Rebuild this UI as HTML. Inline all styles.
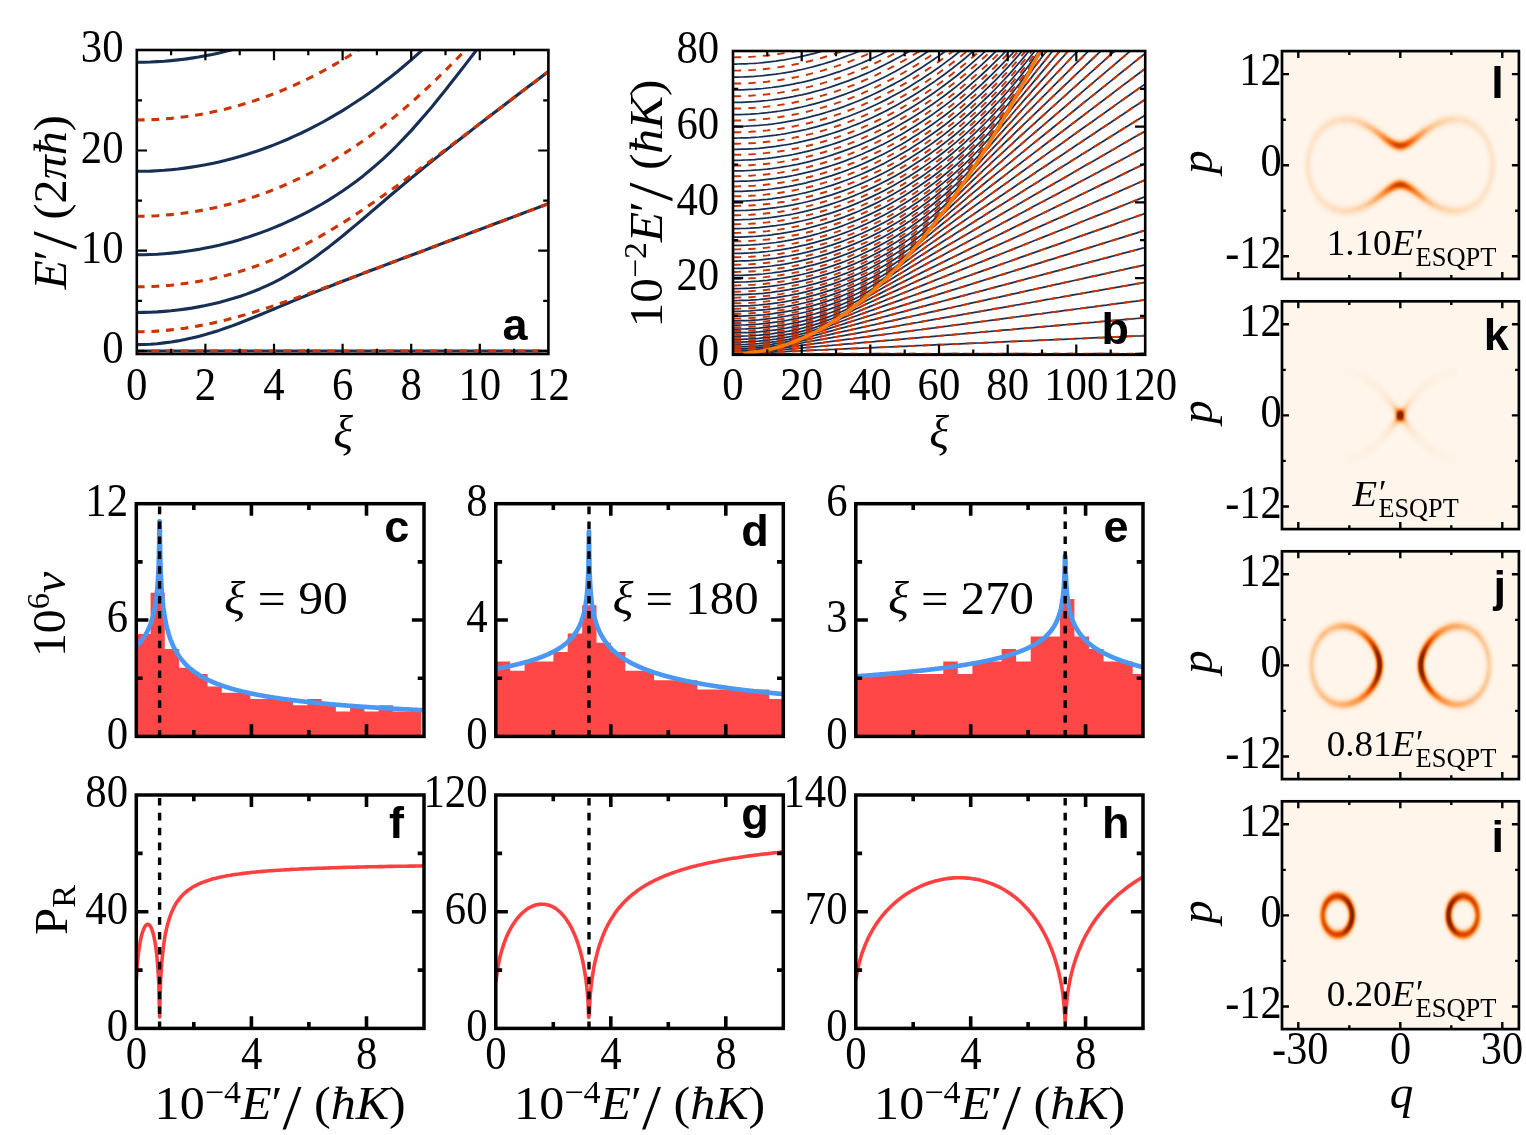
<!DOCTYPE html>
<html><head><meta charset="utf-8"><title>Figure</title>
<style>html,body{margin:0;padding:0;background:#fff}svg{display:block}</style></head>
<body>
<svg width="1526" height="1135" viewBox="0 0 1526 1135">
<rect width="1526" height="1135" fill="#fff"/>
<defs>
<clipPath id="ca"><rect x="136.8" y="50" width="411.6" height="304"/></clipPath>
<clipPath id="cb"><rect x="733" y="51" width="412.2" height="303.8"/></clipPath>
</defs>
<g clip-path="url(#ca)" fill="none" stroke-linejoin="round">
<polyline points="136.8,351 143.6,351 150.5,351 157.3,351 164.2,351 171.1,351 177.9,351 184.8,351 191.6,351 198.5,351 205.4,351 212.2,351 219.1,351 225.9,351 232.8,351 239.7,351 246.5,351 253.4,351 260.2,351 267.1,351 274,351 280.8,351 287.7,351 294.5,351 301.4,351 308.3,351 315.1,351 322,351 328.9,351 335.7,351 342.6,351 349.4,351 356.3,351 363.2,351 370,351 376.9,351 383.7,351 390.6,351 397.5,351 404.3,351 411.2,351 418,351 424.9,351 431.8,351 438.6,351 445.5,351 452.3,351 459.2,351 466.1,351 472.9,351 479.8,351 486.7,351 493.5,351 500.4,351 507.2,351 514.1,351 521,351 527.8,351 534.7,351 541.5,351 548.4,351" stroke="#172f55" stroke-width="3.1"/>
<polyline points="136.8,344.6 143.6,344.5 150.5,344.2 157.3,343.7 164.2,342.9 171.1,342 177.9,340.9 184.8,339.6 191.6,338.1 198.5,336.4 205.4,334.6 212.2,332.6 219.1,330.4 225.9,328 232.8,325.6 239.7,323 246.5,320.3 253.4,317.5 260.2,314.7 267.1,311.9 274,309 280.8,306.1 287.7,303.3 294.5,300.4 301.4,297.6 308.3,294.8 315.1,292.1 322,289.4 328.9,286.7 335.7,284 342.6,281.3 349.4,278.7 356.3,276.1 363.2,273.4 370,270.8 376.9,268.2 383.7,265.6 390.6,263 397.5,260.4 404.3,257.8 411.2,255.3 418,252.7 424.9,250.1 431.8,247.5 438.6,244.9 445.5,242.3 452.3,239.8 459.2,237.2 466.1,234.6 472.9,232 479.8,229.5 486.7,226.9 493.5,224.3 500.4,221.7 507.2,219.2 514.1,216.6 521,214 527.8,211.4 534.7,208.9 541.5,206.3 548.4,203.7" stroke="#172f55" stroke-width="3.1"/>
<polyline points="136.8,312.5 143.6,312.4 150.5,312.2 157.3,311.9 164.2,311.4 171.1,310.8 177.9,310 184.8,309.1 191.6,308.1 198.5,306.9 205.4,305.6 212.2,304.1 219.1,302.4 225.9,300.6 232.8,298.6 239.7,296.4 246.5,294.1 253.4,291.5 260.2,288.7 267.1,285.6 274,282.3 280.8,278.8 287.7,274.9 294.5,270.9 301.4,266.5 308.3,262 315.1,257.2 322,252.1 328.9,246.9 335.7,241.5 342.6,236 349.4,230.3 356.3,224.6 363.2,218.8 370,212.9 376.9,207 383.7,201.2 390.6,195.3 397.5,189.5 404.3,183.8 411.2,178.1 418,172.5 424.9,166.9 431.8,161.4 438.6,155.9 445.5,150.5 452.3,145.1 459.2,139.7 466.1,134.4 472.9,129.1 479.8,123.8 486.7,118.5 493.5,113.3 500.4,108 507.2,102.8 514.1,97.5 521,92.3 527.8,87.1 534.7,81.9 541.5,76.7 548.4,71.5" stroke="#172f55" stroke-width="3.1"/>
<polyline points="136.8,254.7 143.6,254.7 150.5,254.5 157.3,254.2 164.2,253.7 171.1,253.1 177.9,252.4 184.8,251.5 191.6,250.5 198.5,249.4 205.4,248.1 212.2,246.7 219.1,245.2 225.9,243.5 232.8,241.7 239.7,239.7 246.5,237.6 253.4,235.3 260.2,232.9 267.1,230.4 274,227.6 280.8,224.8 287.7,221.7 294.5,218.5 301.4,215.2 308.3,211.6 315.1,207.9 322,204 328.9,199.9 335.7,195.5 342.6,191 349.4,186.2 356.3,181.2 363.2,175.9 370,170.3 376.9,164.4 383.7,158.3 390.6,151.8 397.5,145 404.3,137.9 411.2,130.6 418,122.9 424.9,115 431.8,106.9 438.6,98.5 445.5,90 452.3,81.3 459.2,72.5 466.1,63.6 472.9,54.7 479.8,45.7 486.7,36.8 493.5,27.9 500.4,19 507.2,10.3 514.1,1.6 521,-7 527.8,-15.6 534.7,-24 541.5,-32.4 548.4,-40.7" stroke="#172f55" stroke-width="3.1"/>
<polyline points="136.8,171.3 143.6,171.3 150.5,171.1 157.3,170.7 164.2,170.3 171.1,169.7 177.9,169 184.8,168.1 191.6,167.1 198.5,166 205.4,164.8 212.2,163.4 219.1,161.9 225.9,160.3 232.8,158.5 239.7,156.6 246.5,154.5 253.4,152.3 260.2,150 267.1,147.5 274,144.9 280.8,142.1 287.7,139.2 294.5,136.2 301.4,133 308.3,129.6 315.1,126.1 322,122.5 328.9,118.7 335.7,114.7 342.6,110.6 349.4,106.3 356.3,101.8 363.2,97.2 370,92.4 376.9,87.5 383.7,82.3 390.6,77 397.5,71.5 404.3,65.8 411.2,59.9 418,53.8 424.9,47.5 431.8,40.9 438.6,34.1 445.5,27.1 452.3,19.8 459.2,12.3 466.1,4.4 472.9,-3.7 479.8,-12.2 486.7,-21 493.5,-30.2 500.4,-39.7 507.2,-49.6 514.1,-59.7 521,-70.2 527.8,-81.1 534.7,-92.1 541.5,-103.5 548.4,-115" stroke="#172f55" stroke-width="3.1"/>
<polyline points="136.8,62.2 143.6,62.2 150.5,62 157.3,61.6 164.2,61.2 171.1,60.6 177.9,59.9 184.8,59.1 191.6,58.1 198.5,57 205.4,55.7 212.2,54.4 219.1,52.9 225.9,51.2 232.8,49.5 239.7,47.6 246.5,45.6 253.4,43.4 260.2,41.1 267.1,38.6 274,36.1 280.8,33.4 287.7,30.5 294.5,27.5 301.4,24.4 308.3,21.1 315.1,17.7 322,14.1 328.9,10.4 335.7,6.6 342.6,2.6 349.4,-1.5 356.3,-5.8 363.2,-10.3 370,-14.9 376.9,-19.6 383.7,-24.5 390.6,-29.6 397.5,-34.8 404.3,-40.2 411.2,-45.8 418,-51.5 424.9,-57.4 431.8,-63.4 438.6,-69.6 445.5,-76 452.3,-82.6 459.2,-89.4 466.1,-96.3 472.9,-103.4 479.8,-110.7 486.7,-118.2 493.5,-125.9 500.4,-133.9 507.2,-142 514.1,-150.3 521,-158.9 527.8,-167.7 534.7,-176.7 541.5,-186 548.4,-195.5" stroke="#172f55" stroke-width="3.1"/>
<polyline points="136.8,351 143.6,351 150.5,351 157.3,351 164.2,351 171.1,351 177.9,351 184.8,351 191.6,351 198.5,351 205.4,351 212.2,351 219.1,351 225.9,351 232.8,351 239.7,351 246.5,351 253.4,351 260.2,351 267.1,351 274,351 280.8,351 287.7,351 294.5,351 301.4,351 308.3,351 315.1,351 322,351 328.9,351 335.7,351 342.6,351 349.4,351 356.3,351 363.2,351 370,351 376.9,351 383.7,351 390.6,351 397.5,351 404.3,351 411.2,351 418,351 424.9,351 431.8,351 438.6,351 445.5,351 452.3,351 459.2,351 466.1,351 472.9,351 479.8,351 486.7,351 493.5,351 500.4,351 507.2,351 514.1,351 521,351 527.8,351 534.7,351 541.5,351 548.4,351" stroke="#cc3300" stroke-width="3.1" stroke-dasharray="7.8 6.85"/>
<polyline points="136.8,331.7 143.6,331.7 150.5,331.5 157.3,331.1 164.2,330.6 171.1,329.9 177.9,329.1 184.8,328.2 191.6,327.1 198.5,325.9 205.4,324.6 212.2,323.2 219.1,321.6 225.9,319.9 232.8,318.2 239.7,316.3 246.5,314.3 253.4,312.3 260.2,310.1 267.1,307.9 274,305.7 280.8,303.3 287.7,301 294.5,298.6 301.4,296.1 308.3,293.7 315.1,291.2 322,288.6 328.9,286.1 335.7,283.6 342.6,281 349.4,278.4 356.3,275.9 363.2,273.3 370,270.7 376.9,268.1 383.7,265.6 390.6,263 397.5,260.4 404.3,257.8 411.2,255.2 418,252.7 424.9,250.1 431.8,247.5 438.6,244.9 445.5,242.3 452.3,239.8 459.2,237.2 466.1,234.6 472.9,232 479.8,229.5 486.7,226.9 493.5,224.3 500.4,221.7 507.2,219.2 514.1,216.6 521,214 527.8,211.4 534.7,208.9 541.5,206.3 548.4,203.7" stroke="#cc3300" stroke-width="3.1" stroke-dasharray="7.8 6.85"/>
<polyline points="136.8,286.8 143.6,286.8 150.5,286.6 157.3,286.2 164.2,285.8 171.1,285.2 177.9,284.4 184.8,283.5 191.6,282.5 198.5,281.4 205.4,280.1 212.2,278.7 219.1,277.1 225.9,275.4 232.8,273.5 239.7,271.5 246.5,269.3 253.4,267 260.2,264.6 267.1,261.9 274,259.1 280.8,256.2 287.7,253.1 294.5,249.9 301.4,246.4 308.3,242.9 315.1,239.2 322,235.3 328.9,231.3 335.7,227.2 342.6,223 349.4,218.6 356.3,214.1 363.2,209.5 370,204.8 376.9,200.1 383.7,195.3 390.6,190.3 397.5,185.4 404.3,180.4 411.2,175.3 418,170.2 424.9,165.1 431.8,159.9 438.6,154.8 445.5,149.6 452.3,144.4 459.2,139.2 466.1,134 472.9,128.8 479.8,123.6 486.7,118.3 493.5,113.1 500.4,107.9 507.2,102.7 514.1,97.5 521,92.3 527.8,87.1 534.7,81.9 541.5,76.7 548.4,71.5" stroke="#cc3300" stroke-width="3.1" stroke-dasharray="7.8 6.85"/>
<polyline points="136.8,216.2 143.6,216.2 150.5,216 157.3,215.7 164.2,215.2 171.1,214.6 177.9,213.9 184.8,213 191.6,212 198.5,210.9 205.4,209.7 212.2,208.3 219.1,206.8 225.9,205.1 232.8,203.3 239.7,201.4 246.5,199.3 253.4,197.1 260.2,194.7 267.1,192.2 274,189.5 280.8,186.7 287.7,183.8 294.5,180.7 301.4,177.4 308.3,174 315.1,170.4 322,166.7 328.9,162.8 335.7,158.7 342.6,154.5 349.4,150.1 356.3,145.5 363.2,140.8 370,135.9 376.9,130.8 383.7,125.5 390.6,120.1 397.5,114.4 404.3,108.6 411.2,102.7 418,96.5 424.9,90.2 431.8,83.8 438.6,77.1 445.5,70.4 452.3,63.5 459.2,56.5 466.1,49.3 472.9,42.1 479.8,34.7 486.7,27.3 493.5,19.7 500.4,12.1 507.2,4.5 514.1,-3.2 521,-11 527.8,-18.8 534.7,-26.6 541.5,-34.5 548.4,-42.3" stroke="#cc3300" stroke-width="3.1" stroke-dasharray="7.8 6.85"/>
<polyline points="136.8,120 143.6,119.9 150.5,119.7 157.3,119.4 164.2,118.9 171.1,118.4 177.9,117.6 184.8,116.8 191.6,115.8 198.5,114.7 205.4,113.5 212.2,112.1 219.1,110.6 225.9,109 232.8,107.2 239.7,105.3 246.5,103.2 253.4,101.1 260.2,98.8 267.1,96.3 274,93.7 280.8,91 287.7,88.1 294.5,85.1 301.4,81.9 308.3,78.6 315.1,75.2 322,71.6 328.9,67.8 335.7,63.9 342.6,59.9 349.4,55.7 356.3,51.3 363.2,46.8 370,42.1 376.9,37.3 383.7,32.3 390.6,27.1 397.5,21.8 404.3,16.3 411.2,10.6 418,4.8 424.9,-1.2 431.8,-7.4 438.6,-13.8 445.5,-20.4 452.3,-27.1 459.2,-34.1 466.1,-41.2 472.9,-48.5 479.8,-56.1 486.7,-63.8 493.5,-71.7 500.4,-79.8 507.2,-88 514.1,-96.5 521,-105.2 527.8,-114 534.7,-123 541.5,-132.2 548.4,-141.5" stroke="#cc3300" stroke-width="3.1" stroke-dasharray="7.8 6.85"/>
</g>
<path d="M205.4 354v-10.2M205.4 50v10.2M274 354v-10.2M274 50v10.2M342.6 354v-10.2M342.6 50v10.2M411.2 354v-10.2M411.2 50v10.2M479.8 354v-10.2M479.8 50v10.2M171.1 354v-5.2M171.1 50v5.2M239.7 354v-5.2M239.7 50v5.2M308.3 354v-5.2M308.3 50v5.2M376.9 354v-5.2M376.9 50v5.2M445.5 354v-5.2M445.5 50v5.2M514.1 354v-5.2M514.1 50v5.2M136.8 351h10.2M548.4 351h-10.2M136.8 250.7h10.2M548.4 250.7h-10.2M136.8 150.5h10.2M548.4 150.5h-10.2M136.8 300.9h5.2M548.4 300.9h-5.2M136.8 200.6h5.2M548.4 200.6h-5.2M136.8 100.3h5.2M548.4 100.3h-5.2" stroke="#000" stroke-width="2.2" fill="none"/>
<rect x="136.8" y="50" width="411.6" height="304" fill="none" stroke="#000" stroke-width="2.6"/>
<text transform="translate(123.6 363.2) scale(0.93 1)" font-family='"Liberation Serif", "DejaVu Serif", serif' font-size="46" text-anchor="end">0</text>
<text transform="translate(123.6 262.9) scale(0.93 1)" font-family='"Liberation Serif", "DejaVu Serif", serif' font-size="46" text-anchor="end">10</text>
<text transform="translate(123.6 162.7) scale(0.93 1)" font-family='"Liberation Serif", "DejaVu Serif", serif' font-size="46" text-anchor="end">20</text>
<text transform="translate(123.6 62.4) scale(0.93 1)" font-family='"Liberation Serif", "DejaVu Serif", serif' font-size="46" text-anchor="end">30</text>
<text transform="translate(136.8 399.8) scale(0.93 1)" font-family='"Liberation Serif", "DejaVu Serif", serif' font-size="46" text-anchor="middle">0</text>
<text transform="translate(205.4 399.8) scale(0.93 1)" font-family='"Liberation Serif", "DejaVu Serif", serif' font-size="46" text-anchor="middle">2</text>
<text transform="translate(274 399.8) scale(0.93 1)" font-family='"Liberation Serif", "DejaVu Serif", serif' font-size="46" text-anchor="middle">4</text>
<text transform="translate(342.6 399.8) scale(0.93 1)" font-family='"Liberation Serif", "DejaVu Serif", serif' font-size="46" text-anchor="middle">6</text>
<text transform="translate(411.2 399.8) scale(0.93 1)" font-family='"Liberation Serif", "DejaVu Serif", serif' font-size="46" text-anchor="middle">8</text>
<text transform="translate(479.8 399.8) scale(0.93 1)" font-family='"Liberation Serif", "DejaVu Serif", serif' font-size="46" text-anchor="middle">10</text>
<text transform="translate(548.4 399.8) scale(0.93 1)" font-family='"Liberation Serif", "DejaVu Serif", serif' font-size="46" text-anchor="middle">12</text>
<text x="343" y="448" font-family='"Liberation Serif", "DejaVu Serif", serif' font-size="46" text-anchor="middle" font-style="italic">ξ</text>
<text transform="translate(66.2 289.5) rotate(-90)" font-family='"Liberation Serif", "DejaVu Serif", serif' font-size="47" textLength="174.3" lengthAdjust="spacingAndGlyphs"><tspan font-style="italic">E</tspan>′<tspan font-size="64" dy="10">/</tspan><tspan dy="-10" font-size="1">​</tspan> (2<tspan font-style="italic">πħ</tspan>)</text>
<g clip-path="url(#cb)" fill="none" stroke-linejoin="round">
<g stroke="#172f55" stroke-width="1.75">
<polyline points="733,353.8 737.3,353.8 741.6,353.8 745.9,353.8 750.2,353.8 754.5,353.8 758.8,353.8 763,353.8 767.3,353.8 771.6,353.8 775.9,353.8 780.2,353.8 784.5,353.8 788.8,353.8 793.1,353.8 797.4,353.8 801.7,353.8 806,353.8 810.2,353.8 814.5,353.8 818.8,353.8 823.1,353.8 827.4,353.8 831.7,353.8 836,353.8 840.3,353.7 844.6,353.8 848.9,353.8 853.2,353.8 857.5,353.8 861.8,353.8 866,353.8 870.3,353.8 874.6,353.7 878.9,353.7 883.2,353.8 887.5,353.7 891.8,353.8 896.1,353.8 900.4,353.7 904.7,353.8 909,353.8 913.2,353.7 917.5,353.8 921.8,353.8 926.1,353.8 930.4,353.8 934.7,353.8 939,353.8 943.3,353.8 947.6,353.7 951.9,353.7 956.2,353.7 960.5,353.8 964.8,353.7 969,353.8 973.3,353.8 977.6,353.7 981.9,353.8 986.2,353.8 990.5,353.7 994.8,353.8 999.1,353.8 1003.4,353.7 1007.7,353.7 1012,353.8 1016.2,353.7 1020.5,353.7 1024.8,353.7 1029.1,353.8 1033.4,353.8 1037.7,353.8 1042,353.7 1046.3,353.8 1050.6,353.8 1054.9,353.7 1059.2,353.8 1063.5,353.8 1067.8,353.7 1072,353.7 1076.3,353.8 1080.6,353.8 1084.9,353.8 1089.2,353.8 1093.5,353.7 1097.8,353.7 1102.1,353.7 1106.4,353.7 1110.7,353.7 1115,353.8 1119.2,353.8 1123.5,353.8 1127.8,353.8 1132.1,353.8 1136.4,353.8 1140.7,353.7 1145,353.7"/>
<polyline points="733,353.7 737.3,353.6 741.6,353.5 745.9,353.3 750.2,353.1 754.5,352.9 758.8,352.7 763,352.5 767.3,352.3 771.6,352.1 775.9,351.9 780.2,351.7 784.5,351.6 788.8,351.4 793.1,351.2 797.4,351 801.7,350.8 806,350.6 810.2,350.4 814.5,350.2 818.8,350 823.1,349.9 827.4,349.7 831.7,349.5 836,349.3 840.3,349.1 844.6,348.9 848.9,348.7 853.2,348.5 857.5,348.3 861.8,348.2 866,348 870.3,347.8 874.6,347.6 878.9,347.4 883.2,347.2 887.5,347 891.8,346.8 896.1,346.6 900.4,346.4 904.7,346.3 909,346.1 913.2,345.9 917.5,345.7 921.8,345.5 926.1,345.3 930.4,345.1 934.7,344.9 939,344.7 943.3,344.6 947.6,344.4 951.9,344.2 956.2,344 960.5,343.8 964.8,343.6 969,343.4 973.3,343.2 977.6,343 981.9,342.9 986.2,342.7 990.5,342.5 994.8,342.3 999.1,342.1 1003.4,341.9 1007.7,341.7 1012,341.5 1016.2,341.3 1020.5,341.1 1024.8,341 1029.1,340.8 1033.4,340.6 1037.7,340.4 1042,340.2 1046.3,340 1050.6,339.8 1054.9,339.6 1059.2,339.4 1063.5,339.3 1067.8,339.1 1072,338.9 1076.3,338.7 1080.6,338.5 1084.9,338.3 1089.2,338.1 1093.5,337.9 1097.8,337.7 1102.1,337.6 1106.4,337.4 1110.7,337.2 1115,337 1119.2,336.8 1123.5,336.6 1127.8,336.4 1132.1,336.2 1136.4,336 1140.7,335.9 1145,335.7"/>
<polyline points="733,353.3 737.3,353.3 741.6,353.2 745.9,353 750.2,352.7 754.5,352.3 758.8,351.9 763,351.5 767.3,351.1 771.6,350.7 775.9,350.3 780.2,349.9 784.5,349.5 788.8,349.2 793.1,348.8 797.4,348.4 801.7,348 806,347.6 810.2,347.3 814.5,346.9 818.8,346.5 823.1,346.1 827.4,345.7 831.7,345.4 836,345 840.3,344.6 844.6,344.2 848.9,343.8 853.2,343.5 857.5,343.1 861.8,342.7 866,342.3 870.3,342 874.6,341.6 878.9,341.2 883.2,340.8 887.5,340.4 891.8,340.1 896.1,339.7 900.4,339.3 904.7,338.9 909,338.5 913.2,338.2 917.5,337.8 921.8,337.4 926.1,337 930.4,336.7 934.7,336.3 939,335.9 943.3,335.5 947.6,335.1 951.9,334.8 956.2,334.4 960.5,334 964.8,333.6 969,333.2 973.3,332.9 977.6,332.5 981.9,332.1 986.2,331.7 990.5,331.4 994.8,331 999.1,330.6 1003.4,330.2 1007.7,329.8 1012,329.5 1016.2,329.1 1020.5,328.7 1024.8,328.3 1029.1,327.9 1033.4,327.6 1037.7,327.2 1042,326.8 1046.3,326.4 1050.6,326.1 1054.9,325.7 1059.2,325.3 1063.5,324.9 1067.8,324.5 1072,324.2 1076.3,323.8 1080.6,323.4 1084.9,323 1089.2,322.6 1093.5,322.3 1097.8,321.9 1102.1,321.5 1106.4,321.1 1110.7,320.8 1115,320.4 1119.2,320 1123.5,319.6 1127.8,319.2 1132.1,318.9 1136.4,318.5 1140.7,318.1 1145,317.7"/>
<polyline points="733,352.6 737.3,352.6 741.6,352.5 745.9,352.3 750.2,352.1 754.5,351.8 758.8,351.4 763,350.8 767.3,350.1 771.6,349.5 775.9,348.9 780.2,348.3 784.5,347.7 788.8,347.1 793.1,346.6 797.4,346 801.7,345.4 806,344.8 810.2,344.3 814.5,343.7 818.8,343.1 823.1,342.6 827.4,342 831.7,341.4 836,340.8 840.3,340.3 844.6,339.7 848.9,339.1 853.2,338.6 857.5,338 861.8,337.4 866,336.9 870.3,336.3 874.6,335.7 878.9,335.2 883.2,334.6 887.5,334 891.8,333.5 896.1,332.9 900.4,332.3 904.7,331.7 909,331.2 913.2,330.6 917.5,330 921.8,329.5 926.1,328.9 930.4,328.3 934.7,327.8 939,327.2 943.3,326.6 947.6,326.1 951.9,325.5 956.2,324.9 960.5,324.4 964.8,323.8 969,323.2 973.3,322.7 977.6,322.1 981.9,321.5 986.2,321 990.5,320.4 994.8,319.8 999.1,319.3 1003.4,318.7 1007.7,318.1 1012,317.5 1016.2,317 1020.5,316.4 1024.8,315.8 1029.1,315.3 1033.4,314.7 1037.7,314.1 1042,313.6 1046.3,313 1050.6,312.4 1054.9,311.9 1059.2,311.3 1063.5,310.7 1067.8,310.2 1072,309.6 1076.3,309 1080.6,308.5 1084.9,307.9 1089.2,307.3 1093.5,306.8 1097.8,306.2 1102.1,305.6 1106.4,305.1 1110.7,304.5 1115,303.9 1119.2,303.4 1123.5,302.8 1127.8,302.2 1132.1,301.6 1136.4,301.1 1140.7,300.5 1145,299.9"/>
<polyline points="733,351.6 737.3,351.6 741.6,351.5 745.9,351.4 750.2,351.1 754.5,350.9 758.8,350.5 763,350 767.3,349.5 771.6,348.7 775.9,347.9 780.2,347 784.5,346.2 788.8,345.4 793.1,344.6 797.4,343.8 801.7,343 806,342.2 810.2,341.5 814.5,340.7 818.8,339.9 823.1,339.2 827.4,338.4 831.7,337.7 836,336.9 840.3,336.1 844.6,335.4 848.9,334.6 853.2,333.9 857.5,333.1 861.8,332.3 866,331.6 870.3,330.8 874.6,330.1 878.9,329.3 883.2,328.5 887.5,327.8 891.8,327 896.1,326.3 900.4,325.5 904.7,324.7 909,324 913.2,323.2 917.5,322.5 921.8,321.7 926.1,320.9 930.4,320.2 934.7,319.4 939,318.7 943.3,317.9 947.6,317.2 951.9,316.4 956.2,315.6 960.5,314.9 964.8,314.1 969,313.4 973.3,312.6 977.6,311.9 981.9,311.1 986.2,310.3 990.5,309.6 994.8,308.8 999.1,308.1 1003.4,307.3 1007.7,306.6 1012,305.8 1016.2,305 1020.5,304.3 1024.8,303.5 1029.1,302.8 1033.4,302 1037.7,301.3 1042,300.5 1046.3,299.7 1050.6,299 1054.9,298.2 1059.2,297.5 1063.5,296.7 1067.8,296 1072,295.2 1076.3,294.4 1080.6,293.7 1084.9,292.9 1089.2,292.2 1093.5,291.4 1097.8,290.7 1102.1,289.9 1106.4,289.1 1110.7,288.4 1115,287.6 1119.2,286.9 1123.5,286.1 1127.8,285.4 1132.1,284.6 1136.4,283.8 1140.7,283.1 1145,282.3"/>
<polyline points="733,350.3 737.3,350.3 741.6,350.2 745.9,350.1 750.2,349.9 754.5,349.6 758.8,349.2 763,348.8 767.3,348.3 771.6,347.7 775.9,347 780.2,346.2 784.5,345.1 788.8,344 793.1,342.9 797.4,341.9 801.7,340.9 806,339.9 810.2,338.9 814.5,338 818.8,337 823.1,336 827.4,335.1 831.7,334.1 836,333.1 840.3,332.2 844.6,331.2 848.9,330.3 853.2,329.3 857.5,328.4 861.8,327.4 866,326.5 870.3,325.5 874.6,324.6 878.9,323.6 883.2,322.7 887.5,321.7 891.8,320.8 896.1,319.8 900.4,318.9 904.7,317.9 909,317 913.2,316 917.5,315.1 921.8,314.1 926.1,313.2 930.4,312.2 934.7,311.3 939,310.3 943.3,309.4 947.6,308.4 951.9,307.5 956.2,306.5 960.5,305.6 964.8,304.6 969,303.7 973.3,302.7 977.6,301.8 981.9,300.8 986.2,299.9 990.5,298.9 994.8,298 999.1,297.1 1003.4,296.1 1007.7,295.2 1012,294.2 1016.2,293.3 1020.5,292.3 1024.8,291.4 1029.1,290.4 1033.4,289.5 1037.7,288.5 1042,287.6 1046.3,286.6 1050.6,285.7 1054.9,284.7 1059.2,283.8 1063.5,282.8 1067.8,281.9 1072,281 1076.3,280 1080.6,279.1 1084.9,278.1 1089.2,277.2 1093.5,276.2 1097.8,275.3 1102.1,274.3 1106.4,273.4 1110.7,272.4 1115,271.5 1119.2,270.5 1123.5,269.6 1127.8,268.6 1132.1,267.7 1136.4,266.8 1140.7,265.8 1145,264.9"/>
<polyline points="733,348.8 737.3,348.7 741.6,348.6 745.9,348.5 750.2,348.3 754.5,348 758.8,347.7 763,347.2 767.3,346.8 771.6,346.2 775.9,345.6 780.2,344.8 784.5,344 788.8,343 793.1,341.8 797.4,340.5 801.7,339.2 806,337.9 810.2,336.7 814.5,335.5 818.8,334.3 823.1,333.1 827.4,331.9 831.7,330.8 836,329.6 840.3,328.4 844.6,327.3 848.9,326.1 853.2,325 857.5,323.8 861.8,322.7 866,321.5 870.3,320.4 874.6,319.3 878.9,318.1 883.2,317 887.5,315.8 891.8,314.7 896.1,313.5 900.4,312.4 904.7,311.3 909,310.1 913.2,309 917.5,307.8 921.8,306.7 926.1,305.6 930.4,304.4 934.7,303.3 939,302.1 943.3,301 947.6,299.9 951.9,298.7 956.2,297.6 960.5,296.4 964.8,295.3 969,294.2 973.3,293 977.6,291.9 981.9,290.8 986.2,289.6 990.5,288.5 994.8,287.3 999.1,286.2 1003.4,285.1 1007.7,283.9 1012,282.8 1016.2,281.7 1020.5,280.5 1024.8,279.4 1029.1,278.2 1033.4,277.1 1037.7,276 1042,274.8 1046.3,273.7 1050.6,272.6 1054.9,271.4 1059.2,270.3 1063.5,269.1 1067.8,268 1072,266.9 1076.3,265.7 1080.6,264.6 1084.9,263.5 1089.2,262.3 1093.5,261.2 1097.8,260.1 1102.1,258.9 1106.4,257.8 1110.7,256.6 1115,255.5 1119.2,254.4 1123.5,253.2 1127.8,252.1 1132.1,251 1136.4,249.8 1140.7,248.7 1145,247.6"/>
<polyline points="733,346.9 737.3,346.8 741.6,346.7 745.9,346.6 750.2,346.4 754.5,346.1 758.8,345.8 763,345.4 767.3,344.9 771.6,344.4 775.9,343.7 780.2,343 784.5,342.3 788.8,341.4 793.1,340.4 797.4,339.3 801.7,338 806,336.5 810.2,334.9 814.5,333.4 818.8,331.9 823.1,330.5 827.4,329.1 831.7,327.7 836,326.3 840.3,325 844.6,323.6 848.9,322.2 853.2,320.9 857.5,319.5 861.8,318.2 866,316.8 870.3,315.5 874.6,314.2 878.9,312.8 883.2,311.5 887.5,310.1 891.8,308.8 896.1,307.5 900.4,306.1 904.7,304.8 909,303.5 913.2,302.1 917.5,300.8 921.8,299.5 926.1,298.1 930.4,296.8 934.7,295.5 939,294.1 943.3,292.8 947.6,291.5 951.9,290.1 956.2,288.8 960.5,287.5 964.8,286.2 969,284.8 973.3,283.5 977.6,282.2 981.9,280.8 986.2,279.5 990.5,278.2 994.8,276.9 999.1,275.5 1003.4,274.2 1007.7,272.9 1012,271.5 1016.2,270.2 1020.5,268.9 1024.8,267.6 1029.1,266.2 1033.4,264.9 1037.7,263.6 1042,262.3 1046.3,260.9 1050.6,259.6 1054.9,258.3 1059.2,256.9 1063.5,255.6 1067.8,254.3 1072,253 1076.3,251.6 1080.6,250.3 1084.9,249 1089.2,247.7 1093.5,246.3 1097.8,245 1102.1,243.7 1106.4,242.4 1110.7,241 1115,239.7 1119.2,238.4 1123.5,237.1 1127.8,235.7 1132.1,234.4 1136.4,233.1 1140.7,231.7 1145,230.4"/>
<polyline points="733,344.7 737.3,344.6 741.6,344.5 745.9,344.4 750.2,344.2 754.5,343.9 758.8,343.6 763,343.2 767.3,342.7 771.6,342.2 775.9,341.6 780.2,340.9 784.5,340.1 788.8,339.3 793.1,338.4 797.4,337.4 801.7,336.2 806,335 810.2,333.6 814.5,332 818.8,330.2 823.1,328.4 827.4,326.6 831.7,325 836,323.4 840.3,321.8 844.6,320.2 848.9,318.6 853.2,317 857.5,315.5 861.8,313.9 866,312.4 870.3,310.8 874.6,309.3 878.9,307.7 883.2,306.2 887.5,304.7 891.8,303.1 896.1,301.6 900.4,300.1 904.7,298.5 909,297 913.2,295.5 917.5,294 921.8,292.4 926.1,290.9 930.4,289.4 934.7,287.9 939,286.3 943.3,284.8 947.6,283.3 951.9,281.8 956.2,280.2 960.5,278.7 964.8,277.2 969,275.7 973.3,274.2 977.6,272.6 981.9,271.1 986.2,269.6 990.5,268.1 994.8,266.6 999.1,265 1003.4,263.5 1007.7,262 1012,260.5 1016.2,259 1020.5,257.4 1024.8,255.9 1029.1,254.4 1033.4,252.9 1037.7,251.4 1042,249.8 1046.3,248.3 1050.6,246.8 1054.9,245.3 1059.2,243.8 1063.5,242.3 1067.8,240.7 1072,239.2 1076.3,237.7 1080.6,236.2 1084.9,234.7 1089.2,233.2 1093.5,231.6 1097.8,230.1 1102.1,228.6 1106.4,227.1 1110.7,225.6 1115,224.1 1119.2,222.5 1123.5,221 1127.8,219.5 1132.1,218 1136.4,216.5 1140.7,215 1145,213.5"/>
<polyline points="733,342.2 737.3,342.1 741.6,342.1 745.9,341.9 750.2,341.7 754.5,341.4 758.8,341.1 763,340.7 767.3,340.2 771.6,339.7 775.9,339.1 780.2,338.4 784.5,337.7 788.8,336.9 793.1,336 797.4,335 801.7,333.9 806,332.8 810.2,331.5 814.5,330.1 818.8,328.6 823.1,326.9 827.4,324.9 831.7,322.9 836,320.9 840.3,318.9 844.6,317.1 848.9,315.3 853.2,313.5 857.5,311.7 861.8,309.9 866,308.2 870.3,306.4 874.6,304.7 878.9,302.9 883.2,301.2 887.5,299.4 891.8,297.7 896.1,296 900.4,294.2 904.7,292.5 909,290.8 913.2,289 917.5,287.3 921.8,285.6 926.1,283.9 930.4,282.2 934.7,280.4 939,278.7 943.3,277 947.6,275.3 951.9,273.6 956.2,271.8 960.5,270.1 964.8,268.4 969,266.7 973.3,265 977.6,263.3 981.9,261.6 986.2,259.9 990.5,258.1 994.8,256.4 999.1,254.7 1003.4,253 1007.7,251.3 1012,249.6 1016.2,247.9 1020.5,246.2 1024.8,244.5 1029.1,242.7 1033.4,241 1037.7,239.3 1042,237.6 1046.3,235.9 1050.6,234.2 1054.9,232.5 1059.2,230.8 1063.5,229.1 1067.8,227.4 1072,225.7 1076.3,224 1080.6,222.2 1084.9,220.5 1089.2,218.8 1093.5,217.1 1097.8,215.4 1102.1,213.7 1106.4,212 1110.7,210.3 1115,208.6 1119.2,206.9 1123.5,205.2 1127.8,203.5 1132.1,201.8 1136.4,200.1 1140.7,198.4 1145,196.7"/>
<polyline points="733,339.4 737.3,339.3 741.6,339.3 745.9,339.1 750.2,338.9 754.5,338.6 758.8,338.3 763,337.9 767.3,337.4 771.6,336.9 775.9,336.3 780.2,335.7 784.5,334.9 788.8,334.1 793.1,333.3 797.4,332.3 801.7,331.3 806,330.2 810.2,328.9 814.5,327.6 818.8,326.2 823.1,324.7 827.4,323 831.7,321.2 836,319.2 840.3,316.9 844.6,314.6 848.9,312.4 853.2,310.3 857.5,308.3 861.8,306.2 866,304.2 870.3,302.3 874.6,300.3 878.9,298.3 883.2,296.4 887.5,294.4 891.8,292.5 896.1,290.6 900.4,288.6 904.7,286.7 909,284.8 913.2,282.8 917.5,280.9 921.8,279 926.1,277.1 930.4,275.1 934.7,273.2 939,271.3 943.3,269.4 947.6,267.5 951.9,265.6 956.2,263.7 960.5,261.8 964.8,259.8 969,257.9 973.3,256 977.6,254.1 981.9,252.2 986.2,250.3 990.5,248.4 994.8,246.5 999.1,244.6 1003.4,242.7 1007.7,240.8 1012,238.9 1016.2,237 1020.5,235.1 1024.8,233.2 1029.1,231.3 1033.4,229.4 1037.7,227.5 1042,225.6 1046.3,223.7 1050.6,221.8 1054.9,219.9 1059.2,218 1063.5,216.1 1067.8,214.2 1072,212.3 1076.3,210.4 1080.6,208.5 1084.9,206.6 1089.2,204.7 1093.5,202.8 1097.8,200.9 1102.1,199 1106.4,197.1 1110.7,195.2 1115,193.3 1119.2,191.4 1123.5,189.5 1127.8,187.6 1132.1,185.7 1136.4,183.8 1140.7,181.9 1145,180"/>
<polyline points="733,336.3 737.3,336.2 741.6,336.1 745.9,336 750.2,335.8 754.5,335.5 758.8,335.2 763,334.8 767.3,334.3 771.6,333.8 775.9,333.2 780.2,332.6 784.5,331.9 788.8,331.1 793.1,330.2 797.4,329.3 801.7,328.3 806,327.2 810.2,326 814.5,324.7 818.8,323.4 823.1,321.9 827.4,320.4 831.7,318.7 836,316.9 840.3,315 844.6,312.8 848.9,310.4 853.2,307.9 857.5,305.4 861.8,303 866,300.7 870.3,298.5 874.6,296.3 878.9,294.1 883.2,291.9 887.5,289.7 891.8,287.6 896.1,285.4 900.4,283.3 904.7,281.1 909,279 913.2,276.9 917.5,274.7 921.8,272.6 926.1,270.5 930.4,268.4 934.7,266.2 939,264.1 943.3,262 947.6,259.9 951.9,257.8 956.2,255.7 960.5,253.6 964.8,251.5 969,249.4 973.3,247.3 977.6,245.2 981.9,243.1 986.2,241 990.5,238.9 994.8,236.8 999.1,234.7 1003.4,232.6 1007.7,230.5 1012,228.4 1016.2,226.3 1020.5,224.2 1024.8,222.1 1029.1,220 1033.4,217.9 1037.7,215.8 1042,213.7 1046.3,211.6 1050.6,209.5 1054.9,207.4 1059.2,205.3 1063.5,203.3 1067.8,201.2 1072,199.1 1076.3,197 1080.6,194.9 1084.9,192.8 1089.2,190.7 1093.5,188.6 1097.8,186.5 1102.1,184.4 1106.4,182.4 1110.7,180.3 1115,178.2 1119.2,176.1 1123.5,174 1127.8,171.9 1132.1,169.8 1136.4,167.7 1140.7,165.7 1145,163.6"/>
<polyline points="733,332.9 737.3,332.8 741.6,332.7 745.9,332.6 750.2,332.4 754.5,332.1 758.8,331.8 763,331.4 767.3,330.9 771.6,330.4 775.9,329.8 780.2,329.2 784.5,328.5 788.8,327.7 793.1,326.9 797.4,325.9 801.7,324.9 806,323.9 810.2,322.7 814.5,321.5 818.8,320.2 823.1,318.8 827.4,317.3 831.7,315.7 836,314 840.3,312.2 844.6,310.2 848.9,308.2 853.2,305.9 857.5,303.4 861.8,300.6 866,297.9 870.3,295.2 874.6,292.7 878.9,290.2 883.2,287.7 887.5,285.3 891.8,282.9 896.1,280.6 900.4,278.2 904.7,275.8 909,273.5 913.2,271.1 917.5,268.8 921.8,266.5 926.1,264.1 930.4,261.8 934.7,259.5 939,257.2 943.3,254.9 947.6,252.5 951.9,250.2 956.2,247.9 960.5,245.6 964.8,243.3 969,241 973.3,238.7 977.6,236.4 981.9,234.1 986.2,231.8 990.5,229.5 994.8,227.2 999.1,224.9 1003.4,222.6 1007.7,220.4 1012,218.1 1016.2,215.8 1020.5,213.5 1024.8,211.2 1029.1,208.9 1033.4,206.6 1037.7,204.3 1042,202 1046.3,199.8 1050.6,197.5 1054.9,195.2 1059.2,192.9 1063.5,190.6 1067.8,188.3 1072,186.1 1076.3,183.8 1080.6,181.5 1084.9,179.2 1089.2,176.9 1093.5,174.7 1097.8,172.4 1102.1,170.1 1106.4,167.8 1110.7,165.5 1115,163.2 1119.2,161 1123.5,158.7 1127.8,156.4 1132.1,154.1 1136.4,151.9 1140.7,149.6 1145,147.3"/>
<polyline points="733,329.2 737.3,329.1 741.6,329 745.9,328.9 750.2,328.7 754.5,328.4 758.8,328.1 763,327.7 767.3,327.2 771.6,326.7 775.9,326.1 780.2,325.5 784.5,324.8 788.8,324 793.1,323.2 797.4,322.3 801.7,321.3 806,320.2 810.2,319.1 814.5,317.9 818.8,316.6 823.1,315.2 827.4,313.8 831.7,312.2 836,310.6 840.3,308.8 844.6,307 848.9,305 853.2,303 857.5,300.8 861.8,298.4 866,295.8 870.3,292.9 874.6,289.9 878.9,286.9 883.2,284.1 887.5,281.4 891.8,278.7 896.1,276.1 900.4,273.5 904.7,270.9 909,268.3 913.2,265.7 917.5,263.2 921.8,260.6 926.1,258.1 930.4,255.5 934.7,253 939,250.5 943.3,247.9 947.6,245.4 951.9,242.9 956.2,240.4 960.5,237.9 964.8,235.4 969,232.9 973.3,230.4 977.6,227.9 981.9,225.4 986.2,222.9 990.5,220.4 994.8,217.9 999.1,215.4 1003.4,212.9 1007.7,210.4 1012,208 1016.2,205.5 1020.5,203 1024.8,200.5 1029.1,198 1033.4,195.5 1037.7,193.1 1042,190.6 1046.3,188.1 1050.6,185.6 1054.9,183.1 1059.2,180.7 1063.5,178.2 1067.8,175.7 1072,173.2 1076.3,170.8 1080.6,168.3 1084.9,165.8 1089.2,163.3 1093.5,160.9 1097.8,158.4 1102.1,155.9 1106.4,153.4 1110.7,151 1115,148.5 1119.2,146 1123.5,143.6 1127.8,141.1 1132.1,138.6 1136.4,136.1 1140.7,133.7 1145,131.2"/>
<polyline points="733,325.1 737.3,325.1 741.6,325 745.9,324.9 750.2,324.7 754.5,324.4 758.8,324.1 763,323.7 767.3,323.2 771.6,322.7 775.9,322.1 780.2,321.5 784.5,320.8 788.8,320 793.1,319.2 797.4,318.3 801.7,317.3 806,316.3 810.2,315.1 814.5,314 818.8,312.7 823.1,311.3 827.4,309.9 831.7,308.4 836,306.8 840.3,305.1 844.6,303.3 848.9,301.4 853.2,299.5 857.5,297.4 861.8,295.1 866,292.8 870.3,290.3 874.6,287.6 878.9,284.6 883.2,281.4 887.5,278.2 891.8,275 896.1,272 900.4,269.1 904.7,266.3 909,263.4 913.2,260.6 917.5,257.8 921.8,255.1 926.1,252.3 930.4,249.5 934.7,246.8 939,244 943.3,241.3 947.6,238.6 951.9,235.9 956.2,233.1 960.5,230.4 964.8,227.7 969,225 973.3,222.3 977.6,219.6 981.9,216.9 986.2,214.2 990.5,211.5 994.8,208.8 999.1,206.1 1003.4,203.4 1007.7,200.8 1012,198.1 1016.2,195.4 1020.5,192.7 1024.8,190 1029.1,187.3 1033.4,184.7 1037.7,182 1042,179.3 1046.3,176.6 1050.6,174 1054.9,171.3 1059.2,168.6 1063.5,165.9 1067.8,163.3 1072,160.6 1076.3,157.9 1080.6,155.3 1084.9,152.6 1089.2,149.9 1093.5,147.3 1097.8,144.6 1102.1,141.9 1106.4,139.3 1110.7,136.6 1115,133.9 1119.2,131.3 1123.5,128.6 1127.8,125.9 1132.1,123.3 1136.4,120.6 1140.7,118 1145,115.3"/>
<polyline points="733,320.8 737.3,320.8 741.6,320.7 745.9,320.6 750.2,320.4 754.5,320.1 758.8,319.8 763,319.4 767.3,318.9 771.6,318.4 775.9,317.8 780.2,317.2 784.5,316.5 788.8,315.7 793.1,314.9 797.4,314 801.7,313 806,312 810.2,310.9 814.5,309.7 818.8,308.5 823.1,307.1 827.4,305.7 831.7,304.2 836,302.7 840.3,301 844.6,299.3 848.9,297.4 853.2,295.5 857.5,293.5 861.8,291.3 866,289.1 870.3,286.8 874.6,284.3 878.9,281.6 883.2,278.8 887.5,275.8 891.8,272.4 896.1,268.9 900.4,265.5 904.7,262.2 909,259.1 913.2,256 917.5,252.9 921.8,249.9 926.1,246.9 930.4,243.9 934.7,240.9 939,237.9 943.3,235 947.6,232 951.9,229.1 956.2,226.1 960.5,223.2 964.8,220.3 969,217.4 973.3,214.5 977.6,211.5 981.9,208.6 986.2,205.7 990.5,202.8 994.8,200 999.1,197.1 1003.4,194.2 1007.7,191.3 1012,188.4 1016.2,185.5 1020.5,182.6 1024.8,179.8 1029.1,176.9 1033.4,174 1037.7,171.1 1042,168.3 1046.3,165.4 1050.6,162.5 1054.9,159.6 1059.2,156.8 1063.5,153.9 1067.8,151 1072,148.2 1076.3,145.3 1080.6,142.5 1084.9,139.6 1089.2,136.7 1093.5,133.9 1097.8,131 1102.1,128.1 1106.4,125.3 1110.7,122.4 1115,119.6 1119.2,116.7 1123.5,113.9 1127.8,111 1132.1,108.1 1136.4,105.3 1140.7,102.4 1145,99.6"/>
<polyline points="733,316.2 737.3,316.2 741.6,316.1 745.9,315.9 750.2,315.7 754.5,315.5 758.8,315.1 763,314.8 767.3,314.3 771.6,313.8 775.9,313.2 780.2,312.6 784.5,311.9 788.8,311.1 793.1,310.3 797.4,309.4 801.7,308.4 806,307.4 810.2,306.3 814.5,305.1 818.8,303.9 823.1,302.6 827.4,301.2 831.7,299.7 836,298.2 840.3,296.6 844.6,294.8 848.9,293.1 853.2,291.2 857.5,289.2 861.8,287.1 866,285 870.3,282.7 874.6,280.3 878.9,277.8 883.2,275.2 887.5,272.4 891.8,269.5 896.1,266.3 900.4,262.9 904.7,259.2 909,255.5 913.2,251.9 917.5,248.5 921.8,245.1 926.1,241.8 930.4,238.6 934.7,235.3 939,232.1 943.3,228.9 947.6,225.8 951.9,222.6 956.2,219.4 960.5,216.3 964.8,213.1 969,210 973.3,206.9 977.6,203.8 981.9,200.7 986.2,197.5 990.5,194.4 994.8,191.3 999.1,188.2 1003.4,185.1 1007.7,182.1 1012,179 1016.2,175.9 1020.5,172.8 1024.8,169.7 1029.1,166.6 1033.4,163.6 1037.7,160.5 1042,157.4 1046.3,154.4 1050.6,151.3 1054.9,148.2 1059.2,145.2 1063.5,142.1 1067.8,139 1072,136 1076.3,132.9 1080.6,129.8 1084.9,126.8 1089.2,123.7 1093.5,120.7 1097.8,117.6 1102.1,114.6 1106.4,111.5 1110.7,108.5 1115,105.4 1119.2,102.4 1123.5,99.3 1127.8,96.3 1132.1,93.2 1136.4,90.2 1140.7,87.1 1145,84.1"/>
<polyline points="733,311.3 737.3,311.3 741.6,311.2 745.9,311 750.2,310.8 754.5,310.5 758.8,310.2 763,309.8 767.3,309.4 771.6,308.9 775.9,308.3 780.2,307.7 784.5,307 788.8,306.2 793.1,305.4 797.4,304.5 801.7,303.5 806,302.5 810.2,301.4 814.5,300.3 818.8,299 823.1,297.7 827.4,296.4 831.7,294.9 836,293.4 840.3,291.8 844.6,290.1 848.9,288.3 853.2,286.5 857.5,284.5 861.8,282.5 866,280.4 870.3,278.2 874.6,275.9 878.9,273.4 883.2,270.9 887.5,268.3 891.8,265.5 896.1,262.6 900.4,259.6 904.7,256.3 909,252.8 913.2,249 917.5,245 921.8,241.1 926.1,237.4 930.4,233.8 934.7,230.2 939,226.7 943.3,223.3 947.6,219.9 951.9,216.4 956.2,213 960.5,209.7 964.8,206.3 969,202.9 973.3,199.6 977.6,196.3 981.9,192.9 986.2,189.6 990.5,186.3 994.8,183 999.1,179.7 1003.4,176.4 1007.7,173.1 1012,169.8 1016.2,166.5 1020.5,163.2 1024.8,159.9 1029.1,156.6 1033.4,153.4 1037.7,150.1 1042,146.8 1046.3,143.5 1050.6,140.3 1054.9,137 1059.2,133.8 1063.5,130.5 1067.8,127.2 1072,124 1076.3,120.7 1080.6,117.5 1084.9,114.2 1089.2,110.9 1093.5,107.7 1097.8,104.4 1102.1,101.2 1106.4,97.9 1110.7,94.7 1115,91.4 1119.2,88.2 1123.5,84.9 1127.8,81.7 1132.1,78.5 1136.4,75.2 1140.7,72 1145,68.7"/>
<polyline points="733,306.1 737.3,306 741.6,305.9 745.9,305.8 750.2,305.6 754.5,305.3 758.8,305 763,304.6 767.3,304.2 771.6,303.7 775.9,303.1 780.2,302.5 784.5,301.8 788.8,301 793.1,300.2 797.4,299.3 801.7,298.3 806,297.3 810.2,296.2 814.5,295.1 818.8,293.9 823.1,292.6 827.4,291.2 831.7,289.8 836,288.3 840.3,286.7 844.6,285 848.9,283.3 853.2,281.4 857.5,279.5 861.8,277.5 866,275.5 870.3,273.3 874.6,271 878.9,268.7 883.2,266.2 887.5,263.7 891.8,261 896.1,258.2 900.4,255.3 904.7,252.3 909,249.1 913.2,245.7 917.5,242.1 921.8,238.2 926.1,234.1 930.4,229.9 934.7,225.8 939,221.9 943.3,218.1 947.6,214.4 951.9,210.7 956.2,207.1 960.5,203.4 964.8,199.8 969,196.2 973.3,192.6 977.6,189.1 981.9,185.5 986.2,182 990.5,178.4 994.8,174.9 999.1,171.4 1003.4,167.9 1007.7,164.4 1012,160.9 1016.2,157.4 1020.5,153.9 1024.8,150.4 1029.1,146.9 1033.4,143.4 1037.7,139.9 1042,136.5 1046.3,133 1050.6,129.5 1054.9,126 1059.2,122.6 1063.5,119.1 1067.8,115.6 1072,112.2 1076.3,108.7 1080.6,105.3 1084.9,101.8 1089.2,98.4 1093.5,94.9 1097.8,91.5 1102.1,88 1106.4,84.6 1110.7,81.1 1115,77.7 1119.2,74.2 1123.5,70.8 1127.8,67.4 1132.1,63.9 1136.4,60.5 1140.7,57 1145,53.6"/>
<polyline points="733,300.5 737.3,300.5 741.6,300.4 745.9,300.3 750.2,300.1 754.5,299.8 758.8,299.5 763,299.1 767.3,298.6 771.6,298.1 775.9,297.6 780.2,296.9 784.5,296.2 788.8,295.5 793.1,294.7 797.4,293.8 801.7,292.8 806,291.8 810.2,290.7 814.5,289.6 818.8,288.4 823.1,287.1 827.4,285.7 831.7,284.3 836,282.8 840.3,281.2 844.6,279.6 848.9,277.9 853.2,276.1 857.5,274.2 861.8,272.2 866,270.2 870.3,268 874.6,265.8 878.9,263.5 883.2,261.1 887.5,258.6 891.8,256 896.1,253.3 900.4,250.5 904.7,247.6 909,244.5 913.2,241.3 917.5,238 921.8,234.5 926.1,230.9 930.4,226.9 934.7,222.6 939,218.2 943.3,213.8 947.6,209.6 951.9,205.5 956.2,201.5 960.5,197.6 964.8,193.7 969,189.9 973.3,186 977.6,182.2 981.9,178.4 986.2,174.7 990.5,170.9 994.8,167.1 999.1,163.4 1003.4,159.7 1007.7,155.9 1012,152.2 1016.2,148.5 1020.5,144.8 1024.8,141.1 1029.1,137.4 1033.4,133.7 1037.7,130 1042,126.3 1046.3,122.7 1050.6,119 1054.9,115.3 1059.2,111.6 1063.5,108 1067.8,104.3 1072,100.6 1076.3,97 1080.6,93.3 1084.9,89.7 1089.2,86 1093.5,82.4 1097.8,78.7 1102.1,75.1 1106.4,71.4 1110.7,67.8 1115,64.1 1119.2,60.5 1123.5,56.9 1127.8,53.2 1132.1,49.6 1136.4,46 1140.7,42.3 1145,38.7"/>
<polyline points="733,294.7 737.3,294.7 741.6,294.6 745.9,294.4 750.2,294.2 754.5,294 758.8,293.6 763,293.3 767.3,292.8 771.6,292.3 775.9,291.7 780.2,291.1 784.5,290.4 788.8,289.7 793.1,288.8 797.4,288 801.7,287 806,286 810.2,284.9 814.5,283.8 818.8,282.6 823.1,281.3 827.4,280 831.7,278.5 836,277.1 840.3,275.5 844.6,273.9 848.9,272.2 853.2,270.4 857.5,268.5 861.8,266.6 866,264.5 870.3,262.4 874.6,260.3 878.9,258 883.2,255.6 887.5,253.2 891.8,250.6 896.1,248 900.4,245.2 904.7,242.4 909,239.4 913.2,236.3 917.5,233.2 921.8,229.8 926.1,226.4 930.4,222.8 934.7,219 939,215 943.3,210.6 947.6,206 951.9,201.3 956.2,196.7 960.5,192.4 964.8,188.1 969,184 973.3,179.9 977.6,175.8 981.9,171.7 986.2,167.7 990.5,163.7 994.8,159.7 999.1,155.7 1003.4,151.8 1007.7,147.8 1012,143.9 1016.2,139.9 1020.5,136 1024.8,132.1 1029.1,128.2 1033.4,124.3 1037.7,120.4 1042,116.5 1046.3,112.6 1050.6,108.7 1054.9,104.8 1059.2,100.9 1063.5,97.1 1067.8,93.2 1072,89.3 1076.3,85.5 1080.6,81.6 1084.9,77.8 1089.2,73.9 1093.5,70.1 1097.8,66.2 1102.1,62.4 1106.4,58.5 1110.7,54.7 1115,50.8 1119.2,47 1123.5,43.2 1127.8,39.3 1132.1,35.5"/>
<polyline points="733,288.6 737.3,288.6 741.6,288.5 745.9,288.3 750.2,288.1 754.5,287.8 758.8,287.5 763,287.1 767.3,286.7 771.6,286.2 775.9,285.6 780.2,285 784.5,284.3 788.8,283.5 793.1,282.7 797.4,281.8 801.7,280.9 806,279.9 810.2,278.8 814.5,277.7 818.8,276.5 823.1,275.2 827.4,273.9 831.7,272.5 836,271 840.3,269.4 844.6,267.8 848.9,266.1 853.2,264.4 857.5,262.5 861.8,260.6 866,258.6 870.3,256.5 874.6,254.3 878.9,252.1 883.2,249.8 887.5,247.4 891.8,244.8 896.1,242.2 900.4,239.6 904.7,236.8 909,233.9 913.2,230.9 917.5,227.8 921.8,224.6 926.1,221.2 930.4,217.8 934.7,214.2 939,210.5 943.3,206.5 947.6,202.4 951.9,198 956.2,193.3 960.5,188.3 964.8,183.5 969,178.8 973.3,174.3 977.6,169.8 981.9,165.5 986.2,161.2 990.5,156.9 994.8,152.7 999.1,148.4 1003.4,144.2 1007.7,140 1012,135.9 1016.2,131.7 1020.5,127.5 1024.8,123.4 1029.1,119.3 1033.4,115.1 1037.7,111 1042,106.9 1046.3,102.8 1050.6,98.7 1054.9,94.6 1059.2,90.5 1063.5,86.4 1067.8,82.4 1072,78.3 1076.3,74.2 1080.6,70.2 1084.9,66.1 1089.2,62 1093.5,58 1097.8,53.9 1102.1,49.9 1106.4,45.8 1110.7,41.8 1115,37.7 1119.2,33.7"/>
<polyline points="733,282.1 737.3,282.1 741.6,282 745.9,281.9 750.2,281.7 754.5,281.4 758.8,281.1 763,280.7 767.3,280.3 771.6,279.7 775.9,279.2 780.2,278.5 784.5,277.9 788.8,277.1 793.1,276.3 797.4,275.4 801.7,274.5 806,273.5 810.2,272.4 814.5,271.3 818.8,270.1 823.1,268.8 827.4,267.5 831.7,266.1 836,264.6 840.3,263.1 844.6,261.5 848.9,259.8 853.2,258 857.5,256.2 861.8,254.3 866,252.3 870.3,250.2 874.6,248.1 878.9,245.9 883.2,243.6 887.5,241.2 891.8,238.7 896.1,236.2 900.4,233.5 904.7,230.8 909,227.9 913.2,225 917.5,222 921.8,218.8 926.1,215.6 930.4,212.2 934.7,208.8 939,205.2 943.3,201.4 947.6,197.6 951.9,193.5 956.2,189.3 960.5,184.8 964.8,180 969,174.9 973.3,169.7 977.6,164.7 981.9,159.9 986.2,155.2 990.5,150.6 994.8,146.1 999.1,141.6 1003.4,137.1 1007.7,132.6 1012,128.2 1016.2,123.8 1020.5,119.4 1024.8,115 1029.1,110.7 1033.4,106.3 1037.7,102 1042,97.6 1046.3,93.3 1050.6,89 1054.9,84.7 1059.2,80.4 1063.5,76.1 1067.8,71.8 1072,67.5 1076.3,63.2 1080.6,59 1084.9,54.7 1089.2,50.4 1093.5,46.2 1097.8,41.9 1102.1,37.6 1106.4,33.4"/>
<polyline points="733,275.4 737.3,275.4 741.6,275.3 745.9,275.1 750.2,274.9 754.5,274.7 758.8,274.3 763,274 767.3,273.5 771.6,273 775.9,272.4 780.2,271.8 784.5,271.1 788.8,270.4 793.1,269.6 797.4,268.7 801.7,267.8 806,266.7 810.2,265.7 814.5,264.6 818.8,263.4 823.1,262.1 827.4,260.8 831.7,259.4 836,257.9 840.3,256.4 844.6,254.8 848.9,253.1 853.2,251.4 857.5,249.5 861.8,247.7 866,245.7 870.3,243.6 874.6,241.5 878.9,239.3 883.2,237.1 887.5,234.7 891.8,232.3 896.1,229.7 900.4,227.1 904.7,224.4 909,221.6 913.2,218.7 917.5,215.8 921.8,212.7 926.1,209.5 930.4,206.2 934.7,202.8 939,199.3 943.3,195.7 947.6,192 951.9,188.1 956.2,184.1 960.5,179.9 964.8,175.6 969,171 973.3,166.2 977.6,160.9 981.9,155.5 986.2,150.2 990.5,145 994.8,140.1 999.1,135.2 1003.4,130.4 1007.7,125.7 1012,121 1016.2,116.3 1020.5,111.6 1024.8,107 1029.1,102.4 1033.4,97.8 1037.7,93.2 1042,88.7 1046.3,84.1 1050.6,79.6 1054.9,75 1059.2,70.5 1063.5,66 1067.8,61.5 1072,57 1076.3,52.5 1080.6,48 1084.9,43.5 1089.2,39.1 1093.5,34.6"/>
<polyline points="733,268.4 737.3,268.3 741.6,268.3 745.9,268.1 750.2,267.9 754.5,267.6 758.8,267.3 763,266.9 767.3,266.5 771.6,266 775.9,265.4 780.2,264.8 784.5,264.1 788.8,263.3 793.1,262.5 797.4,261.7 801.7,260.7 806,259.7 810.2,258.7 814.5,257.5 818.8,256.3 823.1,255.1 827.4,253.8 831.7,252.4 836,250.9 840.3,249.4 844.6,247.8 848.9,246.1 853.2,244.4 857.5,242.6 861.8,240.7 866,238.8 870.3,236.7 874.6,234.6 878.9,232.5 883.2,230.2 887.5,227.9 891.8,225.4 896.1,222.9 900.4,220.4 904.7,217.7 909,214.9 913.2,212.1 917.5,209.2 921.8,206.1 926.1,203 930.4,199.8 934.7,196.5 939,193 943.3,189.5 947.6,185.9 951.9,182.1 956.2,178.2 960.5,174.2 964.8,170.1 969,165.8 973.3,161.3 977.6,156.7 981.9,151.7 986.2,146.4 990.5,140.9 994.8,135.2 999.1,129.7 1003.4,124.4 1007.7,119.3 1012,114.3 1016.2,109.3 1020.5,104.3 1024.8,99.4 1029.1,94.6 1033.4,89.7 1037.7,84.9 1042,80.1 1046.3,75.3 1050.6,70.5 1054.9,65.7 1059.2,61 1063.5,56.3 1067.8,51.5 1072,46.8 1076.3,42.1 1080.6,37.4 1084.9,32.7"/>
<polyline points="733,261 737.3,261 741.6,260.9 745.9,260.8 750.2,260.6 754.5,260.3 758.8,260 763,259.6 767.3,259.1 771.6,258.6 775.9,258.1 780.2,257.4 784.5,256.7 788.8,256 793.1,255.2 797.4,254.3 801.7,253.4 806,252.4 810.2,251.3 814.5,250.2 818.8,249 823.1,247.8 827.4,246.4 831.7,245.1 836,243.6 840.3,242.1 844.6,240.5 848.9,238.8 853.2,237.1 857.5,235.3 861.8,233.5 866,231.5 870.3,229.5 874.6,227.4 878.9,225.3 883.2,223 887.5,220.7 891.8,218.3 896.1,215.8 900.4,213.3 904.7,210.6 909,207.9 913.2,205.1 917.5,202.2 921.8,199.2 926.1,196.1 930.4,193 934.7,189.7 939,186.3 943.3,182.9 947.6,179.3 951.9,175.6 956.2,171.8 960.5,167.9 964.8,163.9 969,159.8 973.3,155.5 977.6,151 981.9,146.5 986.2,141.7 990.5,136.7 994.8,131.4 999.1,125.7 1003.4,119.8 1007.7,113.9 1012,108.3 1016.2,102.9 1020.5,97.6 1024.8,92.4 1029.1,87.2 1033.4,82.1 1037.7,77 1042,71.9 1046.3,66.8 1050.6,61.8 1054.9,56.8 1059.2,51.8 1063.5,46.8 1067.8,41.9 1072,36.9 1076.3,32"/>
<polyline points="733,253.4 737.3,253.4 741.6,253.3 745.9,253.1 750.2,252.9 754.5,252.6 758.8,252.3 763,251.9 767.3,251.5 771.6,251 775.9,250.4 780.2,249.8 784.5,249.1 788.8,248.4 793.1,247.6 797.4,246.7 801.7,245.7 806,244.8 810.2,243.7 814.5,242.6 818.8,241.4 823.1,240.1 827.4,238.8 831.7,237.4 836,236 840.3,234.5 844.6,232.9 848.9,231.2 853.2,229.5 857.5,227.7 861.8,225.9 866,224 870.3,222 874.6,219.9 878.9,217.7 883.2,215.5 887.5,213.2 891.8,210.8 896.1,208.4 900.4,205.8 904.7,203.2 909,200.5 913.2,197.8 917.5,194.9 921.8,191.9 926.1,188.9 930.4,185.8 934.7,182.6 939,179.2 943.3,175.8 947.6,172.3 951.9,168.7 956.2,165 960.5,161.2 964.8,157.2 969,153.2 973.3,149 977.6,144.7 981.9,140.3 986.2,135.8 990.5,131 994.8,126.1 999.1,121 1003.4,115.7 1007.7,109.9 1012,103.9 1016.2,97.7 1020.5,91.7 1024.8,86 1029.1,80.4 1033.4,74.9 1037.7,69.5 1042,64.1 1046.3,58.8 1050.6,53.5 1054.9,48.2 1059.2,43 1063.5,37.8 1067.8,32.6"/>
<polyline points="733,245.4 737.3,245.4 741.6,245.3 745.9,245.2 750.2,245 754.5,244.7 758.8,244.4 763,244 767.3,243.5 771.6,243 775.9,242.5 780.2,241.8 784.5,241.2 788.8,240.4 793.1,239.6 797.4,238.7 801.7,237.8 806,236.8 810.2,235.8 814.5,234.6 818.8,233.5 823.1,232.2 827.4,230.9 831.7,229.5 836,228.1 840.3,226.6 844.6,225 848.9,223.3 853.2,221.6 857.5,219.9 861.8,218 866,216.1 870.3,214.1 874.6,212 878.9,209.9 883.2,207.7 887.5,205.4 891.8,203 896.1,200.6 900.4,198.1 904.7,195.5 909,192.8 913.2,190.1 917.5,187.2 921.8,184.3 926.1,181.3 930.4,178.2 934.7,175 939,171.8 943.3,168.4 947.6,164.9 951.9,161.4 956.2,157.7 960.5,154 964.8,150.1 969,146.2 973.3,142.1 977.6,137.9 981.9,133.6 986.2,129.2 990.5,124.6 994.8,119.9 999.1,115 1003.4,110 1007.7,104.8 1012,99.4 1016.2,93.6 1020.5,87.4 1024.8,81.1 1029.1,74.7 1033.4,68.6 1037.7,62.7 1042,57 1046.3,51.3 1050.6,45.7 1054.9,40.2 1059.2,34.6"/>
<polyline points="733,237.2 737.3,237.2 741.6,237.1 745.9,236.9 750.2,236.7 754.5,236.5 758.8,236.1 763,235.7 767.3,235.3 771.6,234.8 775.9,234.2 780.2,233.6 784.5,232.9 788.8,232.2 793.1,231.4 797.4,230.5 801.7,229.6 806,228.6 810.2,227.5 814.5,226.4 818.8,225.2 823.1,224 827.4,222.7 831.7,221.3 836,219.8 840.3,218.3 844.6,216.8 848.9,215.1 853.2,213.4 857.5,211.7 861.8,209.8 866,207.9 870.3,205.9 874.6,203.9 878.9,201.7 883.2,199.5 887.5,197.3 891.8,194.9 896.1,192.5 900.4,190 904.7,187.4 909,184.8 913.2,182.1 917.5,179.3 921.8,176.4 926.1,173.4 930.4,170.3 934.7,167.2 939,163.9 943.3,160.6 947.6,157.2 951.9,153.7 956.2,150.1 960.5,146.4 964.8,142.6 969,138.7 973.3,134.7 977.6,130.6 981.9,126.4 986.2,122 990.5,117.6 994.8,113 999.1,108.3 1003.4,103.5 1007.7,98.5 1012,93.3 1016.2,88 1020.5,82.5 1024.8,76.6 1029.1,70.4 1033.4,63.9 1037.7,57.3 1042,50.8 1046.3,44.6 1050.6,38.6 1054.9,32.6"/>
<polyline points="733,228.6 737.3,228.6 741.6,228.5 745.9,228.4 750.2,228.2 754.5,227.9 758.8,227.6 763,227.2 767.3,226.7 771.6,226.2 775.9,225.7 780.2,225 784.5,224.4 788.8,223.6 793.1,222.8 797.4,221.9 801.7,221 806,220 810.2,219 814.5,217.8 818.8,216.7 823.1,215.4 827.4,214.1 831.7,212.8 836,211.3 840.3,209.8 844.6,208.2 848.9,206.6 853.2,204.9 857.5,203.1 861.8,201.3 866,199.4 870.3,197.4 874.6,195.4 878.9,193.3 883.2,191.1 887.5,188.8 891.8,186.5 896.1,184.1 900.4,181.6 904.7,179.1 909,176.4 913.2,173.7 917.5,170.9 921.8,168.1 926.1,165.1 930.4,162.1 934.7,159 939,155.8 943.3,152.5 947.6,149.1 951.9,145.6 956.2,142.1 960.5,138.4 964.8,134.7 969,130.8 973.3,126.9 977.6,122.8 981.9,118.7 986.2,114.4 990.5,110.1 994.8,105.6 999.1,101 1003.4,96.3 1007.7,91.5 1012,86.5 1016.2,81.4 1020.5,76.1 1024.8,70.6 1029.1,65 1033.4,59.1 1037.7,52.9 1042,46.2 1046.3,39.4 1050.6,32.6"/>
<polyline points="733,219.8 737.3,219.8 741.6,219.7 745.9,219.5 750.2,219.3 754.5,219 758.8,218.7 763,218.3 767.3,217.9 771.6,217.4 775.9,216.8 780.2,216.2 784.5,215.5 788.8,214.8 793.1,214 797.4,213.1 801.7,212.2 806,211.2 810.2,210.1 814.5,209 818.8,207.8 823.1,206.6 827.4,205.3 831.7,203.9 836,202.5 840.3,201 844.6,199.4 848.9,197.8 853.2,196.1 857.5,194.3 861.8,192.5 866,190.6 870.3,188.6 874.6,186.6 878.9,184.5 883.2,182.3 887.5,180.1 891.8,177.8 896.1,175.4 900.4,172.9 904.7,170.4 909,167.7 913.2,165.1 917.5,162.3 921.8,159.4 926.1,156.5 930.4,153.5 934.7,150.4 939,147.2 943.3,144 947.6,140.6 951.9,137.2 956.2,133.7 960.5,130.1 964.8,126.4 969,122.6 973.3,118.7 977.6,114.7 981.9,110.6 986.2,106.4 990.5,102.1 994.8,97.7 999.1,93.2 1003.4,88.6 1007.7,83.9 1012,79 1016.2,74 1020.5,68.9 1024.8,63.7 1029.1,58.3 1033.4,52.7 1037.7,46.9 1042,40.9 1046.3,34.7"/>
<polyline points="733,210.6 737.3,210.6 741.6,210.5 745.9,210.4 750.2,210.2 754.5,209.9 758.8,209.6 763,209.2 767.3,208.7 771.6,208.2 775.9,207.7 780.2,207 784.5,206.4 788.8,205.6 793.1,204.8 797.4,203.9 801.7,203 806,202 810.2,201 814.5,199.9 818.8,198.7 823.1,197.4 827.4,196.1 831.7,194.8 836,193.3 840.3,191.8 844.6,190.3 848.9,188.7 853.2,187 857.5,185.2 861.8,183.4 866,181.5 870.3,179.5 874.6,177.5 878.9,175.4 883.2,173.2 887.5,171 891.8,168.7 896.1,166.3 900.4,163.9 904.7,161.3 909,158.7 913.2,156.1 917.5,153.3 921.8,150.5 926.1,147.6 930.4,144.6 934.7,141.5 939,138.4 943.3,135.1 947.6,131.8 951.9,128.4 956.2,124.9 960.5,121.4 964.8,117.7 969,114 973.3,110.1 977.6,106.2 981.9,102.1 986.2,98 990.5,93.8 994.8,89.5 999.1,85 1003.4,80.5 1007.7,75.8 1012,71.1 1016.2,66.2 1020.5,61.2 1024.8,56.1 1029.1,50.8 1033.4,45.4 1037.7,39.9 1042,34.2"/>
<polyline points="733,201.2 737.3,201.1 741.6,201 745.9,200.9 750.2,200.7 754.5,200.4 758.8,200.1 763,199.7 767.3,199.3 771.6,198.8 775.9,198.2 780.2,197.6 784.5,196.9 788.8,196.1 793.1,195.3 797.4,194.5 801.7,193.5 806,192.6 810.2,191.5 814.5,190.4 818.8,189.2 823.1,188 827.4,186.7 831.7,185.3 836,183.9 840.3,182.4 844.6,180.8 848.9,179.2 853.2,177.5 857.5,175.8 861.8,174 866,172.1 870.3,170.1 874.6,168.1 878.9,166 883.2,163.9 887.5,161.6 891.8,159.3 896.1,157 900.4,154.5 904.7,152 909,149.4 913.2,146.8 917.5,144 921.8,141.2 926.1,138.3 930.4,135.3 934.7,132.3 939,129.2 943.3,126 947.6,122.7 951.9,119.3 956.2,115.9 960.5,112.3 964.8,108.7 969,105 973.3,101.2 977.6,97.3 981.9,93.3 986.2,89.2 990.5,85 994.8,80.8 999.1,76.4 1003.4,71.9 1007.7,67.3 1012,62.6 1016.2,57.9 1020.5,52.9 1024.8,47.9 1029.1,42.8 1033.4,37.5 1037.7,32.1"/>
<polyline points="733,191.4 737.3,191.4 741.6,191.3 745.9,191.1 750.2,190.9 754.5,190.7 758.8,190.3 763,189.9 767.3,189.5 771.6,189 775.9,188.4 780.2,187.8 784.5,187.1 788.8,186.4 793.1,185.6 797.4,184.7 801.7,183.8 806,182.8 810.2,181.7 814.5,180.6 818.8,179.5 823.1,178.2 827.4,176.9 831.7,175.6 836,174.1 840.3,172.7 844.6,171.1 848.9,169.5 853.2,167.8 857.5,166.1 861.8,164.2 866,162.4 870.3,160.4 874.6,158.4 878.9,156.3 883.2,154.2 887.5,151.9 891.8,149.7 896.1,147.3 900.4,144.9 904.7,142.4 909,139.8 913.2,137.1 917.5,134.4 921.8,131.6 926.1,128.7 930.4,125.8 934.7,122.8 939,119.6 943.3,116.5 947.6,113.2 951.9,109.9 956.2,106.4 960.5,102.9 964.8,99.3 969,95.6 973.3,91.9 977.6,88 981.9,84.1 986.2,80 990.5,75.9 994.8,71.7 999.1,67.4 1003.4,62.9 1007.7,58.4 1012,53.8 1016.2,49.1 1020.5,44.3 1024.8,39.3 1029.1,34.3"/>
<polyline points="733,181.3 737.3,181.3 741.6,181.2 745.9,181.1 750.2,180.9 754.5,180.6 758.8,180.3 763,179.9 767.3,179.4 771.6,178.9 775.9,178.4 780.2,177.7 784.5,177.1 788.8,176.3 793.1,175.5 797.4,174.6 801.7,173.7 806,172.7 810.2,171.7 814.5,170.6 818.8,169.4 823.1,168.2 827.4,166.9 831.7,165.5 836,164.1 840.3,162.6 844.6,161.1 848.9,159.4 853.2,157.8 857.5,156 861.8,154.2 866,152.3 870.3,150.4 874.6,148.4 878.9,146.3 883.2,144.2 887.5,141.9 891.8,139.7 896.1,137.3 900.4,134.9 904.7,132.4 909,129.8 913.2,127.2 917.5,124.5 921.8,121.7 926.1,118.8 930.4,115.9 934.7,112.9 939,109.8 943.3,106.6 947.6,103.4 951.9,100.1 956.2,96.7 960.5,93.2 964.8,89.6 969,86 973.3,82.2 977.6,78.4 981.9,74.5 986.2,70.5 990.5,66.4 994.8,62.2 999.1,58 1003.4,53.6 1007.7,49.1 1012,44.6 1016.2,39.9 1020.5,35.1"/>
<polyline points="733,171 737.3,170.9 741.6,170.8 745.9,170.7 750.2,170.5 754.5,170.2 758.8,169.9 763,169.5 767.3,169.1 771.6,168.6 775.9,168 780.2,167.4 784.5,166.7 788.8,166 793.1,165.1 797.4,164.3 801.7,163.4 806,162.4 810.2,161.3 814.5,160.2 818.8,159 823.1,157.8 827.4,156.5 831.7,155.2 836,153.7 840.3,152.2 844.6,150.7 848.9,149.1 853.2,147.4 857.5,145.7 861.8,143.9 866,142 870.3,140.1 874.6,138.1 878.9,136 883.2,133.8 887.5,131.6 891.8,129.4 896.1,127 900.4,124.6 904.7,122.1 909,119.6 913.2,116.9 917.5,114.2 921.8,111.5 926.1,108.6 930.4,105.7 934.7,102.7 939,99.6 943.3,96.5 947.6,93.3 951.9,90 956.2,86.6 960.5,83.1 964.8,79.6 969,75.9 973.3,72.2 977.6,68.4 981.9,64.6 986.2,60.6 990.5,56.5 994.8,52.4 999.1,48.2 1003.4,43.9 1007.7,39.4 1012,34.9"/>
<polyline points="733,160.3 737.3,160.3 741.6,160.2 745.9,160 750.2,159.8 754.5,159.6 758.8,159.2 763,158.8 767.3,158.4 771.6,157.9 775.9,157.3 780.2,156.7 784.5,156 788.8,155.3 793.1,154.5 797.4,153.6 801.7,152.7 806,151.7 810.2,150.7 814.5,149.5 818.8,148.4 823.1,147.1 827.4,145.8 831.7,144.5 836,143.1 840.3,141.6 844.6,140 848.9,138.4 853.2,136.8 857.5,135 861.8,133.2 866,131.4 870.3,129.4 874.6,127.4 878.9,125.4 883.2,123.2 887.5,121 891.8,118.8 896.1,116.4 900.4,114 904.7,111.5 909,109 913.2,106.4 917.5,103.7 921.8,100.9 926.1,98.1 930.4,95.2 934.7,92.2 939,89.1 943.3,86 947.6,82.8 951.9,79.5 956.2,76.2 960.5,72.7 964.8,69.2 969,65.6 973.3,61.9 977.6,58.1 981.9,54.3 986.2,50.4 990.5,46.3 994.8,42.2 999.1,38 1003.4,33.8"/>
<polyline points="733,149.3 737.3,149.3 741.6,149.2 745.9,149.1 750.2,148.8 754.5,148.6 758.8,148.3 763,147.9 767.3,147.4 771.6,146.9 775.9,146.4 780.2,145.7 784.5,145 788.8,144.3 793.1,143.5 797.4,142.6 801.7,141.7 806,140.7 810.2,139.7 814.5,138.6 818.8,137.4 823.1,136.2 827.4,134.9 831.7,133.5 836,132.1 840.3,130.6 844.6,129.1 848.9,127.5 853.2,125.8 857.5,124.1 861.8,122.3 866,120.4 870.3,118.5 874.6,116.5 878.9,114.4 883.2,112.3 887.5,110.1 891.8,107.8 896.1,105.5 900.4,103.1 904.7,100.6 909,98.1 913.2,95.5 917.5,92.8 921.8,90.1 926.1,87.2 930.4,84.3 934.7,81.4 939,78.3 943.3,75.2 947.6,72 951.9,68.8 956.2,65.4 960.5,62 964.8,58.5 969,54.9 973.3,51.2 977.6,47.5 981.9,43.7 986.2,39.8 990.5,35.8"/>
<polyline points="733,138 737.3,138 741.6,137.9 745.9,137.8 750.2,137.6 754.5,137.3 758.8,137 763,136.6 767.3,136.1 771.6,135.6 775.9,135.1 780.2,134.5 784.5,133.8 788.8,133 793.1,132.2 797.4,131.4 801.7,130.4 806,129.5 810.2,128.4 814.5,127.3 818.8,126.1 823.1,124.9 827.4,123.6 831.7,122.3 836,120.8 840.3,119.4 844.6,117.8 848.9,116.2 853.2,114.5 857.5,112.8 861.8,111 866,109.2 870.3,107.2 874.6,105.2 878.9,103.2 883.2,101.1 887.5,98.9 891.8,96.6 896.1,94.3 900.4,91.9 904.7,89.4 909,86.9 913.2,84.3 917.5,81.6 921.8,78.9 926.1,76.1 930.4,73.2 934.7,70.2 939,67.2 943.3,64.1 947.6,60.9 951.9,57.7 956.2,54.3 960.5,50.9 964.8,47.5 969,43.9 973.3,40.3 977.6,36.5 981.9,32.7"/>
<polyline points="733,126.5 737.3,126.4 741.6,126.3 745.9,126.2 750.2,126 754.5,125.7 758.8,125.4 763,125 767.3,124.6 771.6,124.1 775.9,123.5 780.2,122.9 784.5,122.2 788.8,121.4 793.1,120.6 797.4,119.8 801.7,118.9 806,117.9 810.2,116.8 814.5,115.7 818.8,114.6 823.1,113.3 827.4,112 831.7,110.7 836,109.3 840.3,107.8 844.6,106.3 848.9,104.6 853.2,103 857.5,101.3 861.8,99.5 866,97.6 870.3,95.7 874.6,93.7 878.9,91.6 883.2,89.5 887.5,87.3 891.8,85.1 896.1,82.8 900.4,80.4 904.7,77.9 909,75.4 913.2,72.8 917.5,70.1 921.8,67.4 926.1,64.6 930.4,61.7 934.7,58.8 939,55.8 943.3,52.7 947.6,49.5 951.9,46.3 956.2,43 960.5,39.6 964.8,36.1 969,32.6"/>
<polyline points="733,114.6 737.3,114.5 741.6,114.5 745.9,114.3 750.2,114.1 754.5,113.8 758.8,113.5 763,113.1 767.3,112.7 771.6,112.2 775.9,111.6 780.2,111 784.5,110.3 788.8,109.6 793.1,108.8 797.4,107.9 801.7,107 806,106 810.2,104.9 814.5,103.8 818.8,102.7 823.1,101.4 827.4,100.2 831.7,98.8 836,97.4 840.3,95.9 844.6,94.4 848.9,92.8 853.2,91.1 857.5,89.4 861.8,87.6 866,85.7 870.3,83.8 874.6,81.8 878.9,79.8 883.2,77.7 887.5,75.5 891.8,73.2 896.1,70.9 900.4,68.5 904.7,66.1 909,63.6 913.2,61 917.5,58.3 921.8,55.6 926.1,52.8 930.4,50 934.7,47 939,44 943.3,40.9 947.6,37.8 951.9,34.6"/>
<polyline points="733,102.4 737.3,102.4 741.6,102.3 745.9,102.1 750.2,101.9 754.5,101.7 758.8,101.3 763,100.9 767.3,100.5 771.6,100 775.9,99.4 780.2,98.8 784.5,98.1 788.8,97.4 793.1,96.6 797.4,95.7 801.7,94.8 806,93.8 810.2,92.8 814.5,91.7 818.8,90.5 823.1,89.3 827.4,88 831.7,86.6 836,85.2 840.3,83.7 844.6,82.2 848.9,80.6 853.2,78.9 857.5,77.2 861.8,75.4 866,73.6 870.3,71.7 874.6,69.7 878.9,67.6 883.2,65.5 887.5,63.3 891.8,61.1 896.1,58.8 900.4,56.4 904.7,54 909,51.5 913.2,48.9 917.5,46.2 921.8,43.5 926.1,40.7 930.4,37.9 934.7,34.9"/>
<polyline points="733,89.9 737.3,89.9 741.6,89.8 745.9,89.6 750.2,89.4 754.5,89.2 758.8,88.8 763,88.5 767.3,88 771.6,87.5 775.9,86.9 780.2,86.3 784.5,85.6 788.8,84.9 793.1,84.1 797.4,83.2 801.7,82.3 806,81.3 810.2,80.3 814.5,79.2 818.8,78 823.1,76.8 827.4,75.5 831.7,74.1 836,72.7 840.3,71.3 844.6,69.7 848.9,68.1 853.2,66.5 857.5,64.7 861.8,63 866,61.1 870.3,59.2 874.6,57.2 878.9,55.2 883.2,53.1 887.5,50.9 891.8,48.6 896.1,46.3 900.4,44 904.7,41.5 909,39 913.2,36.5 917.5,33.8"/>
<polyline points="733,77.1 737.3,77.1 741.6,77 745.9,76.8 750.2,76.6 754.5,76.4 758.8,76 763,75.7 767.3,75.2 771.6,74.7 775.9,74.2 780.2,73.5 784.5,72.8 788.8,72.1 793.1,71.3 797.4,70.4 801.7,69.5 806,68.5 810.2,67.5 814.5,66.4 818.8,65.2 823.1,64 827.4,62.7 831.7,61.4 836,59.9 840.3,58.5 844.6,56.9 848.9,55.3 853.2,53.7 857.5,52 861.8,50.2 866,48.3 870.3,46.4 874.6,44.4 878.9,42.4 883.2,40.3 887.5,38.1 891.8,35.9 896.1,33.6"/>
<polyline points="733,64 737.3,64 741.6,63.9 745.9,63.8 750.2,63.5 754.5,63.3 758.8,63 763,62.6 767.3,62.1 771.6,61.6 775.9,61.1 780.2,60.4 784.5,59.8 788.8,59 793.1,58.2 797.4,57.3 801.7,56.4 806,55.4 810.2,54.4 814.5,53.3 818.8,52.1 823.1,50.9 827.4,49.6 831.7,48.3 836,46.9 840.3,45.4 844.6,43.9 848.9,42.3 853.2,40.6 857.5,38.9 861.8,37.1 866,35.3"/>
<polyline points="733,50.6 737.3,50.6 741.6,50.5 745.9,50.4 750.2,50.1 754.5,49.9 758.8,49.6 763,49.2 767.3,48.7 771.6,48.2 775.9,47.7 780.2,47 784.5,46.4 788.8,45.6 793.1,44.8 797.4,44 801.7,43 806,42 810.2,41 814.5,39.9 818.8,38.7 823.1,37.5 827.4,36.2 831.7,34.9"/>
</g>
<g stroke="#cc3300" stroke-width="1.95" stroke-dasharray="7.4 7.15" stroke-dashoffset="-0.8">
<polyline points="733,353.8 737.3,353.8 741.6,353.8 745.9,353.8 750.2,353.8 754.5,353.8 758.8,353.8 763,353.8 767.3,353.8 771.6,353.8 775.9,353.8 780.2,353.8 784.5,353.8 788.8,353.8 793.1,353.8 797.4,353.8 801.7,353.8 806,353.8 810.2,353.8 814.5,353.8 818.8,353.8 823.1,353.8 827.4,353.8 831.7,353.8 836,353.8 840.3,353.7 844.6,353.8 848.9,353.8 853.2,353.8 857.5,353.7 861.8,353.8 866,353.7 870.3,353.8 874.6,353.8 878.9,353.8 883.2,353.7 887.5,353.8 891.8,353.8 896.1,353.8 900.4,353.8 904.7,353.8 909,353.8 913.2,353.7 917.5,353.8 921.8,353.8 926.1,353.8 930.4,353.8 934.7,353.8 939,353.8 943.3,353.8 947.6,353.8 951.9,353.8 956.2,353.8 960.5,353.8 964.8,353.7 969,353.7 973.3,353.8 977.6,353.8 981.9,353.7 986.2,353.7 990.5,353.7 994.8,353.8 999.1,353.8 1003.4,353.8 1007.7,353.7 1012,353.7 1016.2,353.8 1020.5,353.8 1024.8,353.8 1029.1,353.7 1033.4,353.7 1037.7,353.8 1042,353.8 1046.3,353.8 1050.6,353.8 1054.9,353.7 1059.2,353.8 1063.5,353.7 1067.8,353.8 1072,353.8 1076.3,353.8 1080.6,353.8 1084.9,353.8 1089.2,353.7 1093.5,353.7 1097.8,353.8 1102.1,353.7 1106.4,353.7 1110.7,353.8 1115,353.8 1119.2,353.8 1123.5,353.8 1127.8,353.8 1132.1,353.7 1136.4,353.7 1140.7,353.7 1145,353.8"/>
<polyline points="733,353.5 737.3,353.5 741.6,353.4 745.9,353.2 750.2,353.1 754.5,352.9 758.8,352.7 763,352.5 767.3,352.3 771.6,352.1 775.9,351.9 780.2,351.7 784.5,351.6 788.8,351.4 793.1,351.2 797.4,351 801.7,350.8 806,350.6 810.2,350.4 814.5,350.2 818.8,350 823.1,349.9 827.4,349.7 831.7,349.5 836,349.3 840.3,349.1 844.6,348.9 848.9,348.7 853.2,348.5 857.5,348.3 861.8,348.2 866,348 870.3,347.8 874.6,347.6 878.9,347.4 883.2,347.2 887.5,347 891.8,346.8 896.1,346.6 900.4,346.4 904.7,346.3 909,346.1 913.2,345.9 917.5,345.7 921.8,345.5 926.1,345.3 930.4,345.1 934.7,344.9 939,344.7 943.3,344.6 947.6,344.4 951.9,344.2 956.2,344 960.5,343.8 964.8,343.6 969,343.4 973.3,343.2 977.6,343 981.9,342.9 986.2,342.7 990.5,342.5 994.8,342.3 999.1,342.1 1003.4,341.9 1007.7,341.7 1012,341.5 1016.2,341.3 1020.5,341.1 1024.8,341 1029.1,340.8 1033.4,340.6 1037.7,340.4 1042,340.2 1046.3,340 1050.6,339.8 1054.9,339.6 1059.2,339.4 1063.5,339.3 1067.8,339.1 1072,338.9 1076.3,338.7 1080.6,338.5 1084.9,338.3 1089.2,338.1 1093.5,337.9 1097.8,337.7 1102.1,337.6 1106.4,337.4 1110.7,337.2 1115,337 1119.2,336.8 1123.5,336.6 1127.8,336.4 1132.1,336.2 1136.4,336 1140.7,335.9 1145,335.7"/>
<polyline points="733,353 737.3,353 741.6,352.9 745.9,352.7 750.2,352.5 754.5,352.2 758.8,351.8 763,351.5 767.3,351.1 771.6,350.7 775.9,350.3 780.2,349.9 784.5,349.5 788.8,349.2 793.1,348.8 797.4,348.4 801.7,348 806,347.6 810.2,347.3 814.5,346.9 818.8,346.5 823.1,346.1 827.4,345.7 831.7,345.4 836,345 840.3,344.6 844.6,344.2 848.9,343.8 853.2,343.5 857.5,343.1 861.8,342.7 866,342.3 870.3,342 874.6,341.6 878.9,341.2 883.2,340.8 887.5,340.4 891.8,340.1 896.1,339.7 900.4,339.3 904.7,338.9 909,338.5 913.2,338.2 917.5,337.8 921.8,337.4 926.1,337 930.4,336.7 934.7,336.3 939,335.9 943.3,335.5 947.6,335.1 951.9,334.8 956.2,334.4 960.5,334 964.8,333.6 969,333.2 973.3,332.9 977.6,332.5 981.9,332.1 986.2,331.7 990.5,331.4 994.8,331 999.1,330.6 1003.4,330.2 1007.7,329.8 1012,329.5 1016.2,329.1 1020.5,328.7 1024.8,328.3 1029.1,327.9 1033.4,327.6 1037.7,327.2 1042,326.8 1046.3,326.4 1050.6,326.1 1054.9,325.7 1059.2,325.3 1063.5,324.9 1067.8,324.5 1072,324.2 1076.3,323.8 1080.6,323.4 1084.9,323 1089.2,322.6 1093.5,322.3 1097.8,321.9 1102.1,321.5 1106.4,321.1 1110.7,320.8 1115,320.4 1119.2,320 1123.5,319.6 1127.8,319.2 1132.1,318.9 1136.4,318.5 1140.7,318.1 1145,317.7"/>
<polyline points="733,352.2 737.3,352.1 741.6,352 745.9,351.9 750.2,351.7 754.5,351.4 758.8,351 763,350.5 767.3,350 771.6,349.5 775.9,348.9 780.2,348.3 784.5,347.7 788.8,347.1 793.1,346.6 797.4,346 801.7,345.4 806,344.8 810.2,344.3 814.5,343.7 818.8,343.1 823.1,342.6 827.4,342 831.7,341.4 836,340.8 840.3,340.3 844.6,339.7 848.9,339.1 853.2,338.6 857.5,338 861.8,337.4 866,336.9 870.3,336.3 874.6,335.7 878.9,335.2 883.2,334.6 887.5,334 891.8,333.5 896.1,332.9 900.4,332.3 904.7,331.7 909,331.2 913.2,330.6 917.5,330 921.8,329.5 926.1,328.9 930.4,328.3 934.7,327.8 939,327.2 943.3,326.6 947.6,326.1 951.9,325.5 956.2,324.9 960.5,324.4 964.8,323.8 969,323.2 973.3,322.7 977.6,322.1 981.9,321.5 986.2,321 990.5,320.4 994.8,319.8 999.1,319.3 1003.4,318.7 1007.7,318.1 1012,317.5 1016.2,317 1020.5,316.4 1024.8,315.8 1029.1,315.3 1033.4,314.7 1037.7,314.1 1042,313.6 1046.3,313 1050.6,312.4 1054.9,311.9 1059.2,311.3 1063.5,310.7 1067.8,310.2 1072,309.6 1076.3,309 1080.6,308.5 1084.9,307.9 1089.2,307.3 1093.5,306.8 1097.8,306.2 1102.1,305.6 1106.4,305.1 1110.7,304.5 1115,303.9 1119.2,303.4 1123.5,302.8 1127.8,302.2 1132.1,301.6 1136.4,301.1 1140.7,300.5 1145,299.9"/>
<polyline points="733,351 737.3,351 741.6,350.9 745.9,350.8 750.2,350.5 754.5,350.3 758.8,349.9 763,349.5 767.3,348.9 771.6,348.3 775.9,347.7 780.2,346.9 784.5,346.1 788.8,345.4 793.1,344.6 797.4,343.8 801.7,343 806,342.2 810.2,341.5 814.5,340.7 818.8,339.9 823.1,339.2 827.4,338.4 831.7,337.7 836,336.9 840.3,336.1 844.6,335.4 848.9,334.6 853.2,333.9 857.5,333.1 861.8,332.3 866,331.6 870.3,330.8 874.6,330.1 878.9,329.3 883.2,328.5 887.5,327.8 891.8,327 896.1,326.3 900.4,325.5 904.7,324.7 909,324 913.2,323.2 917.5,322.5 921.8,321.7 926.1,320.9 930.4,320.2 934.7,319.4 939,318.7 943.3,317.9 947.6,317.2 951.9,316.4 956.2,315.6 960.5,314.9 964.8,314.1 969,313.4 973.3,312.6 977.6,311.9 981.9,311.1 986.2,310.3 990.5,309.6 994.8,308.8 999.1,308.1 1003.4,307.3 1007.7,306.6 1012,305.8 1016.2,305 1020.5,304.3 1024.8,303.5 1029.1,302.8 1033.4,302 1037.7,301.3 1042,300.5 1046.3,299.7 1050.6,299 1054.9,298.2 1059.2,297.5 1063.5,296.7 1067.8,296 1072,295.2 1076.3,294.4 1080.6,293.7 1084.9,292.9 1089.2,292.2 1093.5,291.4 1097.8,290.7 1102.1,289.9 1106.4,289.1 1110.7,288.4 1115,287.6 1119.2,286.9 1123.5,286.1 1127.8,285.4 1132.1,284.6 1136.4,283.8 1140.7,283.1 1145,282.3"/>
<polyline points="733,349.6 737.3,349.6 741.6,349.5 745.9,349.3 750.2,349.1 754.5,348.8 758.8,348.5 763,348.1 767.3,347.6 771.6,347 775.9,346.3 780.2,345.6 784.5,344.7 788.8,343.8 793.1,342.9 797.4,341.9 801.7,340.9 806,339.9 810.2,338.9 814.5,338 818.8,337 823.1,336 827.4,335.1 831.7,334.1 836,333.1 840.3,332.2 844.6,331.2 848.9,330.3 853.2,329.3 857.5,328.4 861.8,327.4 866,326.5 870.3,325.5 874.6,324.6 878.9,323.6 883.2,322.7 887.5,321.7 891.8,320.8 896.1,319.8 900.4,318.9 904.7,317.9 909,317 913.2,316 917.5,315.1 921.8,314.1 926.1,313.2 930.4,312.2 934.7,311.3 939,310.3 943.3,309.4 947.6,308.4 951.9,307.5 956.2,306.5 960.5,305.6 964.8,304.6 969,303.7 973.3,302.7 977.6,301.8 981.9,300.8 986.2,299.9 990.5,298.9 994.8,298 999.1,297.1 1003.4,296.1 1007.7,295.2 1012,294.2 1016.2,293.3 1020.5,292.3 1024.8,291.4 1029.1,290.4 1033.4,289.5 1037.7,288.5 1042,287.6 1046.3,286.6 1050.6,285.7 1054.9,284.7 1059.2,283.8 1063.5,282.8 1067.8,281.9 1072,281 1076.3,280 1080.6,279.1 1084.9,278.1 1089.2,277.2 1093.5,276.2 1097.8,275.3 1102.1,274.3 1106.4,273.4 1110.7,272.4 1115,271.5 1119.2,270.5 1123.5,269.6 1127.8,268.6 1132.1,267.7 1136.4,266.8 1140.7,265.8 1145,264.9"/>
<polyline points="733,347.8 737.3,347.8 741.6,347.7 745.9,347.6 750.2,347.4 754.5,347.1 758.8,346.8 763,346.3 767.3,345.9 771.6,345.3 775.9,344.7 780.2,344 784.5,343.2 788.8,342.3 793.1,341.3 797.4,340.2 801.7,339 806,337.8 810.2,336.6 814.5,335.5 818.8,334.3 823.1,333.1 827.4,331.9 831.7,330.8 836,329.6 840.3,328.4 844.6,327.3 848.9,326.1 853.2,325 857.5,323.8 861.8,322.7 866,321.5 870.3,320.4 874.6,319.3 878.9,318.1 883.2,317 887.5,315.8 891.8,314.7 896.1,313.5 900.4,312.4 904.7,311.3 909,310.1 913.2,309 917.5,307.8 921.8,306.7 926.1,305.6 930.4,304.4 934.7,303.3 939,302.1 943.3,301 947.6,299.9 951.9,298.7 956.2,297.6 960.5,296.4 964.8,295.3 969,294.2 973.3,293 977.6,291.9 981.9,290.8 986.2,289.6 990.5,288.5 994.8,287.3 999.1,286.2 1003.4,285.1 1007.7,283.9 1012,282.8 1016.2,281.7 1020.5,280.5 1024.8,279.4 1029.1,278.2 1033.4,277.1 1037.7,276 1042,274.8 1046.3,273.7 1050.6,272.6 1054.9,271.4 1059.2,270.3 1063.5,269.1 1067.8,268 1072,266.9 1076.3,265.7 1080.6,264.6 1084.9,263.5 1089.2,262.3 1093.5,261.2 1097.8,260.1 1102.1,258.9 1106.4,257.8 1110.7,256.6 1115,255.5 1119.2,254.4 1123.5,253.2 1127.8,252.1 1132.1,251 1136.4,249.8 1140.7,248.7 1145,247.6"/>
<polyline points="733,345.8 737.3,345.8 741.6,345.7 745.9,345.5 750.2,345.3 754.5,345.1 758.8,344.7 763,344.3 767.3,343.8 771.6,343.3 775.9,342.7 780.2,342 784.5,341.2 788.8,340.4 793.1,339.4 797.4,338.4 801.7,337.2 806,336 810.2,334.7 814.5,333.3 818.8,331.9 823.1,330.5 827.4,329.1 831.7,327.7 836,326.3 840.3,325 844.6,323.6 848.9,322.2 853.2,320.9 857.5,319.5 861.8,318.2 866,316.8 870.3,315.5 874.6,314.2 878.9,312.8 883.2,311.5 887.5,310.1 891.8,308.8 896.1,307.5 900.4,306.1 904.7,304.8 909,303.5 913.2,302.1 917.5,300.8 921.8,299.5 926.1,298.1 930.4,296.8 934.7,295.5 939,294.1 943.3,292.8 947.6,291.5 951.9,290.1 956.2,288.8 960.5,287.5 964.8,286.2 969,284.8 973.3,283.5 977.6,282.2 981.9,280.8 986.2,279.5 990.5,278.2 994.8,276.9 999.1,275.5 1003.4,274.2 1007.7,272.9 1012,271.5 1016.2,270.2 1020.5,268.9 1024.8,267.6 1029.1,266.2 1033.4,264.9 1037.7,263.6 1042,262.3 1046.3,260.9 1050.6,259.6 1054.9,258.3 1059.2,256.9 1063.5,255.6 1067.8,254.3 1072,253 1076.3,251.6 1080.6,250.3 1084.9,249 1089.2,247.7 1093.5,246.3 1097.8,245 1102.1,243.7 1106.4,242.4 1110.7,241 1115,239.7 1119.2,238.4 1123.5,237.1 1127.8,235.7 1132.1,234.4 1136.4,233.1 1140.7,231.7 1145,230.4"/>
<polyline points="733,343.5 737.3,343.4 741.6,343.3 745.9,343.2 750.2,343 754.5,342.7 758.8,342.4 763,342 767.3,341.5 771.6,341 775.9,340.4 780.2,339.7 784.5,339 788.8,338.1 793.1,337.2 797.4,336.2 801.7,335.1 806,333.9 810.2,332.7 814.5,331.2 818.8,329.7 823.1,328.2 827.4,326.6 831.7,324.9 836,323.3 840.3,321.8 844.6,320.2 848.9,318.6 853.2,317 857.5,315.5 861.8,313.9 866,312.4 870.3,310.8 874.6,309.3 878.9,307.7 883.2,306.2 887.5,304.7 891.8,303.1 896.1,301.6 900.4,300.1 904.7,298.5 909,297 913.2,295.5 917.5,294 921.8,292.4 926.1,290.9 930.4,289.4 934.7,287.9 939,286.3 943.3,284.8 947.6,283.3 951.9,281.8 956.2,280.2 960.5,278.7 964.8,277.2 969,275.7 973.3,274.2 977.6,272.6 981.9,271.1 986.2,269.6 990.5,268.1 994.8,266.6 999.1,265 1003.4,263.5 1007.7,262 1012,260.5 1016.2,259 1020.5,257.4 1024.8,255.9 1029.1,254.4 1033.4,252.9 1037.7,251.4 1042,249.8 1046.3,248.3 1050.6,246.8 1054.9,245.3 1059.2,243.8 1063.5,242.3 1067.8,240.7 1072,239.2 1076.3,237.7 1080.6,236.2 1084.9,234.7 1089.2,233.2 1093.5,231.6 1097.8,230.1 1102.1,228.6 1106.4,227.1 1110.7,225.6 1115,224.1 1119.2,222.5 1123.5,221 1127.8,219.5 1132.1,218 1136.4,216.5 1140.7,215 1145,213.5"/>
<polyline points="733,340.8 737.3,340.8 741.6,340.7 745.9,340.5 750.2,340.3 754.5,340.1 758.8,339.7 763,339.3 767.3,338.9 771.6,338.4 775.9,337.8 780.2,337.1 784.5,336.4 788.8,335.6 793.1,334.7 797.4,333.7 801.7,332.7 806,331.5 810.2,330.3 814.5,328.9 818.8,327.5 823.1,325.9 827.4,324.3 831.7,322.5 836,320.7 840.3,318.9 844.6,317.1 848.9,315.3 853.2,313.5 857.5,311.7 861.8,309.9 866,308.2 870.3,306.4 874.6,304.7 878.9,302.9 883.2,301.2 887.5,299.4 891.8,297.7 896.1,296 900.4,294.2 904.7,292.5 909,290.8 913.2,289 917.5,287.3 921.8,285.6 926.1,283.9 930.4,282.2 934.7,280.4 939,278.7 943.3,277 947.6,275.3 951.9,273.6 956.2,271.8 960.5,270.1 964.8,268.4 969,266.7 973.3,265 977.6,263.3 981.9,261.6 986.2,259.9 990.5,258.1 994.8,256.4 999.1,254.7 1003.4,253 1007.7,251.3 1012,249.6 1016.2,247.9 1020.5,246.2 1024.8,244.5 1029.1,242.7 1033.4,241 1037.7,239.3 1042,237.6 1046.3,235.9 1050.6,234.2 1054.9,232.5 1059.2,230.8 1063.5,229.1 1067.8,227.4 1072,225.7 1076.3,224 1080.6,222.2 1084.9,220.5 1089.2,218.8 1093.5,217.1 1097.8,215.4 1102.1,213.7 1106.4,212 1110.7,210.3 1115,208.6 1119.2,206.9 1123.5,205.2 1127.8,203.5 1132.1,201.8 1136.4,200.1 1140.7,198.4 1145,196.7"/>
<polyline points="733,337.9 737.3,337.8 741.6,337.7 745.9,337.6 750.2,337.4 754.5,337.1 758.8,336.8 763,336.4 767.3,335.9 771.6,335.4 775.9,334.8 780.2,334.2 784.5,333.4 788.8,332.7 793.1,331.8 797.4,330.8 801.7,329.8 806,328.7 810.2,327.5 814.5,326.2 818.8,324.9 823.1,323.4 827.4,321.8 831.7,320.1 836,318.3 840.3,316.3 844.6,314.3 848.9,312.3 853.2,310.3 857.5,308.3 861.8,306.2 866,304.2 870.3,302.3 874.6,300.3 878.9,298.3 883.2,296.4 887.5,294.4 891.8,292.5 896.1,290.6 900.4,288.6 904.7,286.7 909,284.8 913.2,282.8 917.5,280.9 921.8,279 926.1,277.1 930.4,275.1 934.7,273.2 939,271.3 943.3,269.4 947.6,267.5 951.9,265.6 956.2,263.7 960.5,261.8 964.8,259.8 969,257.9 973.3,256 977.6,254.1 981.9,252.2 986.2,250.3 990.5,248.4 994.8,246.5 999.1,244.6 1003.4,242.7 1007.7,240.8 1012,238.9 1016.2,237 1020.5,235.1 1024.8,233.2 1029.1,231.3 1033.4,229.4 1037.7,227.5 1042,225.6 1046.3,223.7 1050.6,221.8 1054.9,219.9 1059.2,218 1063.5,216.1 1067.8,214.2 1072,212.3 1076.3,210.4 1080.6,208.5 1084.9,206.6 1089.2,204.7 1093.5,202.8 1097.8,200.9 1102.1,199 1106.4,197.1 1110.7,195.2 1115,193.3 1119.2,191.4 1123.5,189.5 1127.8,187.6 1132.1,185.7 1136.4,183.8 1140.7,181.9 1145,180"/>
<polyline points="733,334.6 737.3,334.6 741.6,334.5 745.9,334.3 750.2,334.1 754.5,333.9 758.8,333.5 763,333.1 767.3,332.7 771.6,332.2 775.9,331.6 780.2,330.9 784.5,330.2 788.8,329.4 793.1,328.6 797.4,327.6 801.7,326.6 806,325.6 810.2,324.4 814.5,323.2 818.8,321.8 823.1,320.4 827.4,318.9 831.7,317.2 836,315.5 840.3,313.7 844.6,311.7 848.9,309.6 853.2,307.4 857.5,305.2 861.8,302.9 866,300.7 870.3,298.5 874.6,296.3 878.9,294.1 883.2,291.9 887.5,289.7 891.8,287.6 896.1,285.4 900.4,283.3 904.7,281.1 909,279 913.2,276.9 917.5,274.7 921.8,272.6 926.1,270.5 930.4,268.4 934.7,266.2 939,264.1 943.3,262 947.6,259.9 951.9,257.8 956.2,255.7 960.5,253.6 964.8,251.5 969,249.4 973.3,247.3 977.6,245.2 981.9,243.1 986.2,241 990.5,238.9 994.8,236.8 999.1,234.7 1003.4,232.6 1007.7,230.5 1012,228.4 1016.2,226.3 1020.5,224.2 1024.8,222.1 1029.1,220 1033.4,217.9 1037.7,215.8 1042,213.7 1046.3,211.6 1050.6,209.5 1054.9,207.4 1059.2,205.3 1063.5,203.3 1067.8,201.2 1072,199.1 1076.3,197 1080.6,194.9 1084.9,192.8 1089.2,190.7 1093.5,188.6 1097.8,186.5 1102.1,184.4 1106.4,182.4 1110.7,180.3 1115,178.2 1119.2,176.1 1123.5,174 1127.8,171.9 1132.1,169.8 1136.4,167.7 1140.7,165.7 1145,163.6"/>
<polyline points="733,331 737.3,331 741.6,330.9 745.9,330.8 750.2,330.6 754.5,330.3 758.8,330 763,329.6 767.3,329.1 771.6,328.6 775.9,328 780.2,327.4 784.5,326.7 788.8,325.9 793.1,325.1 797.4,324.1 801.7,323.1 806,322.1 810.2,320.9 814.5,319.7 818.8,318.4 823.1,317 827.4,315.6 831.7,314 836,312.3 840.3,310.6 844.6,308.7 848.9,306.7 853.2,304.6 857.5,302.3 861.8,300 866,297.5 870.3,295.1 874.6,292.6 878.9,290.2 883.2,287.7 887.5,285.3 891.8,282.9 896.1,280.6 900.4,278.2 904.7,275.8 909,273.5 913.2,271.1 917.5,268.8 921.8,266.5 926.1,264.1 930.4,261.8 934.7,259.5 939,257.2 943.3,254.9 947.6,252.5 951.9,250.2 956.2,247.9 960.5,245.6 964.8,243.3 969,241 973.3,238.7 977.6,236.4 981.9,234.1 986.2,231.8 990.5,229.5 994.8,227.2 999.1,224.9 1003.4,222.6 1007.7,220.4 1012,218.1 1016.2,215.8 1020.5,213.5 1024.8,211.2 1029.1,208.9 1033.4,206.6 1037.7,204.3 1042,202 1046.3,199.8 1050.6,197.5 1054.9,195.2 1059.2,192.9 1063.5,190.6 1067.8,188.3 1072,186.1 1076.3,183.8 1080.6,181.5 1084.9,179.2 1089.2,176.9 1093.5,174.7 1097.8,172.4 1102.1,170.1 1106.4,167.8 1110.7,165.5 1115,163.2 1119.2,161 1123.5,158.7 1127.8,156.4 1132.1,154.1 1136.4,151.9 1140.7,149.6 1145,147.3"/>
<polyline points="733,327.2 737.3,327.2 741.6,327.1 745.9,326.9 750.2,326.7 754.5,326.4 758.8,326.1 763,325.7 767.3,325.3 771.6,324.8 775.9,324.2 780.2,323.5 784.5,322.8 788.8,322.1 793.1,321.2 797.4,320.3 801.7,319.3 806,318.3 810.2,317.2 814.5,316 818.8,314.7 823.1,313.3 827.4,311.9 831.7,310.3 836,308.7 840.3,307 844.6,305.2 848.9,303.3 853.2,301.3 857.5,299.1 861.8,296.9 866,294.5 870.3,292 874.6,289.4 878.9,286.7 883.2,284 887.5,281.3 891.8,278.7 896.1,276.1 900.4,273.5 904.7,270.9 909,268.3 913.2,265.7 917.5,263.2 921.8,260.6 926.1,258.1 930.4,255.5 934.7,253 939,250.5 943.3,247.9 947.6,245.4 951.9,242.9 956.2,240.4 960.5,237.9 964.8,235.4 969,232.9 973.3,230.4 977.6,227.9 981.9,225.4 986.2,222.9 990.5,220.4 994.8,217.9 999.1,215.4 1003.4,212.9 1007.7,210.4 1012,208 1016.2,205.5 1020.5,203 1024.8,200.5 1029.1,198 1033.4,195.5 1037.7,193.1 1042,190.6 1046.3,188.1 1050.6,185.6 1054.9,183.1 1059.2,180.7 1063.5,178.2 1067.8,175.7 1072,173.2 1076.3,170.8 1080.6,168.3 1084.9,165.8 1089.2,163.3 1093.5,160.9 1097.8,158.4 1102.1,155.9 1106.4,153.4 1110.7,151 1115,148.5 1119.2,146 1123.5,143.6 1127.8,141.1 1132.1,138.6 1136.4,136.1 1140.7,133.7 1145,131.2"/>
<polyline points="733,323 737.3,323 741.6,322.9 745.9,322.8 750.2,322.5 754.5,322.3 758.8,322 763,321.6 767.3,321.1 771.6,320.6 775.9,320 780.2,319.4 784.5,318.7 788.8,317.9 793.1,317.1 797.4,316.2 801.7,315.2 806,314.2 810.2,313.1 814.5,311.9 818.8,310.6 823.1,309.3 827.4,307.9 831.7,306.4 836,304.8 840.3,303.1 844.6,301.3 848.9,299.5 853.2,297.5 857.5,295.5 861.8,293.3 866,291 870.3,288.6 874.6,286.1 878.9,283.4 883.2,280.6 887.5,277.8 891.8,274.9 896.1,272 900.4,269.1 904.7,266.3 909,263.4 913.2,260.6 917.5,257.8 921.8,255.1 926.1,252.3 930.4,249.5 934.7,246.8 939,244 943.3,241.3 947.6,238.6 951.9,235.9 956.2,233.1 960.5,230.4 964.8,227.7 969,225 973.3,222.3 977.6,219.6 981.9,216.9 986.2,214.2 990.5,211.5 994.8,208.8 999.1,206.1 1003.4,203.4 1007.7,200.8 1012,198.1 1016.2,195.4 1020.5,192.7 1024.8,190 1029.1,187.3 1033.4,184.7 1037.7,182 1042,179.3 1046.3,176.6 1050.6,174 1054.9,171.3 1059.2,168.6 1063.5,165.9 1067.8,163.3 1072,160.6 1076.3,157.9 1080.6,155.3 1084.9,152.6 1089.2,149.9 1093.5,147.3 1097.8,144.6 1102.1,141.9 1106.4,139.3 1110.7,136.6 1115,133.9 1119.2,131.3 1123.5,128.6 1127.8,125.9 1132.1,123.3 1136.4,120.6 1140.7,118 1145,115.3"/>
<polyline points="733,318.6 737.3,318.5 741.6,318.4 745.9,318.3 750.2,318.1 754.5,317.8 758.8,317.5 763,317.1 767.3,316.6 771.6,316.1 775.9,315.6 780.2,314.9 784.5,314.2 788.8,313.5 793.1,312.6 797.4,311.7 801.7,310.8 806,309.7 810.2,308.6 814.5,307.5 818.8,306.2 823.1,304.9 827.4,303.5 831.7,302 836,300.5 840.3,298.8 844.6,297.1 848.9,295.3 853.2,293.4 857.5,291.4 861.8,289.3 866,287.1 870.3,284.8 874.6,282.3 878.9,279.8 883.2,277.1 887.5,274.3 891.8,271.4 896.1,268.3 900.4,265.2 904.7,262.1 909,259 913.2,255.9 917.5,252.9 921.8,249.9 926.1,246.9 930.4,243.9 934.7,240.9 939,237.9 943.3,235 947.6,232 951.9,229.1 956.2,226.1 960.5,223.2 964.8,220.3 969,217.4 973.3,214.5 977.6,211.5 981.9,208.6 986.2,205.7 990.5,202.8 994.8,200 999.1,197.1 1003.4,194.2 1007.7,191.3 1012,188.4 1016.2,185.5 1020.5,182.6 1024.8,179.8 1029.1,176.9 1033.4,174 1037.7,171.1 1042,168.3 1046.3,165.4 1050.6,162.5 1054.9,159.6 1059.2,156.8 1063.5,153.9 1067.8,151 1072,148.2 1076.3,145.3 1080.6,142.5 1084.9,139.6 1089.2,136.7 1093.5,133.9 1097.8,131 1102.1,128.1 1106.4,125.3 1110.7,122.4 1115,119.6 1119.2,116.7 1123.5,113.9 1127.8,111 1132.1,108.1 1136.4,105.3 1140.7,102.4 1145,99.6"/>
<polyline points="733,313.8 737.3,313.8 741.6,313.7 745.9,313.5 750.2,313.3 754.5,313 758.8,312.7 763,312.3 767.3,311.9 771.6,311.4 775.9,310.8 780.2,310.2 784.5,309.5 788.8,308.7 793.1,307.9 797.4,307 801.7,306 806,305 810.2,303.9 814.5,302.7 818.8,301.5 823.1,300.2 827.4,298.8 831.7,297.4 836,295.8 840.3,294.2 844.6,292.5 848.9,290.7 853.2,288.9 857.5,286.9 861.8,284.9 866,282.7 870.3,280.5 874.6,278.1 878.9,275.7 883.2,273.1 887.5,270.4 891.8,267.6 896.1,264.6 900.4,261.6 904.7,258.4 909,255.1 913.2,251.7 917.5,248.4 921.8,245.1 926.1,241.8 930.4,238.6 934.7,235.3 939,232.1 943.3,228.9 947.6,225.8 951.9,222.6 956.2,219.4 960.5,216.3 964.8,213.1 969,210 973.3,206.9 977.6,203.8 981.9,200.7 986.2,197.5 990.5,194.4 994.8,191.3 999.1,188.2 1003.4,185.1 1007.7,182.1 1012,179 1016.2,175.9 1020.5,172.8 1024.8,169.7 1029.1,166.6 1033.4,163.6 1037.7,160.5 1042,157.4 1046.3,154.4 1050.6,151.3 1054.9,148.2 1059.2,145.2 1063.5,142.1 1067.8,139 1072,136 1076.3,132.9 1080.6,129.8 1084.9,126.8 1089.2,123.7 1093.5,120.7 1097.8,117.6 1102.1,114.6 1106.4,111.5 1110.7,108.5 1115,105.4 1119.2,102.4 1123.5,99.3 1127.8,96.3 1132.1,93.2 1136.4,90.2 1140.7,87.1 1145,84.1"/>
<polyline points="733,308.7 737.3,308.7 741.6,308.6 745.9,308.4 750.2,308.2 754.5,308 758.8,307.6 763,307.3 767.3,306.8 771.6,306.3 775.9,305.7 780.2,305.1 784.5,304.4 788.8,303.6 793.1,302.8 797.4,301.9 801.7,301 806,300 810.2,298.9 814.5,297.7 818.8,296.5 823.1,295.2 827.4,293.8 831.7,292.4 836,290.9 840.3,289.3 844.6,287.6 848.9,285.8 853.2,284 857.5,282.1 861.8,280.1 866,278 870.3,275.8 874.6,273.5 878.9,271.1 883.2,268.6 887.5,266 891.8,263.3 896.1,260.5 900.4,257.5 904.7,254.4 909,251.2 913.2,247.8 917.5,244.3 921.8,240.8 926.1,237.3 930.4,233.7 934.7,230.2 939,226.7 943.3,223.3 947.6,219.9 951.9,216.4 956.2,213 960.5,209.7 964.8,206.3 969,202.9 973.3,199.6 977.6,196.3 981.9,192.9 986.2,189.6 990.5,186.3 994.8,183 999.1,179.7 1003.4,176.4 1007.7,173.1 1012,169.8 1016.2,166.5 1020.5,163.2 1024.8,159.9 1029.1,156.6 1033.4,153.4 1037.7,150.1 1042,146.8 1046.3,143.5 1050.6,140.3 1054.9,137 1059.2,133.8 1063.5,130.5 1067.8,127.2 1072,124 1076.3,120.7 1080.6,117.5 1084.9,114.2 1089.2,110.9 1093.5,107.7 1097.8,104.4 1102.1,101.2 1106.4,97.9 1110.7,94.7 1115,91.4 1119.2,88.2 1123.5,84.9 1127.8,81.7 1132.1,78.5 1136.4,75.2 1140.7,72 1145,68.7"/>
<polyline points="733,303.3 737.3,303.3 741.6,303.2 745.9,303.1 750.2,302.9 754.5,302.6 758.8,302.3 763,301.9 767.3,301.4 771.6,300.9 775.9,300.4 780.2,299.7 784.5,299 788.8,298.3 793.1,297.5 797.4,296.6 801.7,295.6 806,294.6 810.2,293.5 814.5,292.4 818.8,291.2 823.1,289.9 827.4,288.5 831.7,287.1 836,285.6 840.3,284 844.6,282.3 848.9,280.6 853.2,278.8 857.5,276.9 861.8,274.9 866,272.9 870.3,270.7 874.6,268.5 878.9,266.1 883.2,263.7 887.5,261.2 891.8,258.5 896.1,255.8 900.4,252.9 904.7,250 909,246.9 913.2,243.6 917.5,240.3 921.8,236.7 926.1,233.1 930.4,229.4 934.7,225.6 939,221.8 943.3,218.1 947.6,214.4 951.9,210.7 956.2,207.1 960.5,203.4 964.8,199.8 969,196.2 973.3,192.6 977.6,189.1 981.9,185.5 986.2,182 990.5,178.4 994.8,174.9 999.1,171.4 1003.4,167.9 1007.7,164.4 1012,160.9 1016.2,157.4 1020.5,153.9 1024.8,150.4 1029.1,146.9 1033.4,143.4 1037.7,139.9 1042,136.5 1046.3,133 1050.6,129.5 1054.9,126 1059.2,122.6 1063.5,119.1 1067.8,115.6 1072,112.2 1076.3,108.7 1080.6,105.3 1084.9,101.8 1089.2,98.4 1093.5,94.9 1097.8,91.5 1102.1,88 1106.4,84.6 1110.7,81.1 1115,77.7 1119.2,74.2 1123.5,70.8 1127.8,67.4 1132.1,63.9 1136.4,60.5 1140.7,57 1145,53.6"/>
<polyline points="733,297.7 737.3,297.6 741.6,297.5 745.9,297.4 750.2,297.2 754.5,296.9 758.8,296.6 763,296.2 767.3,295.8 771.6,295.3 775.9,294.7 780.2,294.1 784.5,293.4 788.8,292.6 793.1,291.8 797.4,290.9 801.7,290 806,289 810.2,287.9 814.5,286.7 818.8,285.5 823.1,284.2 827.4,282.9 831.7,281.5 836,280 840.3,278.4 844.6,276.8 848.9,275.1 853.2,273.3 857.5,271.4 861.8,269.4 866,267.4 870.3,265.3 874.6,263.1 878.9,260.8 883.2,258.4 887.5,255.9 891.8,253.4 896.1,250.7 900.4,247.9 904.7,245 909,242 913.2,238.9 917.5,235.7 921.8,232.3 926.1,228.8 930.4,225.1 934.7,221.3 939,217.4 943.3,213.4 947.6,209.4 951.9,205.5 956.2,201.5 960.5,197.6 964.8,193.7 969,189.9 973.3,186 977.6,182.2 981.9,178.4 986.2,174.7 990.5,170.9 994.8,167.1 999.1,163.4 1003.4,159.7 1007.7,155.9 1012,152.2 1016.2,148.5 1020.5,144.8 1024.8,141.1 1029.1,137.4 1033.4,133.7 1037.7,130 1042,126.3 1046.3,122.7 1050.6,119 1054.9,115.3 1059.2,111.6 1063.5,108 1067.8,104.3 1072,100.6 1076.3,97 1080.6,93.3 1084.9,89.7 1089.2,86 1093.5,82.4 1097.8,78.7 1102.1,75.1 1106.4,71.4 1110.7,67.8 1115,64.1 1119.2,60.5 1123.5,56.9 1127.8,53.2 1132.1,49.6 1136.4,46 1140.7,42.3 1145,38.7"/>
<polyline points="733,291.7 737.3,291.7 741.6,291.6 745.9,291.4 750.2,291.2 754.5,290.9 758.8,290.6 763,290.2 767.3,289.8 771.6,289.3 775.9,288.7 780.2,288.1 784.5,287.4 788.8,286.6 793.1,285.8 797.4,284.9 801.7,284 806,283 810.2,281.9 814.5,280.8 818.8,279.6 823.1,278.3 827.4,277 831.7,275.5 836,274.1 840.3,272.5 844.6,270.9 848.9,269.2 853.2,267.4 857.5,265.6 861.8,263.6 866,261.6 870.3,259.5 874.6,257.3 878.9,255.1 883.2,252.7 887.5,250.3 891.8,247.8 896.1,245.2 900.4,242.4 904.7,239.6 909,236.7 913.2,233.7 917.5,230.5 921.8,227.3 926.1,223.9 930.4,220.4 934.7,216.7 939,212.9 943.3,209 947.6,204.9 951.9,200.7 956.2,196.5 960.5,192.3 964.8,188.1 969,184 973.3,179.9 977.6,175.8 981.9,171.7 986.2,167.7 990.5,163.7 994.8,159.7 999.1,155.7 1003.4,151.8 1007.7,147.8 1012,143.9 1016.2,139.9 1020.5,136 1024.8,132.1 1029.1,128.2 1033.4,124.3 1037.7,120.4 1042,116.5 1046.3,112.6 1050.6,108.7 1054.9,104.8 1059.2,100.9 1063.5,97.1 1067.8,93.2 1072,89.3 1076.3,85.5 1080.6,81.6 1084.9,77.8 1089.2,73.9 1093.5,70.1 1097.8,66.2 1102.1,62.4 1106.4,58.5 1110.7,54.7 1115,50.8 1119.2,47 1123.5,43.2 1127.8,39.3 1132.1,35.5"/>
<polyline points="733,285.4 737.3,285.4 741.6,285.3 745.9,285.1 750.2,284.9 754.5,284.7 758.8,284.3 763,284 767.3,283.5 771.6,283 775.9,282.4 780.2,281.8 784.5,281.1 788.8,280.4 793.1,279.5 797.4,278.7 801.7,277.7 806,276.7 810.2,275.7 814.5,274.5 818.8,273.3 823.1,272 827.4,270.7 831.7,269.3 836,267.8 840.3,266.3 844.6,264.7 848.9,263 853.2,261.2 857.5,259.4 861.8,257.5 866,255.5 870.3,253.4 874.6,251.3 878.9,249 883.2,246.7 887.5,244.3 891.8,241.8 896.1,239.3 900.4,236.6 904.7,233.8 909,231 913.2,228 917.5,224.9 921.8,221.8 926.1,218.5 930.4,215.1 934.7,211.5 939,207.9 943.3,204.1 947.6,200.1 951.9,196.1 956.2,191.8 960.5,187.5 964.8,183.1 969,178.6 973.3,174.2 977.6,169.8 981.9,165.5 986.2,161.2 990.5,156.9 994.8,152.7 999.1,148.4 1003.4,144.2 1007.7,140 1012,135.9 1016.2,131.7 1020.5,127.5 1024.8,123.4 1029.1,119.3 1033.4,115.1 1037.7,111 1042,106.9 1046.3,102.8 1050.6,98.7 1054.9,94.6 1059.2,90.5 1063.5,86.4 1067.8,82.4 1072,78.3 1076.3,74.2 1080.6,70.2 1084.9,66.1 1089.2,62 1093.5,58 1097.8,53.9 1102.1,49.9 1106.4,45.8 1110.7,41.8 1115,37.7 1119.2,33.7"/>
<polyline points="733,278.8 737.3,278.8 741.6,278.7 745.9,278.6 750.2,278.3 754.5,278.1 758.8,277.8 763,277.4 767.3,276.9 771.6,276.4 775.9,275.8 780.2,275.2 784.5,274.5 788.8,273.8 793.1,273 797.4,272.1 801.7,271.2 806,270.2 810.2,269.1 814.5,268 818.8,266.8 823.1,265.5 827.4,264.2 831.7,262.8 836,261.3 840.3,259.8 844.6,258.2 848.9,256.5 853.2,254.7 857.5,252.9 861.8,251 866,249 870.3,247 874.6,244.9 878.9,242.6 883.2,240.4 887.5,238 891.8,235.5 896.1,233 900.4,230.4 904.7,227.6 909,224.8 913.2,221.9 917.5,218.9 921.8,215.8 926.1,212.6 930.4,209.3 934.7,205.9 939,202.3 943.3,198.6 947.6,194.8 951.9,190.9 956.2,186.8 960.5,182.6 964.8,178.2 969,173.7 973.3,169.1 977.6,164.4 981.9,159.8 986.2,155.2 990.5,150.6 994.8,146.1 999.1,141.6 1003.4,137.1 1007.7,132.6 1012,128.2 1016.2,123.8 1020.5,119.4 1024.8,115 1029.1,110.7 1033.4,106.3 1037.7,102 1042,97.6 1046.3,93.3 1050.6,89 1054.9,84.7 1059.2,80.4 1063.5,76.1 1067.8,71.8 1072,67.5 1076.3,63.2 1080.6,59 1084.9,54.7 1089.2,50.4 1093.5,46.2 1097.8,41.9 1102.1,37.6 1106.4,33.4"/>
<polyline points="733,271.9 737.3,271.9 741.6,271.8 745.9,271.7 750.2,271.5 754.5,271.2 758.8,270.9 763,270.5 767.3,270 771.6,269.5 775.9,269 780.2,268.3 784.5,267.6 788.8,266.9 793.1,266.1 797.4,265.2 801.7,264.3 806,263.3 810.2,262.2 814.5,261.1 818.8,259.9 823.1,258.6 827.4,257.3 831.7,255.9 836,254.5 840.3,252.9 844.6,251.3 848.9,249.7 853.2,247.9 857.5,246.1 861.8,244.2 866,242.3 870.3,240.2 874.6,238.1 878.9,235.9 883.2,233.7 887.5,231.3 891.8,228.9 896.1,226.4 900.4,223.8 904.7,221.1 909,218.3 913.2,215.5 917.5,212.5 921.8,209.5 926.1,206.3 930.4,203.1 934.7,199.7 939,196.2 943.3,192.7 947.6,189 951.9,185.2 956.2,181.2 960.5,177.2 964.8,172.9 969,168.6 973.3,164 977.6,159.4 981.9,154.6 986.2,149.7 990.5,144.9 994.8,140 999.1,135.2 1003.4,130.4 1007.7,125.7 1012,121 1016.2,116.3 1020.5,111.6 1024.8,107 1029.1,102.4 1033.4,97.8 1037.7,93.2 1042,88.7 1046.3,84.1 1050.6,79.6 1054.9,75 1059.2,70.5 1063.5,66 1067.8,61.5 1072,57 1076.3,52.5 1080.6,48 1084.9,43.5 1089.2,39.1 1093.5,34.6"/>
<polyline points="733,264.7 737.3,264.7 741.6,264.6 745.9,264.5 750.2,264.3 754.5,264 758.8,263.7 763,263.3 767.3,262.8 771.6,262.3 775.9,261.8 780.2,261.1 784.5,260.5 788.8,259.7 793.1,258.9 797.4,258 801.7,257.1 806,256.1 810.2,255 814.5,253.9 818.8,252.7 823.1,251.5 827.4,250.1 831.7,248.8 836,247.3 840.3,245.8 844.6,244.2 848.9,242.5 853.2,240.8 857.5,239 861.8,237.1 866,235.2 870.3,233.2 874.6,231.1 878.9,228.9 883.2,226.6 887.5,224.3 891.8,221.9 896.1,219.4 900.4,216.9 904.7,214.2 909,211.5 913.2,208.6 917.5,205.7 921.8,202.7 926.1,199.6 930.4,196.4 934.7,193.1 939,189.7 943.3,186.2 947.6,182.6 951.9,178.9 956.2,175.1 960.5,171.1 964.8,167.1 969,162.8 973.3,158.5 977.6,154 981.9,149.3 986.2,144.5 990.5,139.5 994.8,134.5 999.1,129.4 1003.4,124.3 1007.7,119.3 1012,114.2 1016.2,109.3 1020.5,104.3 1024.8,99.4 1029.1,94.6 1033.4,89.7 1037.7,84.9 1042,80.1 1046.3,75.3 1050.6,70.5 1054.9,65.7 1059.2,61 1063.5,56.3 1067.8,51.5 1072,46.8 1076.3,42.1 1080.6,37.4 1084.9,32.7"/>
<polyline points="733,257.2 737.3,257.2 741.6,257.1 745.9,257 750.2,256.8 754.5,256.5 758.8,256.2 763,255.8 767.3,255.4 771.6,254.8 775.9,254.3 780.2,253.7 784.5,253 788.8,252.2 793.1,251.4 797.4,250.5 801.7,249.6 806,248.6 810.2,247.5 814.5,246.4 818.8,245.2 823.1,244 827.4,242.7 831.7,241.3 836,239.8 840.3,238.3 844.6,236.7 848.9,235.1 853.2,233.4 857.5,231.6 861.8,229.7 866,227.8 870.3,225.8 874.6,223.7 878.9,221.5 883.2,219.3 887.5,217 891.8,214.6 896.1,212.1 900.4,209.6 904.7,207 909,204.3 913.2,201.5 917.5,198.6 921.8,195.6 926.1,192.6 930.4,189.4 934.7,186.2 939,182.8 943.3,179.4 947.6,175.9 951.9,172.2 956.2,168.5 960.5,164.6 964.8,160.6 969,156.5 973.3,152.3 977.6,148 981.9,143.5 986.2,138.8 990.5,134 994.8,129.1 999.1,124 1003.4,118.7 1007.7,113.4 1012,108.1 1016.2,102.8 1020.5,97.6 1024.8,92.4 1029.1,87.2 1033.4,82.1 1037.7,77 1042,71.9 1046.3,66.8 1050.6,61.8 1054.9,56.8 1059.2,51.8 1063.5,46.8 1067.8,41.9 1072,36.9 1076.3,32"/>
<polyline points="733,249.5 737.3,249.4 741.6,249.3 745.9,249.2 750.2,249 754.5,248.7 758.8,248.4 763,248 767.3,247.6 771.6,247.1 775.9,246.5 780.2,245.9 784.5,245.2 788.8,244.4 793.1,243.6 797.4,242.7 801.7,241.8 806,240.8 810.2,239.8 814.5,238.6 818.8,237.5 823.1,236.2 827.4,234.9 831.7,233.5 836,232.1 840.3,230.6 844.6,229 848.9,227.3 853.2,225.6 857.5,223.8 861.8,222 866,220.1 870.3,218.1 874.6,216 878.9,213.9 883.2,211.6 887.5,209.3 891.8,207 896.1,204.5 900.4,202 904.7,199.4 909,196.7 913.2,194 917.5,191.1 921.8,188.2 926.1,185.2 930.4,182 934.7,178.8 939,175.6 943.3,172.2 947.6,168.7 951.9,165.1 956.2,161.4 960.5,157.6 964.8,153.7 969,149.7 973.3,145.6 977.6,141.4 981.9,137 986.2,132.5 990.5,127.9 994.8,123.1 999.1,118.2 1003.4,113.1 1007.7,107.8 1012,102.4 1016.2,96.9 1020.5,91.4 1024.8,85.9 1029.1,80.4 1033.4,74.9 1037.7,69.5 1042,64.1 1046.3,58.8 1050.6,53.5 1054.9,48.2 1059.2,43 1063.5,37.8 1067.8,32.6"/>
<polyline points="733,241.4 737.3,241.3 741.6,241.2 745.9,241.1 750.2,240.9 754.5,240.6 758.8,240.3 763,239.9 767.3,239.5 771.6,239 775.9,238.4 780.2,237.8 784.5,237.1 788.8,236.3 793.1,235.5 797.4,234.7 801.7,233.7 806,232.7 810.2,231.7 814.5,230.6 818.8,229.4 823.1,228.1 827.4,226.8 831.7,225.4 836,224 840.3,222.5 844.6,220.9 848.9,219.3 853.2,217.6 857.5,215.8 861.8,213.9 866,212 870.3,210 874.6,208 878.9,205.9 883.2,203.7 887.5,201.4 891.8,199 896.1,196.6 900.4,194.1 904.7,191.5 909,188.9 913.2,186.1 917.5,183.3 921.8,180.4 926.1,177.4 930.4,174.3 934.7,171.2 939,167.9 943.3,164.6 947.6,161.1 951.9,157.6 956.2,154 960.5,150.2 964.8,146.4 969,142.5 973.3,138.4 977.6,134.3 981.9,130 986.2,125.7 990.5,121.2 994.8,116.5 999.1,111.8 1003.4,106.8 1007.7,101.8 1012,96.5 1016.2,91.1 1020.5,85.6 1024.8,79.9 1029.1,74.2 1033.4,68.4 1037.7,62.7 1042,57 1046.3,51.3 1050.6,45.7 1054.9,40.2 1059.2,34.6"/>
<polyline points="733,233 737.3,232.9 741.6,232.8 745.9,232.7 750.2,232.5 754.5,232.2 758.8,231.9 763,231.5 767.3,231.1 771.6,230.6 775.9,230 780.2,229.4 784.5,228.7 788.8,227.9 793.1,227.1 797.4,226.3 801.7,225.3 806,224.3 810.2,223.3 814.5,222.2 818.8,221 823.1,219.7 827.4,218.4 831.7,217.1 836,215.6 840.3,214.1 844.6,212.5 848.9,210.9 853.2,209.2 857.5,207.4 861.8,205.6 866,203.7 870.3,201.7 874.6,199.7 878.9,197.6 883.2,195.4 887.5,193.1 891.8,190.8 896.1,188.3 900.4,185.9 904.7,183.3 909,180.7 913.2,177.9 917.5,175.1 921.8,172.3 926.1,169.3 930.4,166.2 934.7,163.1 939,159.9 943.3,156.6 947.6,153.2 951.9,149.7 956.2,146.1 960.5,142.5 964.8,138.7 969,134.8 973.3,130.8 977.6,126.8 981.9,122.6 986.2,118.3 990.5,113.9 994.8,109.4 999.1,104.7 1003.4,99.9 1007.7,95 1012,90 1016.2,84.8 1020.5,79.4 1024.8,73.9 1029.1,68.2 1033.4,62.4 1037.7,56.4 1042,50.4 1046.3,44.5 1050.6,38.5 1054.9,32.6"/>
<polyline points="733,224.2 737.3,224.2 741.6,224.1 745.9,224 750.2,223.8 754.5,223.5 758.8,223.2 763,222.8 767.3,222.4 771.6,221.8 775.9,221.3 780.2,220.7 784.5,220 788.8,219.2 793.1,218.4 797.4,217.6 801.7,216.6 806,215.6 810.2,214.6 814.5,213.5 818.8,212.3 823.1,211 827.4,209.7 831.7,208.4 836,206.9 840.3,205.4 844.6,203.9 848.9,202.2 853.2,200.5 857.5,198.8 861.8,196.9 866,195 870.3,193.1 874.6,191 878.9,188.9 883.2,186.8 887.5,184.5 891.8,182.2 896.1,179.8 900.4,177.3 904.7,174.8 909,172.1 913.2,169.4 917.5,166.6 921.8,163.8 926.1,160.8 930.4,157.8 934.7,154.7 939,151.5 943.3,148.3 947.6,144.9 951.9,141.5 956.2,137.9 960.5,134.3 964.8,130.6 969,126.8 973.3,122.8 977.6,118.8 981.9,114.7 986.2,110.5 990.5,106.2 994.8,101.7 999.1,97.2 1003.4,92.5 1007.7,87.7 1012,82.8 1016.2,77.8 1020.5,72.6 1024.8,67.2 1029.1,61.7 1033.4,56.1 1037.7,50.3 1042,44.3 1046.3,38.1 1050.6,31.9"/>
<polyline points="733,215.2 737.3,215.2 741.6,215.1 745.9,215 750.2,214.8 754.5,214.5 758.8,214.2 763,213.8 767.3,213.3 771.6,212.8 775.9,212.3 780.2,211.7 784.5,211 788.8,210.2 793.1,209.4 797.4,208.5 801.7,207.6 806,206.6 810.2,205.6 814.5,204.5 818.8,203.3 823.1,202 827.4,200.7 831.7,199.4 836,197.9 840.3,196.5 844.6,194.9 848.9,193.3 853.2,191.6 857.5,189.8 861.8,188 866,186.1 870.3,184.1 874.6,182.1 878.9,180 883.2,177.8 887.5,175.6 891.8,173.3 896.1,170.9 900.4,168.4 904.7,165.9 909,163.3 913.2,160.6 917.5,157.8 921.8,155 926.1,152.1 930.4,149.1 934.7,146 939,142.8 943.3,139.6 947.6,136.3 951.9,132.9 956.2,129.4 960.5,125.8 964.8,122.1 969,118.3 973.3,114.4 977.6,110.5 981.9,106.4 986.2,102.3 990.5,98 994.8,93.7 999.1,89.2 1003.4,84.6 1007.7,79.9 1012,75.1 1016.2,70.2 1020.5,65.1 1024.8,59.9 1029.1,54.6 1033.4,49.1 1037.7,43.5 1042,37.7 1046.3,31.7"/>
<polyline points="733,205.9 737.3,205.9 741.6,205.8 745.9,205.7 750.2,205.5 754.5,205.2 758.8,204.9 763,204.5 767.3,204 771.6,203.5 775.9,203 780.2,202.3 784.5,201.7 788.8,200.9 793.1,200.1 797.4,199.2 801.7,198.3 806,197.3 810.2,196.3 814.5,195.2 818.8,194 823.1,192.7 827.4,191.4 831.7,190.1 836,188.7 840.3,187.2 844.6,185.6 848.9,184 853.2,182.3 857.5,180.5 861.8,178.7 866,176.8 870.3,174.9 874.6,172.9 878.9,170.8 883.2,168.6 887.5,166.4 891.8,164.1 896.1,161.7 900.4,159.2 904.7,156.7 909,154.1 913.2,151.4 917.5,148.7 921.8,145.9 926.1,143 930.4,140 934.7,136.9 939,133.8 943.3,130.6 947.6,127.3 951.9,123.9 956.2,120.4 960.5,116.9 964.8,113.2 969,109.5 973.3,105.7 977.6,101.8 981.9,97.8 986.2,93.7 990.5,89.5 994.8,85.2 999.1,80.8 1003.4,76.2 1007.7,71.6 1012,66.9 1016.2,62.1 1020.5,57.1 1024.8,52 1029.1,46.9 1033.4,41.5 1037.7,36.1 1042,30.4"/>
<polyline points="733,196.3 737.3,196.3 741.6,196.2 745.9,196.1 750.2,195.8 754.5,195.6 758.8,195.3 763,194.9 767.3,194.4 771.6,193.9 775.9,193.4 780.2,192.7 784.5,192 788.8,191.3 793.1,190.5 797.4,189.6 801.7,188.7 806,187.7 810.2,186.7 814.5,185.6 818.8,184.4 823.1,183.1 827.4,181.8 831.7,180.5 836,179.1 840.3,177.6 844.6,176 848.9,174.4 853.2,172.7 857.5,171 861.8,169.1 866,167.3 870.3,165.3 874.6,163.3 878.9,161.2 883.2,159.1 887.5,156.8 891.8,154.5 896.1,152.2 900.4,149.7 904.7,147.2 909,144.6 913.2,142 917.5,139.2 921.8,136.4 926.1,133.6 930.4,130.6 934.7,127.6 939,124.5 943.3,121.3 947.6,118 951.9,114.6 956.2,111.2 960.5,107.7 964.8,104 969,100.3 973.3,96.6 977.6,92.7 981.9,88.7 986.2,84.7 990.5,80.5 994.8,76.3 999.1,71.9 1003.4,67.5 1007.7,62.9 1012,58.3 1016.2,53.5 1020.5,48.7 1024.8,43.7 1029.1,38.6 1033.4,33.4"/>
<polyline points="733,186.4 737.3,186.4 741.6,186.3 745.9,186.1 750.2,185.9 754.5,185.7 758.8,185.3 763,185 767.3,184.5 771.6,184 775.9,183.4 780.2,182.8 784.5,182.1 788.8,181.4 793.1,180.6 797.4,179.7 801.7,178.8 806,177.8 810.2,176.8 814.5,175.6 818.8,174.5 823.1,173.2 827.4,171.9 831.7,170.6 836,169.2 840.3,167.7 844.6,166.1 848.9,164.5 853.2,162.8 857.5,161.1 861.8,159.3 866,157.4 870.3,155.4 874.6,153.4 878.9,151.3 883.2,149.2 887.5,147 891.8,144.7 896.1,142.3 900.4,139.9 904.7,137.4 909,134.8 913.2,132.2 917.5,129.5 921.8,126.7 926.1,123.8 930.4,120.9 934.7,117.9 939,114.8 943.3,111.6 947.6,108.3 951.9,105 956.2,101.6 960.5,98.1 964.8,94.5 969,90.8 973.3,87.1 977.6,83.2 981.9,79.3 986.2,75.3 990.5,71.2 994.8,67 999.1,62.7 1003.4,58.3 1007.7,53.8 1012,49.2 1016.2,44.5 1020.5,39.7 1024.8,34.8"/>
<polyline points="733,176.2 737.3,176.2 741.6,176.1 745.9,175.9 750.2,175.7 754.5,175.4 758.8,175.1 763,174.7 767.3,174.3 771.6,173.8 775.9,173.2 780.2,172.6 784.5,171.9 788.8,171.2 793.1,170.4 797.4,169.5 801.7,168.6 806,167.6 810.2,166.5 814.5,165.4 818.8,164.3 823.1,163 827.4,161.7 831.7,160.4 836,159 840.3,157.5 844.6,155.9 848.9,154.3 853.2,152.6 857.5,150.9 861.8,149.1 866,147.2 870.3,145.3 874.6,143.3 878.9,141.2 883.2,139 887.5,136.8 891.8,134.5 896.1,132.2 900.4,129.8 904.7,127.3 909,124.7 913.2,122.1 917.5,119.4 921.8,116.6 926.1,113.8 930.4,110.8 934.7,107.8 939,104.8 943.3,101.6 947.6,98.4 951.9,95.1 956.2,91.7 960.5,88.2 964.8,84.6 969,81 973.3,77.3 977.6,73.5 981.9,69.6 986.2,65.6 990.5,61.5 994.8,57.4 999.1,53.1 1003.4,48.8 1007.7,44.3 1012,39.8 1016.2,35.2"/>
<polyline points="733,165.7 737.3,165.6 741.6,165.5 745.9,165.4 750.2,165.2 754.5,164.9 758.8,164.6 763,164.2 767.3,163.8 771.6,163.3 775.9,162.7 780.2,162.1 784.5,161.4 788.8,160.7 793.1,159.8 797.4,159 801.7,158.1 806,157.1 810.2,156 814.5,154.9 818.8,153.7 823.1,152.5 827.4,151.2 831.7,149.9 836,148.4 840.3,147 844.6,145.4 848.9,143.8 853.2,142.1 857.5,140.4 861.8,138.6 866,136.7 870.3,134.8 874.6,132.8 878.9,130.7 883.2,128.6 887.5,126.4 891.8,124.1 896.1,121.8 900.4,119.3 904.7,116.9 909,114.3 913.2,111.7 917.5,109 921.8,106.2 926.1,103.4 930.4,100.5 934.7,97.5 939,94.4 943.3,91.3 947.6,88.1 951.9,84.8 956.2,81.4 960.5,77.9 964.8,74.4 969,70.8 973.3,67.1 977.6,63.3 981.9,59.5 986.2,55.5 990.5,51.5 994.8,47.4 999.1,43.2 1003.4,38.8 1007.7,34.5"/>
<polyline points="733,154.8 737.3,154.8 741.6,154.7 745.9,154.6 750.2,154.4 754.5,154.1 758.8,153.8 763,153.4 767.3,152.9 771.6,152.4 775.9,151.9 780.2,151.3 784.5,150.6 788.8,149.8 793.1,149 797.4,148.2 801.7,147.2 806,146.3 810.2,145.2 814.5,144.1 818.8,142.9 823.1,141.7 827.4,140.4 831.7,139 836,137.6 840.3,136.1 844.6,134.6 848.9,133 853.2,131.3 857.5,129.6 861.8,127.8 866,125.9 870.3,124 874.6,122 878.9,119.9 883.2,117.8 887.5,115.6 891.8,113.3 896.1,111 900.4,108.6 904.7,106.1 909,103.6 913.2,101 917.5,98.3 921.8,95.5 926.1,92.7 930.4,89.8 934.7,86.8 939,83.8 943.3,80.6 947.6,77.4 951.9,74.2 956.2,70.8 960.5,67.4 964.8,63.9 969,60.3 973.3,56.6 977.6,52.9 981.9,49 986.2,45.1 990.5,41.1 994.8,37 999.1,32.8"/>
<polyline points="733,143.7 737.3,143.7 741.6,143.6 745.9,143.5 750.2,143.2 754.5,143 758.8,142.7 763,142.3 767.3,141.8 771.6,141.3 775.9,140.8 780.2,140.1 784.5,139.4 788.8,138.7 793.1,137.9 797.4,137 801.7,136.1 806,135.1 810.2,134.1 814.5,133 818.8,131.8 823.1,130.6 827.4,129.3 831.7,127.9 836,126.5 840.3,125 844.6,123.5 848.9,121.9 853.2,120.2 857.5,118.5 861.8,116.7 866,114.8 870.3,112.9 874.6,110.9 878.9,108.8 883.2,106.7 887.5,104.5 891.8,102.3 896.1,99.9 900.4,97.5 904.7,95.1 909,92.5 913.2,89.9 917.5,87.3 921.8,84.5 926.1,81.7 930.4,78.8 934.7,75.8 939,72.8 943.3,69.7 947.6,66.5 951.9,63.3 956.2,59.9 960.5,56.5 964.8,53 969,49.4 973.3,45.8 977.6,42.1 981.9,38.3 986.2,34.4"/>
<polyline points="733,132.3 737.3,132.3 741.6,132.2 745.9,132 750.2,131.8 754.5,131.5 758.8,131.2 763,130.8 767.3,130.4 771.6,129.9 775.9,129.3 780.2,128.7 784.5,128 788.8,127.3 793.1,126.5 797.4,125.6 801.7,124.7 806,123.7 810.2,122.7 814.5,121.5 818.8,120.4 823.1,119.2 827.4,117.9 831.7,116.5 836,115.1 840.3,113.6 844.6,112.1 848.9,110.5 853.2,108.8 857.5,107.1 861.8,105.3 866,103.4 870.3,101.5 874.6,99.5 878.9,97.4 883.2,95.3 887.5,93.1 891.8,90.9 896.1,88.6 900.4,86.2 904.7,83.7 909,81.2 913.2,78.6 917.5,75.9 921.8,73.2 926.1,70.4 930.4,67.5 934.7,64.5 939,61.5 943.3,58.4 947.6,55.3 951.9,52 956.2,48.7 960.5,45.3 964.8,41.8 969,38.3 973.3,34.6"/>
<polyline points="733,120.6 737.3,120.5 741.6,120.4 745.9,120.3 750.2,120.1 754.5,119.8 758.8,119.5 763,119.1 767.3,118.7 771.6,118.2 775.9,117.6 780.2,117 784.5,116.3 788.8,115.5 793.1,114.7 797.4,113.9 801.7,113 806,112 810.2,110.9 814.5,109.8 818.8,108.7 823.1,107.4 827.4,106.1 831.7,104.8 836,103.4 840.3,101.9 844.6,100.4 848.9,98.8 853.2,97.1 857.5,95.4 861.8,93.6 866,91.7 870.3,89.8 874.6,87.8 878.9,85.7 883.2,83.6 887.5,81.4 891.8,79.2 896.1,76.9 900.4,74.5 904.7,72 909,69.5 913.2,66.9 917.5,64.3 921.8,61.5 926.1,58.7 930.4,55.9 934.7,52.9 939,49.9 943.3,46.8 947.6,43.7 951.9,40.5 956.2,37.1 960.5,33.8"/>
<polyline points="733,108.5 737.3,108.5 741.6,108.4 745.9,108.3 750.2,108 754.5,107.8 758.8,107.5 763,107.1 767.3,106.6 771.6,106.1 775.9,105.6 780.2,104.9 784.5,104.3 788.8,103.5 793.1,102.7 797.4,101.8 801.7,100.9 806,99.9 810.2,98.9 814.5,97.8 818.8,96.6 823.1,95.4 827.4,94.1 831.7,92.8 836,91.3 840.3,89.9 844.6,88.3 848.9,86.7 853.2,85.1 857.5,83.3 861.8,81.5 866,79.7 870.3,77.8 874.6,75.8 878.9,73.7 883.2,71.6 887.5,69.5 891.8,67.2 896.1,64.9 900.4,62.5 904.7,60.1 909,57.6 913.2,55 917.5,52.3 921.8,49.6 926.1,46.8 930.4,44 934.7,41 939,38 943.3,34.9"/>
<polyline points="733,96.2 737.3,96.2 741.6,96.1 745.9,95.9 750.2,95.7 754.5,95.4 758.8,95.1 763,94.7 767.3,94.3 771.6,93.8 775.9,93.2 780.2,92.6 784.5,91.9 788.8,91.2 793.1,90.4 797.4,89.5 801.7,88.6 806,87.6 810.2,86.6 814.5,85.5 818.8,84.3 823.1,83.1 827.4,81.8 831.7,80.4 836,79 840.3,77.5 844.6,76 848.9,74.4 853.2,72.7 857.5,71 861.8,69.2 866,67.4 870.3,65.5 874.6,63.5 878.9,61.4 883.2,59.3 887.5,57.2 891.8,54.9 896.1,52.6 900.4,50.2 904.7,47.8 909,45.3 913.2,42.7 917.5,40.1 921.8,37.3 926.1,34.6"/>
<polyline points="733,83.5 737.3,83.5 741.6,83.4 745.9,83.3 750.2,83.1 754.5,82.8 758.8,82.5 763,82.1 767.3,81.7 771.6,81.1 775.9,80.6 780.2,80 784.5,79.3 788.8,78.5 793.1,77.7 797.4,76.9 801.7,75.9 806,75 810.2,73.9 814.5,72.8 818.8,71.7 823.1,70.4 827.4,69.1 831.7,67.8 836,66.4 840.3,64.9 844.6,63.4 848.9,61.8 853.2,60.1 857.5,58.4 861.8,56.6 866,54.8 870.3,52.8 874.6,50.9 878.9,48.8 883.2,46.7 887.5,44.5 891.8,42.3 896.1,40 900.4,37.6 904.7,35.2"/>
<polyline points="733,70.6 737.3,70.6 741.6,70.5 745.9,70.3 750.2,70.1 754.5,69.9 758.8,69.5 763,69.2 767.3,68.7 771.6,68.2 775.9,67.6 780.2,67 784.5,66.3 788.8,65.6 793.1,64.8 797.4,63.9 801.7,63 806,62 810.2,61 814.5,59.9 818.8,58.7 823.1,57.5 827.4,56.2 831.7,54.9 836,53.4 840.3,52 844.6,50.4 848.9,48.8 853.2,47.2 857.5,45.5 861.8,43.7 866,41.8 870.3,39.9 874.6,37.9 878.9,35.9 883.2,33.8"/>
<polyline points="733,57.4 737.3,57.3 741.6,57.2 745.9,57.1 750.2,56.9 754.5,56.6 758.8,56.3 763,55.9 767.3,55.5 771.6,55 775.9,54.4 780.2,53.8 784.5,53.1 788.8,52.4 793.1,51.5 797.4,50.7 801.7,49.8 806,48.8 810.2,47.7 814.5,46.6 818.8,45.5 823.1,44.2 827.4,43 831.7,41.6 836,40.2 840.3,38.7 844.6,37.2 848.9,35.6"/>
<polyline points="733,43.8 737.3,43.8 741.6,43.7 745.9,43.5 750.2,43.3 754.5,43.1 758.8,42.7 763,42.4 767.3,41.9 771.6,41.4 775.9,40.8 780.2,40.2 784.5,39.5 788.8,38.8 793.1,38 797.4,37.1 801.7,36.2 806,35.2"/>
</g>
<polyline points="733,353.8 739.9,353.6 746.7,353.1 753.6,352.4 760.5,351.3 767.3,350 774.2,348.3 781.1,346.3 787.9,344.1 794.8,341.5 801.7,338.6 808.5,335.4 815.4,332 822.3,328.2 829.1,324.1 836,319.7 842.9,315 849.7,310 856.6,304.7 863.5,299.1 870.3,293.2 877.2,287 884.1,280.5 890.9,273.7 897.8,266.6 904.7,259.1 911.5,251.4 918.4,243.4 925.3,235.1 932.1,226.4 939,217.5 945.9,208.3 952.7,198.7 959.6,188.9 966.5,178.8 973.3,168.3 980.2,157.6 987.1,146.5 993.9,135.2 1000.8,123.5 1007.7,111.5 1014.5,99.3 1021.4,86.7 1028.3,73.9 1035.1,60.7 1042,47.2 1048.9,33.4" stroke="#ff7a00" stroke-width="3.6"/>
</g>
<path d="M801.7 354.8v-10.2M801.7 51v10.2M870.3 354.8v-10.2M870.3 51v10.2M939 354.8v-10.2M939 51v10.2M1007.7 354.8v-10.2M1007.7 51v10.2M1076.3 354.8v-10.2M1076.3 51v10.2M767.3 354.8v-5.2M767.3 51v5.2M836 354.8v-5.2M836 51v5.2M904.7 354.8v-5.2M904.7 51v5.2M973.3 354.8v-5.2M973.3 51v5.2M1042 354.8v-5.2M1042 51v5.2M1110.7 354.8v-5.2M1110.7 51v5.2M733 353.8h10.2M1145.2 353.8h-10.2M733 278.1h10.2M1145.2 278.1h-10.2M733 202.4h10.2M1145.2 202.4h-10.2M733 126.7h10.2M1145.2 126.7h-10.2M733 315.9h5.2M1145.2 315.9h-5.2M733 240.2h5.2M1145.2 240.2h-5.2M733 164.5h5.2M1145.2 164.5h-5.2M733 88.8h5.2M1145.2 88.8h-5.2" stroke="#000" stroke-width="2.2" fill="none"/>
<rect x="733" y="51" width="412.2" height="303.8" fill="none" stroke="#000" stroke-width="2.6"/>
<text transform="translate(719.2 365.9) scale(0.93 1)" font-family='"Liberation Serif", "DejaVu Serif", serif' font-size="46" text-anchor="end">0</text>
<text transform="translate(719.2 290.3) scale(0.93 1)" font-family='"Liberation Serif", "DejaVu Serif", serif' font-size="46" text-anchor="end">20</text>
<text transform="translate(719.2 214.6) scale(0.93 1)" font-family='"Liberation Serif", "DejaVu Serif", serif' font-size="46" text-anchor="end">40</text>
<text transform="translate(719.2 138.9) scale(0.93 1)" font-family='"Liberation Serif", "DejaVu Serif", serif' font-size="46" text-anchor="end">60</text>
<text transform="translate(719.2 63.2) scale(0.93 1)" font-family='"Liberation Serif", "DejaVu Serif", serif' font-size="46" text-anchor="end">80</text>
<text transform="translate(733 400.3) scale(0.93 1)" font-family='"Liberation Serif", "DejaVu Serif", serif' font-size="46" text-anchor="middle">0</text>
<text transform="translate(801.7 400.3) scale(0.93 1)" font-family='"Liberation Serif", "DejaVu Serif", serif' font-size="46" text-anchor="middle">20</text>
<text transform="translate(870.3 400.3) scale(0.93 1)" font-family='"Liberation Serif", "DejaVu Serif", serif' font-size="46" text-anchor="middle">40</text>
<text transform="translate(939 400.3) scale(0.93 1)" font-family='"Liberation Serif", "DejaVu Serif", serif' font-size="46" text-anchor="middle">60</text>
<text transform="translate(1007.7 400.3) scale(0.93 1)" font-family='"Liberation Serif", "DejaVu Serif", serif' font-size="46" text-anchor="middle">80</text>
<text transform="translate(1076.3 400.3) scale(0.93 1)" font-family='"Liberation Serif", "DejaVu Serif", serif' font-size="46" text-anchor="middle">100</text>
<text transform="translate(1145 400.3) scale(0.93 1)" font-family='"Liberation Serif", "DejaVu Serif", serif' font-size="46" text-anchor="middle">120</text>
<text x="939" y="448" font-family='"Liberation Serif", "DejaVu Serif", serif' font-size="46" text-anchor="middle" font-style="italic">ξ</text>
<text transform="translate(662.2 327.5) rotate(-90)" font-family='"Liberation Serif", "DejaVu Serif", serif' font-size="47" textLength="248.1" lengthAdjust="spacingAndGlyphs">10<tspan dy="-16" font-size="32">−2</tspan><tspan dy="16" font-size="1">​</tspan><tspan font-style="italic">E</tspan>′<tspan font-size="64" dy="10">/</tspan><tspan dy="-10" font-size="1">​</tspan> (<tspan font-style="italic">ħK</tspan>)</text>
<defs>
<clipPath id="cc0"><rect x="136.3" y="503.7" width="287.7" height="232.7"/></clipPath>
<clipPath id="cf0"><rect x="136.3" y="795" width="287.7" height="233.4"/></clipPath>
<clipPath id="cc1"><rect x="495.8" y="503.7" width="287.5" height="232.7"/></clipPath>
<clipPath id="cf1"><rect x="495.8" y="795" width="287.5" height="233.4"/></clipPath>
<clipPath id="cc2"><rect x="855.8" y="503.7" width="287.2" height="232.7"/></clipPath>
<clipPath id="cf2"><rect x="855.8" y="795" width="287.2" height="233.4"/></clipPath>
</defs>
<g clip-path="url(#cc0)">
<path d="M136.3 736.4L136.3 634L150.6 634L150.6 592.8L164.8 592.8L164.8 649L179.1 649L179.1 667.7L193.3 667.7L193.3 674L207.6 674L207.6 686.4L221.8 686.4L221.8 692.7L236.1 692.7L236.1 692.7L250.3 692.7L250.3 698.9L264.6 698.9L264.6 698.9L278.9 698.9L278.9 698.9L293.1 698.9L293.1 705.2L307.4 705.2L307.4 698.9L321.6 698.9L321.6 705.2L335.9 705.2L335.9 711.4L350.1 711.4L350.1 705.2L364.4 705.2L364.4 711.4L378.6 711.4L378.6 705.2L392.9 705.2L392.9 711.4L407.2 711.4L407.2 711.4L421.4 711.4L421.4 736.4Z" fill="#ff4747"/>
<polyline points="136.3,646.3 136.6,646 136.9,645.7 137.2,645.5 137.5,645.2 137.7,644.9 138,644.6 138.3,644.3 138.6,644 138.9,643.6 139.2,643.3 139.5,643 139.8,642.7 140,642.3 140.3,642 140.6,641.6 140.9,641.3 141.2,640.9 141.5,640.6 141.8,640.2 142.1,639.8 142.3,639.4 142.6,639 142.9,638.6 143.2,638.2 143.5,637.8 143.8,637.4 144.1,637 144.4,636.5 144.6,636.1 144.9,635.6 145.2,635.1 145.5,634.6 145.8,634.2 146.1,633.7 146.4,633.1 146.7,632.6 146.9,632.1 147.2,631.5 147.5,630.9 147.8,630.4 148.1,629.8 148.4,629.1 148.7,628.5 149,627.9 149.2,627.2 149.5,626.5 149.8,625.8 150.1,625 150.4,624.3 150.7,623.5 151,622.7 151.3,621.8 151.5,620.9 151.8,620 152.1,619.1 152.4,618.1 152.7,617.1 153,616 153.3,614.8 153.6,613.6 153.8,612.4 154.1,611.1 154.4,609.7 154.7,608.2 155,606.6 155.3,604.9 155.6,603.1 155.9,601.2 156.2,599.1 156.4,596.7 156.7,594.2 157,591.4 157.3,588.2 157.3,587.9 157.4,587.5 157.4,587.2 157.4,586.8 157.4,586.5 157.5,586.1 157.5,585.7 157.5,585.4 157.6,585 157.6,584.6 157.6,584.2 157.6,583.8 157.7,583.4 157.7,583 157.7,582.6 157.8,582.1 157.8,581.7 157.8,581.3 157.8,580.8 157.9,580.4 157.9,579.9 157.9,579.5 158,579 158,578.5 158,578 158.1,577.5 158.1,577 158.1,576.5 158.1,575.9 158.2,575.4 158.2,574.8 158.2,574.3 158.3,573.7 158.3,573.1 158.3,572.5 158.3,571.9 158.4,571.2 158.4,570.6 158.4,569.9 158.5,569.3 158.5,568.6 158.5,567.8 158.5,567.1 158.6,566.3 158.6,565.6 158.6,564.8 158.7,563.9 158.7,563.1 158.7,562.2 158.7,561.3 158.8,560.3 158.8,559.4 158.8,558.3 158.9,557.3 158.9,556.2 158.9,555 158.9,553.9 159,552.6 159,551.3 159,549.9 159.1,548.5 159.1,547 159.1,545.4 159.1,543.7 159.2,541.8 159.2,539.9 159.2,537.8 159.3,535.5 159.3,533.1 159.3,530.4 159.3,527.4 159.4,524 159.4,521.2 159.4,521.2 159.5,521.2 159.5,521.2 159.5,521.2 159.5,521.2 159.6,521.2 159.6,521.2 159.6,521.2 159.7,521.2 159.7,521.2 159.7,521.2 159.7,521.2 159.8,521.2 159.8,521.2 159.8,524.8 159.9,528.2 159.9,531.3 159.9,534.1 159.9,536.6 160,538.9 160,541.1 160,543.1 160.1,545 160.1,546.8 160.1,548.4 160.2,550 160.2,551.5 160.2,553 160.2,554.3 160.3,555.6 160.3,556.9 160.3,558.1 160.4,559.2 160.4,560.3 160.4,561.4 160.4,562.4 160.5,563.4 160.5,564.4 160.5,565.3 160.6,566.2 160.6,567.1 160.6,568 160.6,568.8 160.7,569.6 160.7,570.4 160.7,571.2 160.8,571.9 160.8,572.7 160.8,573.4 160.8,574.1 160.9,574.8 160.9,575.4 160.9,576.1 161,576.7 161,577.3 161,578 161,578.6 161.1,579.1 161.1,579.7 161.1,580.3 161.2,580.8 161.2,581.4 161.2,581.9 161.2,582.5 161.3,583 161.3,583.5 161.3,584 161.4,584.5 161.4,585 161.4,585.4 161.4,585.9 161.5,586.4 161.5,586.8 161.5,587.3 161.6,587.7 161.6,588.2 161.6,588.6 161.6,589 161.7,589.4 161.7,589.8 161.7,590.3 161.8,590.7 161.8,591.1 161.8,591.4 161.8,591.8 161.9,592.2 161.9,592.6 162.2,596.1 162.5,599.3 162.8,602.2 163.1,604.8 163.3,607.2 163.6,609.4 163.9,611.5 164.2,613.5 164.5,615.3 164.8,617 165.1,618.7 165.4,620.2 165.6,621.7 165.9,623.1 166.2,624.5 166.5,625.7 166.8,627 167.1,628.2 167.4,629.3 167.7,630.4 167.9,631.4 168.2,632.5 168.5,633.4 168.8,634.4 169.1,635.3 169.4,636.2 169.7,637.1 170,637.9 170.2,638.7 170.5,639.5 170.8,640.3 171.1,641 171.4,641.7 171.7,642.5 172,643.2 172.3,643.8 172.6,644.5 172.8,645.1 173.1,645.8 173.4,646.4 173.7,647 174,647.6 174.3,648.1 174.6,648.7 174.9,649.2 175.1,649.8 175.4,650.3 175.7,650.8 176,651.3 176.3,651.8 176.6,652.3 176.9,652.8 177.2,653.3 177.4,653.7 177.7,654.2 178,654.6 178.3,655.1 178.6,655.5 178.9,655.9 179.2,656.4 179.5,656.8 179.7,657.2 180,657.6 180.3,658 180.6,658.3 180.9,658.7 181.2,659.1 181.5,659.5 181.8,659.8 182,660.2 182.3,660.5 182.6,660.9 182.9,661.2 183.2,661.5 183.5,661.9 183.8,662.2 184.1,662.5 184.3,662.8 184.6,663.2 184.9,663.5 185.2,663.8 185.5,664.1 185.8,664.4 186.1,664.7 186.4,664.9 186.6,665.2 186.9,665.5 187.2,665.8 187.5,666.1 187.8,666.3 188.1,666.6 188.4,666.9 188.7,667.1 188.9,667.4 189.2,667.7 189.5,667.9 189.8,668.2 190.1,668.4 190.4,668.7 190.7,668.9 191,669.1 191.3,669.4 191.5,669.6 191.8,669.8 192.1,670.1 192.4,670.3 192.7,670.5 193,670.7 193.3,671 193.6,671.2 193.8,671.4 194.1,671.6 194.4,671.8 194.7,672 195,672.2 195.3,672.4 195.6,672.6 195.9,672.8 196.1,673 196.4,673.2 196.7,673.4 197,673.6 197.3,673.8 197.6,674 197.9,674.2 198.2,674.4 198.4,674.6 198.7,674.7 199,674.9 199.3,675.1 199.6,675.3 199.9,675.5 200.2,675.6 200.5,675.8 200.7,676 201,676.2 201.3,676.3 201.6,676.5 201.9,676.7 202.2,676.8 202.5,677 202.8,677.1 203,677.3 203.3,677.5 203.6,677.6 203.9,677.8 204.2,677.9 204.5,678.1 204.8,678.2 205.1,678.4 205.3,678.5 205.6,678.7 205.9,678.8 206.2,679 206.5,679.1 206.8,679.3 207.1,679.4 207.4,679.6 207.6,679.7 207.9,679.8 208.2,680 208.5,680.1 208.8,680.3 209.1,680.4 209.4,680.5 209.7,680.7 210,680.8 210.2,680.9 210.5,681.1 210.8,681.2 211.1,681.3 211.4,681.4 211.7,681.6 212,681.7 212.3,681.8 212.5,681.9 212.8,682.1 213.1,682.2 213.4,682.3 213.7,682.4 214,682.6 214.3,682.7 214.6,682.8 214.8,682.9 215.1,683 215.4,683.2 215.7,683.3 216,683.4 216.3,683.5 216.6,683.6 216.9,683.7 217.1,683.8 217.4,683.9 217.7,684.1 218,684.2 218.3,684.3 218.6,684.4 218.9,684.5 219.2,684.6 219.4,684.7 219.7,684.8 220,684.9 220.3,685 220.6,685.1 220.9,685.2 221.2,685.3 221.5,685.4 221.7,685.5 222,685.6 222.3,685.7 222.6,685.8 222.9,685.9 223.2,686 223.5,686.1 223.8,686.2 224,686.3 224.3,686.4 224.6,686.5 224.9,686.6 225.2,686.7 225.5,686.8 225.8,686.9 226.1,687 226.4,687.1 226.6,687.2 226.9,687.3 227.2,687.4 227.5,687.4 227.8,687.5 228.1,687.6 228.4,687.7 228.7,687.8 228.9,687.9 229.2,688 229.5,688.1 229.8,688.1 230.1,688.2 230.4,688.3 230.7,688.4 231,688.5 231.2,688.6 231.5,688.7 231.8,688.7 232.1,688.8 232.4,688.9 232.7,689 233,689.1 233.3,689.1 233.5,689.2 233.8,689.3 234.1,689.4 234.4,689.5 234.7,689.5 235,689.6 235.3,689.7 235.6,689.8 235.8,689.9 236.1,689.9 236.4,690 236.7,690.1 237,690.2 237.3,690.2 237.6,690.3 237.9,690.4 238.1,690.5 238.4,690.5 238.7,690.6 239,690.7 239.3,690.8 239.6,690.8 239.9,690.9 240.2,691 240.4,691 240.7,691.1 241,691.2 241.3,691.3 241.6,691.3 241.9,691.4 242.2,691.5 242.5,691.5 242.7,691.6 243,691.7 243.3,691.7 243.6,691.8 243.9,691.9 244.2,691.9 244.5,692 244.8,692.1 245.1,692.1 245.3,692.2 245.6,692.3 245.9,692.3 246.2,692.4 246.5,692.5 246.8,692.5 247.1,692.6 247.4,692.7 247.6,692.7 247.9,692.8 248.2,692.9 248.5,692.9 248.8,693 249.1,693 249.4,693.1 249.7,693.2 249.9,693.2 250.2,693.3 250.5,693.4 250.8,693.4 251.1,693.5 251.4,693.5 251.7,693.6 252,693.7 252.2,693.7 252.5,693.8 252.8,693.8 253.1,693.9 253.4,693.9 253.7,694 254,694.1 254.3,694.1 254.5,694.2 254.8,694.2 255.1,694.3 255.4,694.4 255.7,694.4 256,694.5 256.3,694.5 256.6,694.6 256.8,694.6 257.1,694.7 257.4,694.7 257.7,694.8 258,694.9 258.3,694.9 258.6,695 258.9,695 259.1,695.1 259.4,695.1 259.7,695.2 260,695.2 260.3,695.3 260.6,695.3 260.9,695.4 261.2,695.4 261.4,695.5 261.7,695.5 262,695.6 262.3,695.7 262.6,695.7 262.9,695.8 263.2,695.8 263.5,695.9 263.8,695.9 264,696 264.3,696 264.6,696.1 264.9,696.1 265.2,696.2 265.5,696.2 265.8,696.3 266.1,696.3 266.3,696.4 266.6,696.4 266.9,696.5 267.2,696.5 267.5,696.6 267.8,696.6 268.1,696.6 268.4,696.7 268.6,696.7 268.9,696.8 269.2,696.8 269.5,696.9 269.8,696.9 270.1,697 270.4,697 270.7,697.1 270.9,697.1 271.2,697.2 271.5,697.2 271.8,697.3 272.1,697.3 272.4,697.3 272.7,697.4 273,697.4 273.2,697.5 273.5,697.5 273.8,697.6 274.1,697.6 274.4,697.7 274.7,697.7 275,697.8 275.3,697.8 275.5,697.8 275.8,697.9 276.1,697.9 276.4,698 276.7,698 277,698.1 277.3,698.1 277.6,698.1 277.8,698.2 278.1,698.2 278.4,698.3 278.7,698.3 279,698.4 279.3,698.4 279.6,698.4 279.9,698.5 280.1,698.5 280.4,698.6 280.7,698.6 281,698.6 281.3,698.7 281.6,698.7 281.9,698.8 282.2,698.8 282.5,698.8 282.7,698.9 283,698.9 283.3,699 283.6,699 283.9,699 284.2,699.1 284.5,699.1 284.8,699.2 285,699.2 285.3,699.2 285.6,699.3 285.9,699.3 286.2,699.4 286.5,699.4 286.8,699.4 287.1,699.5 287.3,699.5 287.6,699.6 287.9,699.6 288.2,699.6 288.5,699.7 288.8,699.7 289.1,699.7 289.4,699.8 289.6,699.8 289.9,699.9 290.2,699.9 290.5,699.9 290.8,700 291.1,700 291.4,700 291.7,700.1 291.9,700.1 292.2,700.1 292.5,700.2 292.8,700.2 293.1,700.3 293.4,700.3 293.7,700.3 294,700.4 294.2,700.4 294.5,700.4 294.8,700.5 295.1,700.5 295.4,700.5 295.7,700.6 296,700.6 296.3,700.6 296.5,700.7 296.8,700.7 297.1,700.8 297.4,700.8 297.7,700.8 298,700.9 298.3,700.9 298.6,700.9 298.9,701 299.1,701 299.4,701 299.7,701.1 300,701.1 300.3,701.1 300.6,701.2 300.9,701.2 301.2,701.2 301.4,701.3 301.7,701.3 302,701.3 302.3,701.4 302.6,701.4 302.9,701.4 303.2,701.5 303.5,701.5 303.7,701.5 304,701.6 304.3,701.6 304.6,701.6 304.9,701.6 305.2,701.7 305.5,701.7 305.8,701.7 306,701.8 306.3,701.8 306.6,701.8 306.9,701.9 307.2,701.9 307.5,701.9 307.8,702 308.1,702 308.3,702 308.6,702.1 308.9,702.1 309.2,702.1 309.5,702.1 309.8,702.2 310.1,702.2 310.4,702.2 310.6,702.3 310.9,702.3 311.2,702.3 311.5,702.4 311.8,702.4 312.1,702.4 312.4,702.5 312.7,702.5 312.9,702.5 313.2,702.5 313.5,702.6 313.8,702.6 314.1,702.6 314.4,702.7 314.7,702.7 315,702.7 315.2,702.7 315.5,702.8 315.8,702.8 316.1,702.8 316.4,702.9 316.7,702.9 317,702.9 317.3,702.9 317.6,703 317.8,703 318.1,703 318.4,703.1 318.7,703.1 319,703.1 319.3,703.1 319.6,703.2 319.9,703.2 320.1,703.2 320.4,703.3 320.7,703.3 321,703.3 321.3,703.3 321.6,703.4 321.9,703.4 322.2,703.4 322.4,703.4 322.7,703.5 323,703.5 323.3,703.5 323.6,703.6 323.9,703.6 324.2,703.6 324.5,703.6 324.7,703.7 325,703.7 325.3,703.7 325.6,703.7 325.9,703.8 326.2,703.8 326.5,703.8 326.8,703.9 327,703.9 327.3,703.9 327.6,703.9 327.9,704 328.2,704 328.5,704 328.8,704 329.1,704.1 329.3,704.1 329.6,704.1 329.9,704.1 330.2,704.2 330.5,704.2 330.8,704.2 331.1,704.2 331.4,704.3 331.6,704.3 331.9,704.3 332.2,704.3 332.5,704.4 332.8,704.4 333.1,704.4 333.4,704.4 333.7,704.5 333.9,704.5 334.2,704.5 334.5,704.5 334.8,704.6 335.1,704.6 335.4,704.6 335.7,704.6 336,704.7 336.3,704.7 336.5,704.7 336.8,704.7 337.1,704.8 337.4,704.8 337.7,704.8 338,704.8 338.3,704.9 338.6,704.9 338.8,704.9 339.1,704.9 339.4,704.9 339.7,705 340,705 340.3,705 340.6,705 340.9,705.1 341.1,705.1 341.4,705.1 341.7,705.1 342,705.2 342.3,705.2 342.6,705.2 342.9,705.2 343.2,705.3 343.4,705.3 343.7,705.3 344,705.3 344.3,705.3 344.6,705.4 344.9,705.4 345.2,705.4 345.5,705.4 345.7,705.5 346,705.5 346.3,705.5 346.6,705.5 346.9,705.5 347.2,705.6 347.5,705.6 347.8,705.6 348,705.6 348.3,705.7 348.6,705.7 348.9,705.7 349.2,705.7 349.5,705.7 349.8,705.8 350.1,705.8 350.3,705.8 350.6,705.8 350.9,705.9 351.2,705.9 351.5,705.9 351.8,705.9 352.1,705.9 352.4,706 352.7,706 352.9,706 353.2,706 353.5,706 353.8,706.1 354.1,706.1 354.4,706.1 354.7,706.1 355,706.2 355.2,706.2 355.5,706.2 355.8,706.2 356.1,706.2 356.4,706.3 356.7,706.3 357,706.3 357.3,706.3 357.5,706.3 357.8,706.4 358.1,706.4 358.4,706.4 358.7,706.4 359,706.4 359.3,706.5 359.6,706.5 359.8,706.5 360.1,706.5 360.4,706.5 360.7,706.6 361,706.6 361.3,706.6 361.6,706.6 361.9,706.6 362.1,706.7 362.4,706.7 362.7,706.7 363,706.7 363.3,706.7 363.6,706.8 363.9,706.8 364.2,706.8 364.4,706.8 364.7,706.8 365,706.9 365.3,706.9 365.6,706.9 365.9,706.9 366.2,706.9 366.5,707 366.7,707 367,707 367.3,707 367.6,707 367.9,707.1 368.2,707.1 368.5,707.1 368.8,707.1 369,707.1 369.3,707.2 369.6,707.2 369.9,707.2 370.2,707.2 370.5,707.2 370.8,707.3 371.1,707.3 371.4,707.3 371.6,707.3 371.9,707.3 372.2,707.3 372.5,707.4 372.8,707.4 373.1,707.4 373.4,707.4 373.7,707.4 373.9,707.5 374.2,707.5 374.5,707.5 374.8,707.5 375.1,707.5 375.4,707.5 375.7,707.6 376,707.6 376.2,707.6 376.5,707.6 376.8,707.6 377.1,707.7 377.4,707.7 377.7,707.7 378,707.7 378.3,707.7 378.5,707.7 378.8,707.8 379.1,707.8 379.4,707.8 379.7,707.8 380,707.8 380.3,707.9 380.6,707.9 380.8,707.9 381.1,707.9 381.4,707.9 381.7,707.9 382,708 382.3,708 382.6,708 382.9,708 383.1,708 383.4,708 383.7,708.1 384,708.1 384.3,708.1 384.6,708.1 384.9,708.1 385.2,708.1 385.4,708.2 385.7,708.2 386,708.2 386.3,708.2 386.6,708.2 386.9,708.3 387.2,708.3 387.5,708.3 387.7,708.3 388,708.3 388.3,708.3 388.6,708.4 388.9,708.4 389.2,708.4 389.5,708.4 389.8,708.4 390.1,708.4 390.3,708.5 390.6,708.5 390.9,708.5 391.2,708.5 391.5,708.5 391.8,708.5 392.1,708.6 392.4,708.6 392.6,708.6 392.9,708.6 393.2,708.6 393.5,708.6 393.8,708.7 394.1,708.7 394.4,708.7 394.7,708.7 394.9,708.7 395.2,708.7 395.5,708.7 395.8,708.8 396.1,708.8 396.4,708.8 396.7,708.8 397,708.8 397.2,708.8 397.5,708.9 397.8,708.9 398.1,708.9 398.4,708.9 398.7,708.9 399,708.9 399.3,709 399.5,709 399.8,709 400.1,709 400.4,709 400.7,709 401,709 401.3,709.1 401.6,709.1 401.8,709.1 402.1,709.1 402.4,709.1 402.7,709.1 403,709.2 403.3,709.2 403.6,709.2 403.9,709.2 404.1,709.2 404.4,709.2 404.7,709.2 405,709.3 405.3,709.3 405.6,709.3 405.9,709.3 406.2,709.3 406.5,709.3 406.7,709.4 407,709.4 407.3,709.4 407.6,709.4 407.9,709.4 408.2,709.4 408.5,709.4 408.8,709.5 409,709.5 409.3,709.5 409.6,709.5 409.9,709.5 410.2,709.5 410.5,709.5 410.8,709.6 411.1,709.6 411.3,709.6 411.6,709.6 411.9,709.6 412.2,709.6 412.5,709.7 412.8,709.7 413.1,709.7 413.4,709.7 413.6,709.7 413.9,709.7 414.2,709.7 414.5,709.8 414.8,709.8 415.1,709.8 415.4,709.8 415.7,709.8 415.9,709.8 416.2,709.8 416.5,709.9 416.8,709.9 417.1,709.9 417.4,709.9 417.7,709.9 418,709.9 418.2,709.9 418.5,710 418.8,710 419.1,710 419.4,710 419.7,710 420,710 420.3,710 420.5,710.1 420.8,710.1 421.1,710.1 421.4,710.1 421.7,710.1 422,710.1 422.3,710.1 422.6,710.1 422.8,710.2 423.1,710.2 423.4,710.2 423.7,710.2 424,710.2" fill="none" stroke="#4a98f4" stroke-width="4.6" stroke-linejoin="round"/>
<path d="M159.6 491.7V736.4" stroke="#000" stroke-width="3.4" stroke-dasharray="7.6 7.3" fill="none"/>
</g>
<path d="M251.4 736.4v-12.1M251.4 503.7v12.1M366.5 736.4v-12.1M366.5 503.7v12.1M193.8 736.4v-6.3M193.8 503.7v6.3M308.9 736.4v-6.3M308.9 503.7v6.3M136.3 620h12.1M424 620h-12.1M136.3 678.2h6.3M424 678.2h-6.3M136.3 561.9h6.3M424 561.9h-6.3" stroke="#000" stroke-width="3.6" fill="none"/>
<rect x="136.3" y="503.7" width="287.7" height="232.7" fill="none" stroke="#000" stroke-width="3.5"/>
<text transform="translate(128.1 748.6) scale(0.93 1)" font-family='"Liberation Serif", "DejaVu Serif", serif' font-size="46" text-anchor="end">0</text>
<text transform="translate(128.1 632.2) scale(0.93 1)" font-family='"Liberation Serif", "DejaVu Serif", serif' font-size="46" text-anchor="end">6</text>
<text transform="translate(128.1 515.9) scale(0.93 1)" font-family='"Liberation Serif", "DejaVu Serif", serif' font-size="46" text-anchor="end">12</text>
<g clip-path="url(#cf0)">
<polyline points="136.3,979.4 137.3,963.9 138.3,954 139.4,946.7 140.3,941.1 141.3,936.6 142.3,933 143.3,930.2 144.2,928 145.1,926.3 146,925.2 146.9,924.5 147.8,924.3 148.7,924.6 149.6,925.2 150.4,926.3 151.2,927.8 152,929.8 152.8,932.2 153.6,935.1 154.3,938.5 155.1,942.5 155.8,947.1 156.5,952.4 157.1,958.6 157.7,965.9 158.3,974.7 158.9,985.6 159.3,1004.1 159.7,1016.9 160.1,993.8 160.6,980.2 161.2,970.2 161.8,962 162.5,954.9 163.2,948.7 163.9,943.3 164.6,938.4 165.4,934 166.3,930 167.1,926.3 168,923 168.9,919.9 169.8,917.1 170.8,914.4 171.7,912 172.8,909.7 173.8,907.6 174.8,905.6 175.9,903.8 177,902 178.2,900.4 179.3,898.8 180.5,897.4 181.7,896 182.9,894.8 184.2,893.5 185.5,892.4 186.8,891.3 188.1,890.3 189.5,889.3 190.8,888.4 192.2,887.5 193.6,886.6 195.1,885.8 196.6,885.1 198,884.3 199.6,883.6 201.1,883 202.7,882.4 204.2,881.8 205.9,881.2 207.5,880.6 209.1,880.1 210.8,879.6 212.5,879.1 214.2,878.6 216,878.2 217.8,877.7 219.6,877.3 221.4,876.9 223.2,876.5 225.1,876.2 227,875.8 228.9,875.5 230.8,875.2 232.8,874.8 234.8,874.5 236.8,874.2 238.8,874 240.8,873.7 242.9,873.4 245,873.2 247.1,872.9 249.3,872.7 251.4,872.4 253.6,872.2 255.8,872 258.1,871.8 260.3,871.6 262.6,871.4 264.9,871.2 267.2,871 269.6,870.8 272,870.7 274.4,870.5 276.8,870.3 279.2,870.2 281.7,870 284.2,869.9 286.7,869.7 289.2,869.6 291.8,869.4 294.4,869.3 297,869.2 299.6,869 302.2,868.9 304.9,868.8 307.6,868.7 310.3,868.6 313.1,868.5 315.8,868.4 318.6,868.3 321.4,868.2 324.3,868.1 327.1,868 330,867.9 332.9,867.8 335.9,867.7 338.8,867.6 341.8,867.5 344.8,867.4 347.8,867.3 350.8,867.3 353.9,867.2 357,867.1 360.1,867 363.2,867 366.4,866.9 369.6,866.8 372.8,866.8 376,866.7 379.3,866.6 382.5,866.6 385.8,866.5 389.1,866.4 392.5,866.4 395.9,866.3 399.2,866.3 402.7,866.2 406.1,866.2 409.5,866.1 413,866.1 416.5,866 420.1,866 423.6,865.9 427.2,865.9" fill="none" stroke="#ff4040" stroke-width="3.6" stroke-linejoin="round"/>
<path d="M159.6 783V1028.4" stroke="#000" stroke-width="3.4" stroke-dasharray="7.6 7.3" fill="none"/>
</g>
<path d="M251.4 1028.4v-12.1M251.4 795v12.1M366.5 1028.4v-12.1M366.5 795v12.1M193.8 1028.4v-6.3M193.8 795v6.3M308.9 1028.4v-6.3M308.9 795v6.3M136.3 911.7h12.1M424 911.7h-12.1M136.3 970.1h6.3M424 970.1h-6.3M136.3 853.4h6.3M424 853.4h-6.3" stroke="#000" stroke-width="3.6" fill="none"/>
<rect x="136.3" y="795" width="287.7" height="233.4" fill="none" stroke="#000" stroke-width="3.5"/>
<text transform="translate(128.1 1040.6) scale(0.93 1)" font-family='"Liberation Serif", "DejaVu Serif", serif' font-size="46" text-anchor="end">0</text>
<text transform="translate(128.1 923.9) scale(0.93 1)" font-family='"Liberation Serif", "DejaVu Serif", serif' font-size="46" text-anchor="end">40</text>
<text transform="translate(128.1 807.2) scale(0.93 1)" font-family='"Liberation Serif", "DejaVu Serif", serif' font-size="46" text-anchor="end">80</text>
<text transform="translate(136.5 1069.3) scale(0.93 1)" font-family='"Liberation Serif", "DejaVu Serif", serif' font-size="46" text-anchor="middle">0</text>
<text transform="translate(251.6 1069.3) scale(0.93 1)" font-family='"Liberation Serif", "DejaVu Serif", serif' font-size="46" text-anchor="middle">4</text>
<text transform="translate(366.7 1069.3) scale(0.93 1)" font-family='"Liberation Serif", "DejaVu Serif", serif' font-size="46" text-anchor="middle">8</text>
<text x="154.6" y="1119.4" font-family='"Liberation Serif", "DejaVu Serif", serif' font-size="47" textLength="251.2" lengthAdjust="spacingAndGlyphs">10<tspan dy="-16" font-size="32">−4</tspan><tspan dy="16" font-size="1">​</tspan><tspan font-style="italic">E</tspan>′<tspan font-size="64" dy="10">/</tspan><tspan dy="-10" font-size="1">​</tspan> (<tspan font-style="italic">ħK</tspan>)</text>
<g clip-path="url(#cc1)">
<path d="M495.8 736.4L495.8 661.5L510.2 661.5L510.2 670.8L524.6 670.8L524.6 661.5L539 661.5L539 661.5L553.4 661.5L553.4 652.1L567.7 652.1L567.7 633.4L582.1 633.4L582.1 605.3L596.5 605.3L596.5 642.7L610.9 642.7L610.9 652.1L625.3 652.1L625.3 670.8L639.7 670.8L639.7 670.8L654.1 670.8L654.1 680.2L668.5 680.2L668.5 680.2L682.9 680.2L682.9 680.2L697.3 680.2L697.3 689.6L711.6 689.6L711.6 689.6L726 689.6L726 689.6L740.4 689.6L740.4 689.6L754.8 689.6L754.8 689.6L769.2 689.6L769.2 698.9L783.6 698.9L783.6 736.4Z" fill="#ff4747"/>
<polyline points="495.8,668.8 496.1,668.8 496.4,668.7 496.7,668.7 496.9,668.6 497.2,668.6 497.5,668.5 497.8,668.5 498.1,668.4 498.4,668.4 498.7,668.3 499,668.2 499.2,668.2 499.5,668.1 499.8,668.1 500.1,668 500.4,668 500.7,667.9 501,667.9 501.3,667.8 501.6,667.8 501.8,667.7 502.1,667.6 502.4,667.6 502.7,667.5 503,667.5 503.3,667.4 503.6,667.4 503.9,667.3 504.1,667.2 504.4,667.2 504.7,667.1 505,667.1 505.3,667 505.6,666.9 505.9,666.9 506.2,666.8 506.4,666.8 506.7,666.7 507,666.6 507.3,666.6 507.6,666.5 507.9,666.5 508.2,666.4 508.4,666.3 508.7,666.3 509,666.2 509.3,666.2 509.6,666.1 509.9,666 510.2,666 510.5,665.9 510.8,665.8 511,665.8 511.3,665.7 511.6,665.7 511.9,665.6 512.2,665.5 512.5,665.5 512.8,665.4 513,665.3 513.3,665.3 513.6,665.2 513.9,665.1 514.2,665.1 514.5,665 514.8,664.9 515.1,664.9 515.4,664.8 515.6,664.7 515.9,664.7 516.2,664.6 516.5,664.5 516.8,664.5 517.1,664.4 517.4,664.3 517.6,664.2 517.9,664.2 518.2,664.1 518.5,664 518.8,664 519.1,663.9 519.4,663.8 519.7,663.7 520,663.7 520.2,663.6 520.5,663.5 520.8,663.5 521.1,663.4 521.4,663.3 521.7,663.2 522,663.2 522.2,663.1 522.5,663 522.8,662.9 523.1,662.8 523.4,662.8 523.7,662.7 524,662.6 524.3,662.5 524.5,662.5 524.8,662.4 525.1,662.3 525.4,662.2 525.7,662.1 526,662.1 526.3,662 526.6,661.9 526.9,661.8 527.1,661.7 527.4,661.7 527.7,661.6 528,661.5 528.3,661.4 528.6,661.3 528.9,661.2 529.1,661.1 529.4,661.1 529.7,661 530,660.9 530.3,660.8 530.6,660.7 530.9,660.6 531.2,660.5 531.5,660.4 531.7,660.4 532,660.3 532.3,660.2 532.6,660.1 532.9,660 533.2,659.9 533.5,659.8 533.8,659.7 534,659.6 534.3,659.5 534.6,659.4 534.9,659.3 535.2,659.2 535.5,659.1 535.8,659.1 536,659 536.3,658.9 536.6,658.8 536.9,658.7 537.2,658.6 537.5,658.5 537.8,658.4 538.1,658.3 538.4,658.2 538.6,658 538.9,657.9 539.2,657.8 539.5,657.7 539.8,657.6 540.1,657.5 540.4,657.4 540.6,657.3 540.9,657.2 541.2,657.1 541.5,657 541.8,656.9 542.1,656.8 542.4,656.6 542.7,656.5 543,656.4 543.2,656.3 543.5,656.2 543.8,656.1 544.1,656 544.4,655.8 544.7,655.7 545,655.6 545.2,655.5 545.5,655.4 545.8,655.2 546.1,655.1 546.4,655 546.7,654.9 547,654.7 547.3,654.6 547.5,654.5 547.8,654.4 548.1,654.2 548.4,654.1 548.7,654 549,653.8 549.3,653.7 549.6,653.6 549.9,653.4 550.1,653.3 550.4,653.2 550.7,653 551,652.9 551.3,652.7 551.6,652.6 551.9,652.5 552.1,652.3 552.4,652.2 552.7,652 553,651.9 553.3,651.7 553.6,651.6 553.9,651.4 554.2,651.3 554.5,651.1 554.7,650.9 555,650.8 555.3,650.6 555.6,650.5 555.9,650.3 556.2,650.1 556.5,650 556.8,649.8 557,649.6 557.3,649.5 557.6,649.3 557.9,649.1 558.2,648.9 558.5,648.8 558.8,648.6 559,648.4 559.3,648.2 559.6,648 559.9,647.9 560.2,647.7 560.5,647.5 560.8,647.3 561.1,647.1 561.4,646.9 561.6,646.7 561.9,646.5 562.2,646.3 562.5,646.1 562.8,645.9 563.1,645.7 563.4,645.4 563.6,645.2 563.9,645 564.2,644.8 564.5,644.6 564.8,644.3 565.1,644.1 565.4,643.9 565.7,643.6 566,643.4 566.2,643.2 566.5,642.9 566.8,642.7 567.1,642.4 567.4,642.2 567.7,641.9 568,641.6 568.2,641.4 568.5,641.1 568.8,640.8 569.1,640.5 569.4,640.2 569.7,640 570,639.7 570.3,639.4 570.5,639.1 570.8,638.8 571.1,638.4 571.4,638.1 571.7,637.8 572,637.5 572.3,637.1 572.6,636.8 572.9,636.4 573.1,636.1 573.4,635.7 573.7,635.4 574,635 574.3,634.6 574.6,634.2 574.9,633.8 575.1,633.4 575.4,633 575.7,632.5 576,632.1 576.3,631.7 576.6,631.2 576.9,630.7 577.2,630.2 577.5,629.8 577.7,629.2 578,628.7 578.3,628.2 578.6,627.6 578.9,627.1 579.2,626.5 579.5,625.9 579.8,625.3 580,624.6 580.3,623.9 580.6,623.3 580.9,622.5 581.2,621.8 581.5,621 581.8,620.2 582,619.4 582.3,618.5 582.6,617.6 582.9,616.7 583.2,615.7 583.5,614.6 583.8,613.5 584.1,612.3 584.4,611 584.6,609.7 584.9,608.3 585.2,606.7 585.5,605.1 585.8,603.2 586.1,601.2 586.4,599 586.6,596.6 586.7,596.3 586.7,596 586.7,595.8 586.8,595.5 586.8,595.2 586.8,594.9 586.9,594.6 586.9,594.3 586.9,594 586.9,593.7 587,593.4 587,593.1 587,592.8 587.1,592.5 587.1,592.2 587.1,591.9 587.1,591.5 587.2,591.2 587.2,590.8 587.2,590.5 587.3,590.1 587.3,589.8 587.3,589.4 587.3,589 587.4,588.7 587.4,588.3 587.4,587.9 587.5,587.5 587.5,587.1 587.5,586.6 587.5,586.2 587.6,585.8 587.6,585.3 587.6,584.9 587.7,584.4 587.7,583.9 587.7,583.4 587.7,582.9 587.8,582.4 587.8,581.9 587.8,581.4 587.9,580.8 587.9,580.3 587.9,579.7 587.9,579.1 588,578.5 588,577.8 588,577.2 588.1,576.5 588.1,575.8 588.1,575.1 588.1,574.3 588.2,573.5 588.2,572.7 588.2,571.9 588.3,571 588.3,570.1 588.3,569.2 588.3,568.2 588.4,567.1 588.4,566.1 588.4,564.9 588.5,563.7 588.5,562.4 588.5,561 588.5,559.5 588.6,557.9 588.6,556.2 588.6,554.4 588.7,552.3 588.7,550 588.7,547.5 588.7,544.6 588.8,541.3 588.8,537.4 588.8,532.5 588.9,531.3 588.9,531.3 588.9,531.3 589,531.3 589,531.3 589,531.3 589,531.3 589.1,532.6 589.1,537.5 589.1,541.5 589.2,544.8 589.2,547.7 589.2,550.2 589.2,552.5 589.3,554.6 589.3,556.5 589.3,558.2 589.4,559.8 589.4,561.3 589.4,562.7 589.4,564 589.5,565.3 589.5,566.4 589.5,567.5 589.6,568.6 589.6,569.6 589.6,570.6 589.6,571.5 589.7,572.4 589.7,573.2 589.7,574 589.8,574.8 589.8,575.6 589.8,576.3 589.8,577 589.9,577.7 589.9,578.4 589.9,579.1 590,579.7 590,580.3 590,580.9 590,581.5 590.1,582 590.1,582.6 590.1,583.1 590.2,583.7 590.2,584.2 590.2,584.7 590.2,585.2 590.3,585.6 590.3,586.1 590.3,586.6 590.4,587 590.4,587.5 590.4,587.9 590.4,588.3 590.5,588.7 590.5,589.1 590.5,589.5 590.6,589.9 590.6,590.3 590.6,590.7 590.6,591.1 590.7,591.4 590.7,591.8 590.7,592.2 590.8,592.5 590.8,592.9 590.8,593.2 590.8,593.5 590.9,593.9 590.9,594.2 590.9,594.5 591,594.8 591,595.1 591,595.4 591,595.7 591.1,596 591.1,596.3 591.1,596.6 591.2,596.9 591.2,597.2 591.2,597.5 591.2,597.7 591.5,600.3 591.8,602.7 592.1,604.8 592.4,606.7 592.7,608.4 593,610.1 593.3,611.6 593.5,613 593.8,614.4 594.1,615.7 594.4,616.9 594.7,618 595,619.1 595.3,620.1 595.6,621.1 595.9,622.1 596.1,623 596.4,623.9 596.7,624.7 597,625.5 597.3,626.3 597.6,627.1 597.9,627.8 598.1,628.5 598.4,629.2 598.7,629.9 599,630.6 599.3,631.2 599.6,631.8 599.9,632.4 600.2,633 600.5,633.6 600.7,634.1 601,634.7 601.3,635.2 601.6,635.7 601.9,636.2 602.2,636.7 602.5,637.2 602.8,637.7 603,638.2 603.3,638.6 603.6,639.1 603.9,639.5 604.2,639.9 604.5,640.4 604.8,640.8 605,641.2 605.3,641.6 605.6,642 605.9,642.4 606.2,642.7 606.5,643.1 606.8,643.5 607.1,643.9 607.4,644.2 607.6,644.6 607.9,644.9 608.2,645.3 608.5,645.6 608.8,645.9 609.1,646.2 609.4,646.6 609.6,646.9 609.9,647.2 610.2,647.5 610.5,647.8 610.8,648.1 611.1,648.4 611.4,648.7 611.7,649 612,649.3 612.2,649.6 612.5,649.8 612.8,650.1 613.1,650.4 613.4,650.6 613.7,650.9 614,651.2 614.2,651.4 614.5,651.7 614.8,651.9 615.1,652.2 615.4,652.4 615.7,652.7 616,652.9 616.3,653.2 616.5,653.4 616.8,653.6 617.1,653.9 617.4,654.1 617.7,654.3 618,654.6 618.3,654.8 618.6,655 618.9,655.2 619.1,655.4 619.4,655.6 619.7,655.9 620,656.1 620.3,656.3 620.6,656.5 620.9,656.7 621.1,656.9 621.4,657.1 621.7,657.3 622,657.5 622.3,657.7 622.6,657.9 622.9,658.1 623.2,658.2 623.5,658.4 623.7,658.6 624,658.8 624.3,659 624.6,659.2 624.9,659.4 625.2,659.5 625.5,659.7 625.8,659.9 626,660.1 626.3,660.2 626.6,660.4 626.9,660.6 627.2,660.7 627.5,660.9 627.8,661.1 628,661.2 628.3,661.4 628.6,661.6 628.9,661.7 629.2,661.9 629.5,662.1 629.8,662.2 630.1,662.4 630.3,662.5 630.6,662.7 630.9,662.8 631.2,663 631.5,663.1 631.8,663.3 632.1,663.4 632.4,663.6 632.6,663.7 632.9,663.9 633.2,664 633.5,664.2 633.8,664.3 634.1,664.4 634.4,664.6 634.7,664.7 635,664.9 635.2,665 635.5,665.1 635.8,665.3 636.1,665.4 636.4,665.5 636.7,665.7 637,665.8 637.2,665.9 637.5,666.1 637.8,666.2 638.1,666.3 638.4,666.5 638.7,666.6 639,666.7 639.3,666.8 639.5,667 639.8,667.1 640.1,667.2 640.4,667.3 640.7,667.5 641,667.6 641.3,667.7 641.6,667.8 641.9,667.9 642.1,668.1 642.4,668.2 642.7,668.3 643,668.4 643.3,668.5 643.6,668.7 643.9,668.8 644.1,668.9 644.4,669 644.7,669.1 645,669.2 645.3,669.3 645.6,669.4 645.9,669.6 646.2,669.7 646.5,669.8 646.7,669.9 647,670 647.3,670.1 647.6,670.2 647.9,670.3 648.2,670.4 648.5,670.5 648.8,670.6 649,670.7 649.3,670.8 649.6,670.9 649.9,671 650.2,671.1 650.5,671.2 650.8,671.3 651,671.4 651.3,671.5 651.6,671.6 651.9,671.7 652.2,671.8 652.5,671.9 652.8,672 653.1,672.1 653.4,672.2 653.6,672.3 653.9,672.4 654.2,672.5 654.5,672.6 654.8,672.7 655.1,672.8 655.4,672.9 655.6,673 655.9,673.1 656.2,673.2 656.5,673.3 656.8,673.3 657.1,673.4 657.4,673.5 657.7,673.6 657.9,673.7 658.2,673.8 658.5,673.9 658.8,674 659.1,674.1 659.4,674.1 659.7,674.2 660,674.3 660.2,674.4 660.5,674.5 660.8,674.6 661.1,674.7 661.4,674.7 661.7,674.8 662,674.9 662.3,675 662.5,675.1 662.8,675.2 663.1,675.2 663.4,675.3 663.7,675.4 664,675.5 664.3,675.6 664.6,675.7 664.8,675.7 665.1,675.8 665.4,675.9 665.7,676 666,676.1 666.3,676.1 666.6,676.2 666.9,676.3 667.1,676.4 667.4,676.4 667.7,676.5 668,676.6 668.3,676.7 668.6,676.7 668.9,676.8 669.2,676.9 669.4,677 669.7,677 670,677.1 670.3,677.2 670.6,677.3 670.9,677.3 671.2,677.4 671.5,677.5 671.8,677.6 672,677.6 672.3,677.7 672.6,677.8 672.9,677.9 673.2,677.9 673.5,678 673.8,678.1 674,678.1 674.3,678.2 674.6,678.3 674.9,678.3 675.2,678.4 675.5,678.5 675.8,678.6 676.1,678.6 676.3,678.7 676.6,678.8 676.9,678.8 677.2,678.9 677.5,679 677.8,679 678.1,679.1 678.4,679.2 678.6,679.2 678.9,679.3 679.2,679.4 679.5,679.4 679.8,679.5 680.1,679.6 680.4,679.6 680.7,679.7 681,679.8 681.2,679.8 681.5,679.9 681.8,679.9 682.1,680 682.4,680.1 682.7,680.1 683,680.2 683.2,680.3 683.5,680.3 683.8,680.4 684.1,680.4 684.4,680.5 684.7,680.6 685,680.6 685.3,680.7 685.5,680.8 685.8,680.8 686.1,680.9 686.4,680.9 686.7,681 687,681.1 687.3,681.1 687.6,681.2 687.8,681.2 688.1,681.3 688.4,681.3 688.7,681.4 689,681.5 689.3,681.5 689.6,681.6 689.9,681.6 690.1,681.7 690.4,681.8 690.7,681.8 691,681.9 691.3,681.9 691.6,682 691.9,682 692.2,682.1 692.4,682.2 692.7,682.2 693,682.3 693.3,682.3 693.6,682.4 693.9,682.4 694.2,682.5 694.5,682.5 694.8,682.6 695,682.6 695.3,682.7 695.6,682.8 695.9,682.8 696.2,682.9 696.5,682.9 696.8,683 697,683 697.3,683.1 697.6,683.1 697.9,683.2 698.2,683.2 698.5,683.3 698.8,683.3 699.1,683.4 699.3,683.4 699.6,683.5 699.9,683.6 700.2,683.6 700.5,683.7 700.8,683.7 701.1,683.8 701.4,683.8 701.6,683.9 701.9,683.9 702.2,684 702.5,684 702.8,684.1 703.1,684.1 703.4,684.2 703.7,684.2 703.9,684.3 704.2,684.3 704.5,684.4 704.8,684.4 705.1,684.5 705.4,684.5 705.7,684.6 706,684.6 706.2,684.7 706.5,684.7 706.8,684.7 707.1,684.8 707.4,684.8 707.7,684.9 708,684.9 708.3,685 708.5,685 708.8,685.1 709.1,685.1 709.4,685.2 709.7,685.2 710,685.3 710.3,685.3 710.6,685.4 710.8,685.4 711.1,685.5 711.4,685.5 711.7,685.5 712,685.6 712.3,685.6 712.6,685.7 712.9,685.7 713.1,685.8 713.4,685.8 713.7,685.9 714,685.9 714.3,686 714.6,686 714.9,686 715.2,686.1 715.4,686.1 715.7,686.2 716,686.2 716.3,686.3 716.6,686.3 716.9,686.3 717.2,686.4 717.5,686.4 717.8,686.5 718,686.5 718.3,686.6 718.6,686.6 718.9,686.7 719.2,686.7 719.5,686.7 719.8,686.8 720,686.8 720.3,686.9 720.6,686.9 720.9,686.9 721.2,687 721.5,687 721.8,687.1 722.1,687.1 722.3,687.2 722.6,687.2 722.9,687.2 723.2,687.3 723.5,687.3 723.8,687.4 724.1,687.4 724.4,687.4 724.6,687.5 724.9,687.5 725.2,687.6 725.5,687.6 725.8,687.6 726.1,687.7 726.4,687.7 726.7,687.8 726.9,687.8 727.2,687.8 727.5,687.9 727.8,687.9 728.1,688 728.4,688 728.7,688 729,688.1 729.2,688.1 729.5,688.2 729.8,688.2 730.1,688.2 730.4,688.3 730.7,688.3 731,688.4 731.3,688.4 731.5,688.4 731.8,688.5 732.1,688.5 732.4,688.5 732.7,688.6 733,688.6 733.3,688.7 733.6,688.7 733.8,688.7 734.1,688.8 734.4,688.8 734.7,688.8 735,688.9 735.3,688.9 735.6,689 735.9,689 736.1,689 736.4,689.1 736.7,689.1 737,689.1 737.3,689.2 737.6,689.2 737.9,689.2 738.2,689.3 738.4,689.3 738.7,689.4 739,689.4 739.3,689.4 739.6,689.5 739.9,689.5 740.2,689.5 740.5,689.6 740.8,689.6 741,689.6 741.3,689.7 741.6,689.7 741.9,689.7 742.2,689.8 742.5,689.8 742.8,689.9 743,689.9 743.3,689.9 743.6,690 743.9,690 744.2,690 744.5,690.1 744.8,690.1 745.1,690.1 745.3,690.2 745.6,690.2 745.9,690.2 746.2,690.3 746.5,690.3 746.8,690.3 747.1,690.4 747.4,690.4 747.6,690.4 747.9,690.5 748.2,690.5 748.5,690.5 748.8,690.6 749.1,690.6 749.4,690.6 749.7,690.7 749.9,690.7 750.2,690.7 750.5,690.8 750.8,690.8 751.1,690.8 751.4,690.9 751.7,690.9 752,690.9 752.2,691 752.5,691 752.8,691 753.1,691.1 753.4,691.1 753.7,691.1 754,691.2 754.3,691.2 754.5,691.2 754.8,691.2 755.1,691.3 755.4,691.3 755.7,691.3 756,691.4 756.3,691.4 756.6,691.4 756.8,691.5 757.1,691.5 757.4,691.5 757.7,691.6 758,691.6 758.3,691.6 758.6,691.7 758.9,691.7 759.1,691.7 759.4,691.7 759.7,691.8 760,691.8 760.3,691.8 760.6,691.9 760.9,691.9 761.2,691.9 761.5,692 761.7,692 762,692 762.3,692 762.6,692.1 762.9,692.1 763.2,692.1 763.5,692.2 763.8,692.2 764,692.2 764.3,692.3 764.6,692.3 764.9,692.3 765.2,692.3 765.5,692.4 765.8,692.4 766,692.4 766.3,692.5 766.6,692.5 766.9,692.5 767.2,692.5 767.5,692.6 767.8,692.6 768.1,692.6 768.3,692.7 768.6,692.7 768.9,692.7 769.2,692.8 769.5,692.8 769.8,692.8 770.1,692.8 770.4,692.9 770.6,692.9 770.9,692.9 771.2,692.9 771.5,693 771.8,693 772.1,693 772.4,693.1 772.7,693.1 773,693.1 773.2,693.1 773.5,693.2 773.8,693.2 774.1,693.2 774.4,693.3 774.7,693.3 775,693.3 775.2,693.3 775.5,693.4 775.8,693.4 776.1,693.4 776.4,693.4 776.7,693.5 777,693.5 777.3,693.5 777.5,693.6 777.8,693.6 778.1,693.6 778.4,693.6 778.7,693.7 779,693.7 779.3,693.7 779.6,693.7 779.8,693.8 780.1,693.8 780.4,693.8 780.7,693.8 781,693.9 781.3,693.9 781.6,693.9 781.9,694 782.1,694 782.4,694 782.7,694 783,694.1 783.3,694.1" fill="none" stroke="#4a98f4" stroke-width="4.6" stroke-linejoin="round"/>
<path d="M589 491.7V736.4" stroke="#000" stroke-width="3.4" stroke-dasharray="7.6 7.3" fill="none"/>
</g>
<path d="M610.8 736.4v-12.1M610.8 503.7v12.1M725.8 736.4v-12.1M725.8 503.7v12.1M553.3 736.4v-6.3M553.3 503.7v6.3M668.3 736.4v-6.3M668.3 503.7v6.3M495.8 620h12.1M783.3 620h-12.1M495.8 678.2h6.3M783.3 678.2h-6.3M495.8 561.9h6.3M783.3 561.9h-6.3" stroke="#000" stroke-width="3.6" fill="none"/>
<rect x="495.8" y="503.7" width="287.5" height="232.7" fill="none" stroke="#000" stroke-width="3.5"/>
<text transform="translate(487.6 748.6) scale(0.93 1)" font-family='"Liberation Serif", "DejaVu Serif", serif' font-size="46" text-anchor="end">0</text>
<text transform="translate(487.6 632.2) scale(0.93 1)" font-family='"Liberation Serif", "DejaVu Serif", serif' font-size="46" text-anchor="end">4</text>
<text transform="translate(487.6 515.9) scale(0.93 1)" font-family='"Liberation Serif", "DejaVu Serif", serif' font-size="46" text-anchor="end">8</text>
<g clip-path="url(#cf1)">
<polyline points="495.8,982.2 497.9,967.2 499.9,957.2 502,949.6 504,943.4 506,938.1 508,933.6 510,929.6 512,926.1 514,923 515.9,920.2 517.9,917.7 519.8,915.5 521.7,913.5 523.6,911.8 525.5,910.3 527.4,908.9 529.2,907.8 531.1,906.8 532.9,906 534.8,905.3 536.6,904.8 538.4,904.4 540.1,904.2 541.9,904.2 543.6,904.2 545.4,904.4 547.1,904.7 548.8,905.2 550.5,905.8 552.2,906.5 553.8,907.4 555.5,908.4 557.1,909.6 558.7,910.9 560.3,912.3 561.8,913.9 563.4,915.6 564.9,917.5 566.4,919.5 567.9,921.7 569.4,924.1 570.8,926.7 572.2,929.4 573.6,932.4 575,935.6 576.4,939.1 577.7,942.8 579,946.8 580.2,951.1 581.5,955.8 582.7,961 583.8,966.6 584.9,972.9 586,980 587,988.4 587.9,998.9 588.7,1017.5 589.3,1014.6 590.1,996.4 591.1,986.4 592.1,978.4 593.2,971.4 594.3,965.2 595.5,959.7 596.8,954.6 598,949.9 599.3,945.6 600.7,941.6 602.1,937.8 603.5,934.2 604.9,930.9 606.4,927.8 607.9,924.8 609.5,921.9 611.1,919.2 612.7,916.7 614.3,914.2 615.9,911.9 617.6,909.7 619.4,907.5 621.1,905.5 622.9,903.5 624.7,901.6 626.5,899.8 628.3,898.1 630.2,896.4 632.1,894.8 634.1,893.3 636,891.8 638,890.3 640,888.9 642,887.6 644.1,886.3 646.2,885 648.3,883.8 650.4,882.7 652.6,881.5 654.8,880.4 657,879.4 659.2,878.3 661.5,877.3 663.7,876.3 666,875.4 668.4,874.5 670.7,873.6 673.1,872.7 675.5,871.9 677.9,871.1 680.4,870.3 682.9,869.5 685.4,868.8 687.9,868 690.4,867.3 693,866.6 695.6,866 698.2,865.3 700.9,864.7 703.5,864 706.2,863.4 708.9,862.8 711.7,862.3 714.4,861.7 717.2,861.2 720,860.6 722.9,860.1 725.7,859.6 728.6,859.1 731.5,858.6 734.4,858.1 737.4,857.7 740.4,857.2 743.4,856.8 746.4,856.3 749.4,855.9 752.5,855.5 755.6,855.1 758.7,854.7 761.8,854.3 765,853.9 768.2,853.6 771.4,853.2 774.6,852.8 777.9,852.5 781.2,852.1 784.5,851.8 787.8,851.5" fill="none" stroke="#ff4040" stroke-width="3.6" stroke-linejoin="round"/>
<path d="M589 783V1028.4" stroke="#000" stroke-width="3.4" stroke-dasharray="7.6 7.3" fill="none"/>
</g>
<path d="M610.8 1028.4v-12.1M610.8 795v12.1M725.8 1028.4v-12.1M725.8 795v12.1M553.3 1028.4v-6.3M553.3 795v6.3M668.3 1028.4v-6.3M668.3 795v6.3M495.8 911.7h12.1M783.3 911.7h-12.1M495.8 970.1h6.3M783.3 970.1h-6.3M495.8 853.4h6.3M783.3 853.4h-6.3" stroke="#000" stroke-width="3.6" fill="none"/>
<rect x="495.8" y="795" width="287.5" height="233.4" fill="none" stroke="#000" stroke-width="3.5"/>
<text transform="translate(487.6 1040.6) scale(0.93 1)" font-family='"Liberation Serif", "DejaVu Serif", serif' font-size="46" text-anchor="end">0</text>
<text transform="translate(487.6 923.9) scale(0.93 1)" font-family='"Liberation Serif", "DejaVu Serif", serif' font-size="46" text-anchor="end">60</text>
<text transform="translate(487.6 807.2) scale(0.93 1)" font-family='"Liberation Serif", "DejaVu Serif", serif' font-size="46" text-anchor="end">120</text>
<text transform="translate(496 1069.3) scale(0.93 1)" font-family='"Liberation Serif", "DejaVu Serif", serif' font-size="46" text-anchor="middle">0</text>
<text transform="translate(611 1069.3) scale(0.93 1)" font-family='"Liberation Serif", "DejaVu Serif", serif' font-size="46" text-anchor="middle">4</text>
<text transform="translate(726 1069.3) scale(0.93 1)" font-family='"Liberation Serif", "DejaVu Serif", serif' font-size="46" text-anchor="middle">8</text>
<text x="514.1" y="1119.4" font-family='"Liberation Serif", "DejaVu Serif", serif' font-size="47" textLength="251.2" lengthAdjust="spacingAndGlyphs">10<tspan dy="-16" font-size="32">−4</tspan><tspan dy="16" font-size="1">​</tspan><tspan font-style="italic">E</tspan>′<tspan font-size="64" dy="10">/</tspan><tspan dy="-10" font-size="1">​</tspan> (<tspan font-style="italic">ħK</tspan>)</text>
<g clip-path="url(#cc2)">
<path d="M855.8 736.4L855.8 674L870.4 674L870.4 674L885 674L885 674L899.5 674L899.5 674L914.1 674L914.1 674L928.7 674L928.7 674L943.3 674L943.3 661.5L957.8 661.5L957.8 674L972.4 674L972.4 661.5L987 661.5L987 661.5L1001.6 661.5L1001.6 649L1016.1 649L1016.1 661.5L1030.7 661.5L1030.7 636.5L1045.3 636.5L1045.3 636.5L1059.9 636.5L1059.9 599L1074.4 599L1074.4 636.5L1089 636.5L1089 649L1103.6 649L1103.6 661.5L1118.2 661.5L1118.2 661.5L1132.7 661.5L1132.7 674L1147.3 674L1147.3 736.4Z" fill="#ff4747"/>
<polyline points="855.8,676.3 856.1,676.3 856.4,676.3 856.7,676.3 856.9,676.3 857.2,676.2 857.5,676.2 857.8,676.2 858.1,676.2 858.4,676.2 858.7,676.1 859,676.1 859.2,676.1 859.5,676.1 859.8,676 860.1,676 860.4,676 860.7,676 861,676 861.3,675.9 861.5,675.9 861.8,675.9 862.1,675.9 862.4,675.9 862.7,675.8 863,675.8 863.3,675.8 863.6,675.8 863.8,675.8 864.1,675.7 864.4,675.7 864.7,675.7 865,675.7 865.3,675.6 865.6,675.6 865.9,675.6 866.1,675.6 866.4,675.6 866.7,675.5 867,675.5 867.3,675.5 867.6,675.5 867.9,675.4 868.1,675.4 868.4,675.4 868.7,675.4 869,675.4 869.3,675.3 869.6,675.3 869.9,675.3 870.2,675.3 870.4,675.2 870.7,675.2 871,675.2 871.3,675.2 871.6,675.2 871.9,675.1 872.2,675.1 872.5,675.1 872.7,675.1 873,675 873.3,675 873.6,675 873.9,675 874.2,675 874.5,674.9 874.8,674.9 875,674.9 875.3,674.9 875.6,674.8 875.9,674.8 876.2,674.8 876.5,674.8 876.8,674.7 877.1,674.7 877.3,674.7 877.6,674.7 877.9,674.6 878.2,674.6 878.5,674.6 878.8,674.6 879.1,674.6 879.4,674.5 879.6,674.5 879.9,674.5 880.2,674.5 880.5,674.4 880.8,674.4 881.1,674.4 881.4,674.4 881.6,674.3 881.9,674.3 882.2,674.3 882.5,674.3 882.8,674.2 883.1,674.2 883.4,674.2 883.7,674.2 883.9,674.2 884.2,674.1 884.5,674.1 884.8,674.1 885.1,674.1 885.4,674 885.7,674 886,674 886.2,674 886.5,673.9 886.8,673.9 887.1,673.9 887.4,673.9 887.7,673.8 888,673.8 888.3,673.8 888.5,673.8 888.8,673.7 889.1,673.7 889.4,673.7 889.7,673.7 890,673.6 890.3,673.6 890.6,673.6 890.8,673.6 891.1,673.5 891.4,673.5 891.7,673.5 892,673.5 892.3,673.4 892.6,673.4 892.8,673.4 893.1,673.4 893.4,673.3 893.7,673.3 894,673.3 894.3,673.3 894.6,673.2 894.9,673.2 895.1,673.2 895.4,673.1 895.7,673.1 896,673.1 896.3,673.1 896.6,673 896.9,673 897.2,673 897.4,673 897.7,672.9 898,672.9 898.3,672.9 898.6,672.9 898.9,672.8 899.2,672.8 899.5,672.8 899.7,672.8 900,672.7 900.3,672.7 900.6,672.7 900.9,672.6 901.2,672.6 901.5,672.6 901.8,672.6 902,672.5 902.3,672.5 902.6,672.5 902.9,672.5 903.2,672.4 903.5,672.4 903.8,672.4 904,672.3 904.3,672.3 904.6,672.3 904.9,672.3 905.2,672.2 905.5,672.2 905.8,672.2 906.1,672.2 906.3,672.1 906.6,672.1 906.9,672.1 907.2,672 907.5,672 907.8,672 908.1,672 908.4,671.9 908.6,671.9 908.9,671.9 909.2,671.8 909.5,671.8 909.8,671.8 910.1,671.8 910.4,671.7 910.7,671.7 910.9,671.7 911.2,671.6 911.5,671.6 911.8,671.6 912.1,671.5 912.4,671.5 912.7,671.5 913,671.5 913.2,671.4 913.5,671.4 913.8,671.4 914.1,671.3 914.4,671.3 914.7,671.3 915,671.3 915.3,671.2 915.5,671.2 915.8,671.2 916.1,671.1 916.4,671.1 916.7,671.1 917,671 917.3,671 917.5,671 917.8,671 918.1,670.9 918.4,670.9 918.7,670.9 919,670.8 919.3,670.8 919.6,670.8 919.8,670.7 920.1,670.7 920.4,670.7 920.7,670.6 921,670.6 921.3,670.6 921.6,670.5 921.9,670.5 922.1,670.5 922.4,670.5 922.7,670.4 923,670.4 923.3,670.4 923.6,670.3 923.9,670.3 924.2,670.3 924.4,670.2 924.7,670.2 925,670.2 925.3,670.1 925.6,670.1 925.9,670.1 926.2,670 926.5,670 926.7,670 927,669.9 927.3,669.9 927.6,669.9 927.9,669.8 928.2,669.8 928.5,669.8 928.7,669.7 929,669.7 929.3,669.7 929.6,669.6 929.9,669.6 930.2,669.6 930.5,669.5 930.8,669.5 931,669.5 931.3,669.4 931.6,669.4 931.9,669.4 932.2,669.3 932.5,669.3 932.8,669.3 933.1,669.2 933.3,669.2 933.6,669.2 933.9,669.1 934.2,669.1 934.5,669.1 934.8,669 935.1,669 935.4,669 935.6,668.9 935.9,668.9 936.2,668.9 936.5,668.8 936.8,668.8 937.1,668.7 937.4,668.7 937.7,668.7 937.9,668.6 938.2,668.6 938.5,668.6 938.8,668.5 939.1,668.5 939.4,668.5 939.7,668.4 939.9,668.4 940.2,668.4 940.5,668.3 940.8,668.3 941.1,668.2 941.4,668.2 941.7,668.2 942,668.1 942.2,668.1 942.5,668.1 942.8,668 943.1,668 943.4,667.9 943.7,667.9 944,667.9 944.3,667.8 944.5,667.8 944.8,667.7 945.1,667.7 945.4,667.7 945.7,667.6 946,667.6 946.3,667.6 946.6,667.5 946.8,667.5 947.1,667.4 947.4,667.4 947.7,667.4 948,667.3 948.3,667.3 948.6,667.2 948.9,667.2 949.1,667.2 949.4,667.1 949.7,667.1 950,667 950.3,667 950.6,667 950.9,666.9 951.2,666.9 951.4,666.8 951.7,666.8 952,666.8 952.3,666.7 952.6,666.7 952.9,666.6 953.2,666.6 953.4,666.6 953.7,666.5 954,666.5 954.3,666.4 954.6,666.4 954.9,666.4 955.2,666.3 955.5,666.3 955.7,666.2 956,666.2 956.3,666.1 956.6,666.1 956.9,666.1 957.2,666 957.5,666 957.8,665.9 958,665.9 958.3,665.8 958.6,665.8 958.9,665.8 959.2,665.7 959.5,665.7 959.8,665.6 960.1,665.6 960.3,665.5 960.6,665.5 960.9,665.4 961.2,665.4 961.5,665.4 961.8,665.3 962.1,665.3 962.4,665.2 962.6,665.2 962.9,665.1 963.2,665.1 963.5,665 963.8,665 964.1,664.9 964.4,664.9 964.6,664.8 964.9,664.8 965.2,664.8 965.5,664.7 965.8,664.7 966.1,664.6 966.4,664.6 966.7,664.5 966.9,664.5 967.2,664.4 967.5,664.4 967.8,664.3 968.1,664.3 968.4,664.2 968.7,664.2 969,664.1 969.2,664.1 969.5,664 969.8,664 970.1,663.9 970.4,663.9 970.7,663.8 971,663.8 971.3,663.7 971.5,663.7 971.8,663.6 972.1,663.6 972.4,663.5 972.7,663.5 973,663.4 973.3,663.4 973.6,663.3 973.8,663.3 974.1,663.2 974.4,663.2 974.7,663.1 975,663.1 975.3,663 975.6,663 975.8,662.9 976.1,662.9 976.4,662.8 976.7,662.8 977,662.7 977.3,662.7 977.6,662.6 977.9,662.5 978.1,662.5 978.4,662.4 978.7,662.4 979,662.3 979.3,662.3 979.6,662.2 979.9,662.2 980.2,662.1 980.4,662 980.7,662 981,661.9 981.3,661.9 981.6,661.8 981.9,661.8 982.2,661.7 982.5,661.6 982.7,661.6 983,661.5 983.3,661.5 983.6,661.4 983.9,661.4 984.2,661.3 984.5,661.2 984.8,661.2 985,661.1 985.3,661.1 985.6,661 985.9,660.9 986.2,660.9 986.5,660.8 986.8,660.8 987.1,660.7 987.3,660.6 987.6,660.6 987.9,660.5 988.2,660.5 988.5,660.4 988.8,660.3 989.1,660.3 989.3,660.2 989.6,660.1 989.9,660.1 990.2,660 990.5,659.9 990.8,659.9 991.1,659.8 991.4,659.8 991.6,659.7 991.9,659.6 992.2,659.6 992.5,659.5 992.8,659.4 993.1,659.4 993.4,659.3 993.7,659.2 993.9,659.2 994.2,659.1 994.5,659 994.8,659 995.1,658.9 995.4,658.8 995.7,658.8 996,658.7 996.2,658.6 996.5,658.5 996.8,658.5 997.1,658.4 997.4,658.3 997.7,658.3 998,658.2 998.3,658.1 998.5,658 998.8,658 999.1,657.9 999.4,657.8 999.7,657.7 1000,657.7 1000.3,657.6 1000.5,657.5 1000.8,657.5 1001.1,657.4 1001.4,657.3 1001.7,657.2 1002,657.1 1002.3,657.1 1002.6,657 1002.8,656.9 1003.1,656.8 1003.4,656.8 1003.7,656.7 1004,656.6 1004.3,656.5 1004.6,656.4 1004.9,656.4 1005.1,656.3 1005.4,656.2 1005.7,656.1 1006,656 1006.3,656 1006.6,655.9 1006.9,655.8 1007.2,655.7 1007.4,655.6 1007.7,655.5 1008,655.4 1008.3,655.4 1008.6,655.3 1008.9,655.2 1009.2,655.1 1009.5,655 1009.7,654.9 1010,654.8 1010.3,654.7 1010.6,654.7 1010.9,654.6 1011.2,654.5 1011.5,654.4 1011.7,654.3 1012,654.2 1012.3,654.1 1012.6,654 1012.9,653.9 1013.2,653.8 1013.5,653.7 1013.8,653.6 1014,653.5 1014.3,653.4 1014.6,653.3 1014.9,653.2 1015.2,653.2 1015.5,653 1015.8,653 1016.1,652.9 1016.3,652.7 1016.6,652.6 1016.9,652.5 1017.2,652.4 1017.5,652.3 1017.8,652.2 1018.1,652.1 1018.4,652 1018.6,651.9 1018.9,651.8 1019.2,651.7 1019.5,651.6 1019.8,651.5 1020.1,651.4 1020.4,651.3 1020.7,651.2 1020.9,651 1021.2,650.9 1021.5,650.8 1021.8,650.7 1022.1,650.6 1022.4,650.5 1022.7,650.4 1023,650.2 1023.2,650.1 1023.5,650 1023.8,649.9 1024.1,649.8 1024.4,649.6 1024.7,649.5 1025,649.4 1025.2,649.3 1025.5,649.1 1025.8,649 1026.1,648.9 1026.4,648.8 1026.7,648.6 1027,648.5 1027.3,648.4 1027.5,648.2 1027.8,648.1 1028.1,648 1028.4,647.8 1028.7,647.7 1029,647.5 1029.3,647.4 1029.6,647.3 1029.8,647.1 1030.1,647 1030.4,646.8 1030.7,646.7 1031,646.5 1031.3,646.4 1031.6,646.2 1031.9,646.1 1032.1,645.9 1032.4,645.8 1032.7,645.6 1033,645.5 1033.3,645.3 1033.6,645.2 1033.9,645 1034.2,644.8 1034.4,644.7 1034.7,644.5 1035,644.3 1035.3,644.2 1035.6,644 1035.9,643.8 1036.2,643.6 1036.4,643.5 1036.7,643.3 1037,643.1 1037.3,642.9 1037.6,642.8 1037.9,642.6 1038.2,642.4 1038.5,642.2 1038.7,642 1039,641.8 1039.3,641.6 1039.6,641.4 1039.9,641.2 1040.2,641 1040.5,640.8 1040.8,640.6 1041,640.4 1041.3,640.2 1041.6,639.9 1041.9,639.7 1042.2,639.5 1042.5,639.3 1042.8,639 1043.1,638.8 1043.3,638.6 1043.6,638.3 1043.9,638.1 1044.2,637.8 1044.5,637.6 1044.8,637.3 1045.1,637.1 1045.4,636.8 1045.6,636.6 1045.9,636.3 1046.2,636 1046.5,635.8 1046.8,635.5 1047.1,635.2 1047.4,634.9 1047.6,634.6 1047.9,634.3 1048.2,634 1048.5,633.7 1048.8,633.4 1049.1,633.1 1049.4,632.7 1049.7,632.4 1049.9,632.1 1050.2,631.7 1050.5,631.4 1050.8,631 1051.1,630.6 1051.4,630.2 1051.7,629.9 1052,629.5 1052.2,629.1 1052.5,628.7 1052.8,628.2 1053.1,627.8 1053.4,627.4 1053.7,626.9 1054,626.4 1054.3,626 1054.5,625.5 1054.8,625 1055.1,624.4 1055.4,623.9 1055.7,623.4 1056,622.8 1056.3,622.2 1056.6,621.6 1056.8,621 1057.1,620.3 1057.4,619.7 1057.7,619 1058,618.2 1058.3,617.5 1058.6,616.7 1058.9,615.8 1059.1,615 1059.4,614.1 1059.7,613.1 1060,612.1 1060.3,611 1060.6,609.9 1060.9,608.7 1061.1,607.4 1061.4,606 1061.7,604.5 1062,602.9 1062.3,601.1 1062.6,599.1 1062.9,596.9 1062.9,596.6 1062.9,596.4 1063,596.1 1063,595.9 1063,595.6 1063,595.4 1063.1,595.1 1063.1,594.9 1063.1,594.6 1063.2,594.3 1063.2,594.1 1063.2,593.8 1063.2,593.5 1063.3,593.2 1063.3,592.9 1063.3,592.6 1063.4,592.3 1063.4,592 1063.4,591.7 1063.4,591.4 1063.5,591.1 1063.5,590.8 1063.5,590.4 1063.6,590.1 1063.6,589.8 1063.6,589.4 1063.6,589.1 1063.7,588.7 1063.7,588.3 1063.7,588 1063.8,587.6 1063.8,587.2 1063.8,586.8 1063.8,586.4 1063.9,586 1063.9,585.5 1063.9,585.1 1064,584.6 1064,584.2 1064,583.7 1064,583.2 1064.1,582.7 1064.1,582.2 1064.1,581.7 1064.2,581.2 1064.2,580.6 1064.2,580.1 1064.2,579.5 1064.3,578.9 1064.3,578.3 1064.3,577.6 1064.4,576.9 1064.4,576.2 1064.4,575.5 1064.5,574.8 1064.5,574 1064.5,573.2 1064.5,572.4 1064.6,571.5 1064.6,570.5 1064.6,569.6 1064.7,568.5 1064.7,567.4 1064.7,566.3 1064.7,565.1 1064.8,563.7 1064.8,562.3 1064.8,560.8 1064.9,559.1 1064.9,557.3 1064.9,556.1 1064.9,556.1 1065,556.1 1065,556.1 1065,556.1 1065.1,556.1 1065.1,556.1 1065.1,556.1 1065.1,556.1 1065.2,556.1 1065.2,556.1 1065.2,556.1 1065.3,556.1 1065.3,556.1 1065.3,556.1 1065.3,556.1 1065.4,556.1 1065.4,556.1 1065.4,556.1 1065.5,557.4 1065.5,559.2 1065.5,560.9 1065.5,562.4 1065.6,563.9 1065.6,565.2 1065.6,566.4 1065.7,567.6 1065.7,568.7 1065.7,569.7 1065.7,570.7 1065.8,571.6 1065.8,572.5 1065.8,573.4 1065.9,574.2 1065.9,575 1065.9,575.7 1065.9,576.5 1066,577.2 1066,577.8 1066,578.5 1066.1,579.1 1066.1,579.7 1066.1,580.3 1066.1,580.9 1066.2,581.5 1066.2,582 1066.2,582.5 1066.3,583 1066.3,583.5 1066.3,584 1066.3,584.5 1066.4,585 1066.4,585.4 1066.4,585.9 1066.5,586.3 1066.5,586.7 1066.5,587.1 1066.5,587.5 1066.6,587.9 1066.6,588.3 1066.6,588.7 1066.7,589.1 1066.7,589.5 1066.7,589.8 1066.7,590.2 1066.8,590.5 1066.8,590.9 1066.8,591.2 1066.9,591.5 1066.9,591.8 1066.9,592.2 1066.9,592.5 1067,592.8 1067,593.1 1067,593.4 1067.1,593.7 1067.1,594 1067.1,594.3 1067.2,594.5 1067.2,594.8 1067.2,595.1 1067.2,595.4 1067.3,595.6 1067.3,595.9 1067.3,596.2 1067.4,596.4 1067.4,596.7 1067.4,596.9 1067.4,597.2 1067.5,597.4 1067.8,599.7 1068,601.7 1068.3,603.6 1068.6,605.3 1068.9,606.8 1069.2,608.3 1069.5,609.6 1069.8,610.9 1070.1,612 1070.3,613.2 1070.6,614.2 1070.9,615.2 1071.2,616.2 1071.5,617.1 1071.8,617.9 1072.1,618.8 1072.3,619.6 1072.6,620.4 1072.9,621.1 1073.2,621.8 1073.5,622.5 1073.8,623.2 1074.1,623.8 1074.4,624.4 1074.6,625 1074.9,625.6 1075.2,626.2 1075.5,626.8 1075.8,627.3 1076.1,627.8 1076.4,628.3 1076.7,628.8 1076.9,629.3 1077.2,629.8 1077.5,630.3 1077.8,630.7 1078.1,631.2 1078.4,631.6 1078.7,632 1079,632.4 1079.2,632.9 1079.5,633.3 1079.8,633.7 1080.1,634 1080.4,634.4 1080.7,634.8 1081,635.2 1081.3,635.5 1081.5,635.9 1081.8,636.2 1082.1,636.6 1082.4,636.9 1082.7,637.2 1083,637.5 1083.3,637.9 1083.5,638.2 1083.8,638.5 1084.1,638.8 1084.4,639.1 1084.7,639.4 1085,639.7 1085.3,640 1085.6,640.2 1085.8,640.5 1086.1,640.8 1086.4,641.1 1086.7,641.3 1087,641.6 1087.3,641.9 1087.6,642.1 1087.9,642.4 1088.1,642.6 1088.4,642.9 1088.7,643.1 1089,643.4 1089.3,643.6 1089.6,643.8 1089.9,644.1 1090.2,644.3 1090.4,644.5 1090.7,644.8 1091,645 1091.3,645.2 1091.6,645.4 1091.9,645.7 1092.2,645.9 1092.5,646.1 1092.7,646.3 1093,646.5 1093.3,646.7 1093.6,646.9 1093.9,647.1 1094.2,647.3 1094.5,647.5 1094.8,647.7 1095,647.9 1095.3,648.1 1095.6,648.3 1095.9,648.5 1096.2,648.7 1096.5,648.8 1096.8,649 1097,649.2 1097.3,649.4 1097.6,649.6 1097.9,649.7 1098.2,649.9 1098.5,650.1 1098.8,650.3 1099.1,650.4 1099.3,650.6 1099.6,650.8 1099.9,650.9 1100.2,651.1 1100.5,651.3 1100.8,651.4 1101.1,651.6 1101.4,651.8 1101.6,651.9 1101.9,652.1 1102.2,652.2 1102.5,652.4 1102.8,652.5 1103.1,652.7 1103.4,652.9 1103.7,653 1103.9,653.2 1104.2,653.3 1104.5,653.5 1104.8,653.6 1105.1,653.7 1105.4,653.9 1105.7,654 1106,654.2 1106.2,654.3 1106.5,654.5 1106.8,654.6 1107.1,654.7 1107.4,654.9 1107.7,655 1108,655.1 1108.2,655.3 1108.5,655.4 1108.8,655.5 1109.1,655.7 1109.4,655.8 1109.7,655.9 1110,656.1 1110.3,656.2 1110.5,656.3 1110.8,656.5 1111.1,656.6 1111.4,656.7 1111.7,656.8 1112,657 1112.3,657.1 1112.6,657.2 1112.8,657.3 1113.1,657.4 1113.4,657.6 1113.7,657.7 1114,657.8 1114.3,657.9 1114.6,658 1114.9,658.2 1115.1,658.3 1115.4,658.4 1115.7,658.5 1116,658.6 1116.3,658.7 1116.6,658.8 1116.9,659 1117.2,659.1 1117.4,659.2 1117.7,659.3 1118,659.4 1118.3,659.5 1118.6,659.6 1118.9,659.7 1119.2,659.8 1119.4,659.9 1119.7,660 1120,660.2 1120.3,660.3 1120.6,660.4 1120.9,660.5 1121.2,660.6 1121.5,660.7 1121.7,660.8 1122,660.9 1122.3,661 1122.6,661.1 1122.9,661.2 1123.2,661.3 1123.5,661.4 1123.8,661.5 1124,661.6 1124.3,661.7 1124.6,661.8 1124.9,661.9 1125.2,662 1125.5,662.1 1125.8,662.2 1126.1,662.3 1126.3,662.3 1126.6,662.4 1126.9,662.5 1127.2,662.6 1127.5,662.7 1127.8,662.8 1128.1,662.9 1128.4,663 1128.6,663.1 1128.9,663.2 1129.2,663.3 1129.5,663.4 1129.8,663.4 1130.1,663.5 1130.4,663.6 1130.7,663.7 1130.9,663.8 1131.2,663.9 1131.5,664 1131.8,664.1 1132.1,664.1 1132.4,664.2 1132.7,664.3 1132.9,664.4 1133.2,664.5 1133.5,664.6 1133.8,664.7 1134.1,664.7 1134.4,664.8 1134.7,664.9 1135,665 1135.2,665.1 1135.5,665.2 1135.8,665.2 1136.1,665.3 1136.4,665.4 1136.7,665.5 1137,665.6 1137.3,665.6 1137.5,665.7 1137.8,665.8 1138.1,665.9 1138.4,666 1138.7,666 1139,666.1 1139.3,666.2 1139.6,666.3 1139.8,666.3 1140.1,666.4 1140.4,666.5 1140.7,666.6 1141,666.7 1141.3,666.7 1141.6,666.8 1141.9,666.9 1142.1,667 1142.4,667 1142.7,667.1 1143,667.2" fill="none" stroke="#4a98f4" stroke-width="4.6" stroke-linejoin="round"/>
<path d="M1065.2 491.7V736.4" stroke="#000" stroke-width="3.4" stroke-dasharray="7.6 7.3" fill="none"/>
</g>
<path d="M970.7 736.4v-12.1M970.7 503.7v12.1M1085.6 736.4v-12.1M1085.6 503.7v12.1M913.2 736.4v-6.3M913.2 503.7v6.3M1028.1 736.4v-6.3M1028.1 503.7v6.3M855.8 620h12.1M1143 620h-12.1M855.8 678.2h6.3M1143 678.2h-6.3M855.8 561.9h6.3M1143 561.9h-6.3" stroke="#000" stroke-width="3.6" fill="none"/>
<rect x="855.8" y="503.7" width="287.2" height="232.7" fill="none" stroke="#000" stroke-width="3.5"/>
<text transform="translate(847.6 748.6) scale(0.93 1)" font-family='"Liberation Serif", "DejaVu Serif", serif' font-size="46" text-anchor="end">0</text>
<text transform="translate(847.6 632.2) scale(0.93 1)" font-family='"Liberation Serif", "DejaVu Serif", serif' font-size="46" text-anchor="end">3</text>
<text transform="translate(847.6 515.9) scale(0.93 1)" font-family='"Liberation Serif", "DejaVu Serif", serif' font-size="46" text-anchor="end">6</text>
<g clip-path="url(#cf2)">
<polyline points="855.8,979.9 858.9,964 862,953.3 865.1,945.1 868.1,938.2 871.2,932.4 874.2,927.2 877.2,922.6 880.2,918.5 883.2,914.7 886.2,911.3 889.2,908.2 892.2,905.3 895.1,902.6 898.1,900.2 901,897.9 903.9,895.8 906.8,893.8 909.7,892 912.6,890.3 915.4,888.8 918.3,887.4 921.1,886 924,884.8 926.8,883.8 929.6,882.8 932.3,881.9 935.1,881.1 937.9,880.4 940.6,879.8 943.3,879.2 946.1,878.8 948.8,878.4 951.4,878.1 954.1,877.9 956.8,877.8 959.4,877.8 962,877.8 964.7,877.9 967.2,878.1 969.8,878.3 972.4,878.7 974.9,879.1 977.5,879.5 980,880.1 982.5,880.7 985,881.4 987.4,882.2 989.9,883.1 992.3,884 994.7,885 997.1,886.1 999.5,887.2 1001.9,888.5 1004.2,889.8 1006.5,891.2 1008.8,892.7 1011.1,894.3 1013.4,895.9 1015.6,897.7 1017.9,899.5 1020.1,901.5 1022.2,903.5 1024.4,905.7 1026.5,907.9 1028.7,910.3 1030.7,912.8 1032.8,915.4 1034.8,918.1 1036.9,921 1038.8,924 1040.8,927.2 1042.7,930.5 1044.6,934 1046.5,937.7 1048.3,941.6 1050.1,945.8 1051.9,950.2 1053.6,954.9 1055.3,960 1056.9,965.4 1058.5,971.4 1060,977.9 1061.5,985.3 1062.9,994 1064.1,1006.5 1065.1,1021.1 1066.1,1009.2 1067.3,995.7 1068.7,986.9 1070.1,979.5 1071.6,972.9 1073.2,966.9 1074.9,961.5 1076.6,956.4 1078.4,951.7 1080.2,947.2 1082,943.1 1083.9,939.1 1085.8,935.3 1087.8,931.8 1089.8,928.3 1091.8,925.1 1093.9,921.9 1096,918.9 1098.1,916 1100.3,913.3 1102.5,910.6 1104.7,908 1107,905.5 1109.3,903.1 1111.6,900.8 1114,898.5 1116.3,896.3 1118.7,894.2 1121.2,892.1 1123.7,890.2 1126.2,888.2 1128.7,886.3 1131.2,884.5 1133.8,882.7 1136.4,881 1139.1,879.3 1141.7,877.7 1144.4,876.1 1147.2,874.6" fill="none" stroke="#ff4040" stroke-width="3.6" stroke-linejoin="round"/>
<path d="M1065.2 783V1028.4" stroke="#000" stroke-width="3.4" stroke-dasharray="7.6 7.3" fill="none"/>
</g>
<path d="M970.7 1028.4v-12.1M970.7 795v12.1M1085.6 1028.4v-12.1M1085.6 795v12.1M913.2 1028.4v-6.3M913.2 795v6.3M1028.1 1028.4v-6.3M1028.1 795v6.3M855.8 911.7h12.1M1143 911.7h-12.1M855.8 970.1h6.3M1143 970.1h-6.3M855.8 853.4h6.3M1143 853.4h-6.3" stroke="#000" stroke-width="3.6" fill="none"/>
<rect x="855.8" y="795" width="287.2" height="233.4" fill="none" stroke="#000" stroke-width="3.5"/>
<text transform="translate(847.6 1040.6) scale(0.93 1)" font-family='"Liberation Serif", "DejaVu Serif", serif' font-size="46" text-anchor="end">0</text>
<text transform="translate(847.6 923.9) scale(0.93 1)" font-family='"Liberation Serif", "DejaVu Serif", serif' font-size="46" text-anchor="end">70</text>
<text transform="translate(847.6 807.2) scale(0.93 1)" font-family='"Liberation Serif", "DejaVu Serif", serif' font-size="46" text-anchor="end">140</text>
<text transform="translate(856 1069.3) scale(0.93 1)" font-family='"Liberation Serif", "DejaVu Serif", serif' font-size="46" text-anchor="middle">0</text>
<text transform="translate(970.9 1069.3) scale(0.93 1)" font-family='"Liberation Serif", "DejaVu Serif", serif' font-size="46" text-anchor="middle">4</text>
<text transform="translate(1085.8 1069.3) scale(0.93 1)" font-family='"Liberation Serif", "DejaVu Serif", serif' font-size="46" text-anchor="middle">8</text>
<text x="874.1" y="1119.4" font-family='"Liberation Serif", "DejaVu Serif", serif' font-size="47" textLength="251.2" lengthAdjust="spacingAndGlyphs">10<tspan dy="-16" font-size="32">−4</tspan><tspan dy="16" font-size="1">​</tspan><tspan font-style="italic">E</tspan>′<tspan font-size="64" dy="10">/</tspan><tspan dy="-10" font-size="1">​</tspan> (<tspan font-style="italic">ħK</tspan>)</text>
<text transform="translate(64.8 657.1) rotate(-90)" font-family='"Liberation Serif", "DejaVu Serif", serif' font-size="47" textLength="85.3" lengthAdjust="spacingAndGlyphs">10<tspan dy="-16" font-size="32">6</tspan><tspan dy="16" font-size="1">​</tspan><tspan font-style="italic">ν</tspan></text>
<text transform="translate(66.7 934.9) rotate(-90)" font-family='"Liberation Serif", "DejaVu Serif", serif' font-size="47" textLength="50.1" lengthAdjust="spacingAndGlyphs">P<tspan dy="8" font-size="33">R</tspan></text>
<text x="224.1" y="614" font-family='"Liberation Serif", "DejaVu Serif", serif' font-size="46" textLength="123.7" lengthAdjust="spacingAndGlyphs"><tspan font-style="italic">ξ</tspan> = 90</text>
<text x="612.5" y="613.5" font-family='"Liberation Serif", "DejaVu Serif", serif' font-size="46" textLength="146.1" lengthAdjust="spacingAndGlyphs"><tspan font-style="italic">ξ</tspan> = 180</text>
<text x="888" y="613.5" font-family='"Liberation Serif", "DejaVu Serif", serif' font-size="46" textLength="146" lengthAdjust="spacingAndGlyphs"><tspan font-style="italic">ξ</tspan> = 270</text>
<text x="502.6" y="339.5" font-family='"Liberation Sans", "DejaVu Sans", sans-serif' font-size="45" text-anchor="start" font-weight="bold">a</text>
<text x="1101.4" y="343.7" font-family='"Liberation Sans", "DejaVu Sans", sans-serif' font-size="45" text-anchor="start" font-weight="bold">b</text>
<text x="384.3" y="542.2" font-family='"Liberation Sans", "DejaVu Sans", sans-serif' font-size="45" text-anchor="start" font-weight="bold">c</text>
<text x="741.3" y="546.4" font-family='"Liberation Sans", "DejaVu Sans", sans-serif' font-size="45" text-anchor="start" font-weight="bold">d</text>
<text x="1103.5" y="542.2" font-family='"Liberation Sans", "DejaVu Sans", sans-serif' font-size="45" text-anchor="start" font-weight="bold">e</text>
<text x="389" y="837.6" font-family='"Liberation Sans", "DejaVu Sans", sans-serif' font-size="45" text-anchor="start" font-weight="bold">f</text>
<text x="741.3" y="828.7" font-family='"Liberation Sans", "DejaVu Sans", sans-serif' font-size="45" text-anchor="start" font-weight="bold">g</text>
<text x="1102.1" y="837.6" font-family='"Liberation Sans", "DejaVu Sans", sans-serif' font-size="45" text-anchor="start" font-weight="bold">h</text>
<defs><filter id="hus" x="0" y="0" width="1" height="1" color-interpolation-filters="sRGB"><feGaussianBlur stdDeviation="2.3 3.1"/><feColorMatrix type="matrix" values="0 0 0 2.75 0 0 0 0 2.75 0 0 0 0 2.75 0 0 0 0 0 1"/><feComponentTransfer><feFuncR type="table" tableValues="1.0 0.996 0.992 0.992 0.992 0.945 0.851 0.651 0.498"/><feFuncG type="table" tableValues="0.961 0.902 0.816 0.682 0.553 0.412 0.282 0.212 0.153"/><feFuncB type="table" tableValues="0.922 0.808 0.635 0.42 0.235 0.075 0.004 0.012 0.016"/></feComponentTransfer></filter></defs>
<g filter="url(#hus)">
<rect x="1282" y="51.1" width="236.9" height="227.8" fill="#000" fill-opacity="0"/>
<g fill="none" stroke="#000" stroke-width="2.4">
<path stroke-opacity="0.125" d="M1492.6 165.5L1492.6 162.9M1492.6 163.5L1492.5 160.9M1492.5 161.5L1492.3 158.9M1492.4 159.5L1492 156.9M1492.1 157.5L1491.7 154.9M1491.8 155.5L1491.3 153M1491.5 153.5L1490.9 151M1491 151.6L1490.3 149.1M1490.5 149.6L1489.7 147.2M1489.9 147.7L1489 145.3M1489.3 145.8L1488.3 143.4M1488.5 144L1487.5 141.6M1487.7 142.1L1486.6 139.8M1486.8 140.3L1485.6 138M1485.9 138.6L1484.5 136.3M1484.9 136.8L1483.4 134.7M1316.6 135.5L1315.2 137.7M1315.5 137.2L1314.2 139.4M1314.5 138.9L1313.3 141.2M1313.6 140.7L1312.5 143M1312.7 142.5L1311.7 144.9M1311.9 144.3L1311 146.8M1311.2 146.2L1310.4 148.7M1310.6 148.1L1309.8 150.6M1310 150L1309.4 152.6M1309.5 152L1308.9 154.5M1309.1 153.9L1308.6 156.5M1308.7 155.9L1308.3 158.5M1308.4 157.9L1308.1 160.5M1308.2 159.9L1308 162.5M1308.1 161.9L1308 164.5M1308 163.9L1308 166.5M1308 165.9L1308.1 168.5M1308 167.9L1308.2 170.5M1308.1 169.9L1308.4 172.5M1308.3 171.9L1308.7 174.5M1308.6 173.9L1309.1 176.5M1308.9 175.9L1309.5 178.4M1309.4 177.8L1310 180.4M1309.8 179.8L1310.6 182.3M1310.4 181.7L1311.2 184.2M1311 183.6L1311.9 186.1M1311.7 185.5L1312.7 187.9M1312.5 187.4L1313.6 189.7M1313.3 189.2L1314.5 191.5M1314.2 191L1315.5 193.2M1315.2 192.7L1316.6 194.9M1483.4 195.7L1484.9 193.6M1484.5 194.1L1485.9 191.8M1485.6 192.4L1486.8 190.1M1486.6 190.6L1487.7 188.3M1487.5 188.8L1488.5 186.4M1488.3 187L1489.3 184.6M1489 185.1L1489.9 182.7M1489.7 183.2L1490.5 180.8M1490.3 181.3L1491 178.8M1490.9 179.4L1491.5 176.9M1491.3 177.4L1491.8 174.9M1491.7 175.5L1492.1 172.9M1492 173.5L1492.4 170.9M1492.3 171.5L1492.5 168.9M1492.5 169.5L1492.6 166.9M1492.6 167.5L1492.6 164.9"/>
<path stroke-opacity="0.150" d="M1483.7 135.2L1482.2 133.1M1482.6 133.5L1480.9 131.5M1481.3 132L1479.6 130M1480 130.5L1478.1 128.6M1478.6 129L1476.6 127.3M1477.1 127.7L1475.1 126.1M1324.7 126.7L1322.8 128.4M1323.2 128L1321.3 129.8M1321.7 129.3L1319.9 131.2M1320.3 130.8L1318.7 132.8M1319 132.3L1317.4 134.3M1317.8 133.9L1316.3 136M1316.3 194.4L1317.8 196.5M1317.4 196.1L1319 198.1M1318.7 197.6L1320.3 199.6M1319.9 199.2L1321.7 201.1M1321.3 200.6L1323.2 202.4M1322.8 202L1324.7 203.7M1475.1 204.3L1477.1 202.7M1476.6 203.1L1478.6 201.4M1478.1 201.8L1480 199.9M1479.6 200.4L1481.3 198.4M1480.9 198.9L1482.6 196.9M1482.2 197.3L1483.7 195.2"/>
<path stroke-opacity="0.175" d="M1475.5 126.4L1473.4 124.9M1473.9 125.2L1471.7 123.8M1472.2 124.2L1470 122.9M1470.5 123.2L1468.1 122M1468.7 122.3L1466.3 121.3M1333.4 121.7L1331 122.7M1331.5 122.5L1329.2 123.6M1329.8 123.4L1327.5 124.7M1328 124.4L1325.9 125.8M1326.4 125.5L1324.3 127M1324.3 203.4L1326.4 204.9M1325.9 204.6L1328 206M1327.5 205.7L1329.8 207M1329.2 206.8L1331.5 207.9M1331 207.7L1333.4 208.7M1466.3 209.1L1468.7 208.1M1468.1 208.4L1470.5 207.2M1470 207.5L1472.2 206.2M1471.7 206.6L1473.9 205.2M1473.4 205.5L1475.5 204"/>
<path stroke-opacity="0.200" d="M1466.8 121.5L1464.4 120.7M1464.9 120.9L1462.4 120.2M1463 120.3L1460.4 119.8M1461 119.9L1458.5 119.6M1343.1 119.5L1340.6 119.8M1341.2 119.7L1338.6 120.1M1339.2 120L1336.6 120.6M1337.2 120.4L1334.7 121.2M1335.3 121L1332.8 121.9M1332.8 208.5L1335.3 209.4M1334.7 209.2L1337.2 210M1336.6 209.8L1339.2 210.4M1338.6 210.3L1341.2 210.7M1340.6 210.6L1343.1 210.9M1458.5 210.8L1461 210.5M1460.4 210.6L1463 210.1M1462.4 210.2L1464.9 209.5M1464.4 209.7L1466.8 208.9"/>
<path stroke-opacity="0.225" d="M1459 119.6L1456.4 119.4M1457 119.5L1454.4 119.4M1455 119.4L1452.4 119.5M1453 119.5L1450.4 119.7M1351.1 119.9L1348.6 119.6M1349.2 119.6L1346.6 119.4M1347.2 119.5L1344.6 119.4M1345.2 119.4L1342.5 119.5M1342.5 210.9L1345.2 211M1344.6 211L1347.2 210.9M1346.6 211L1349.2 210.8M1348.6 210.8L1351.1 210.5M1450.4 210.7L1453 210.9M1452.4 210.9L1455 211M1454.4 211L1457 210.9M1456.4 211L1459 210.8"/>
<path stroke-opacity="0.250" d="M1451 119.7L1448.5 120.1M1449.1 120L1446.5 120.5M1447.1 120.3L1444.6 121M1445.1 120.8L1442.6 121.6M1358.9 121.9L1356.4 121.1M1357 121.3L1354.5 120.6M1355.1 120.7L1352.5 120.1M1353.1 120.3L1350.6 119.8M1350.6 210.6L1353.1 210.1M1352.5 210.3L1355.1 209.7M1354.5 209.8L1357 209.1M1356.4 209.3L1358.9 208.5M1442.6 208.8L1445.1 209.6M1444.6 209.4L1447.1 210.1M1446.5 209.9L1449.1 210.4M1448.5 210.3L1451 210.7"/>
<path stroke-opacity="0.275" d="M1443.2 121.4L1440.8 122.3M1441.3 122.1L1438.9 123M1439.5 122.8L1437.1 123.9M1364.4 124.3L1362.1 123.2M1362.6 123.4L1360.2 122.4M1360.8 122.7L1358.3 121.7M1358.3 208.7L1360.8 207.7M1360.2 208L1362.6 207M1362.1 207.2L1364.4 206.1M1437.1 206.5L1439.5 207.6M1438.9 207.4L1441.3 208.3M1440.8 208.1L1443.2 209"/>
<path stroke-opacity="0.300" d="M1437.6 123.6L1435.3 124.8M1435.8 124.5L1433.5 125.7M1434 125.4L1431.8 126.7M1368 126.2L1365.7 124.9M1366.2 125.2L1363.9 124M1363.9 206.4L1366.2 205.2M1365.7 205.5L1368 204.2M1431.8 203.7L1434 205M1433.5 204.7L1435.8 205.9M1435.3 205.6L1437.6 206.8"/>
<path stroke-opacity="0.325" d="M1432.3 126.4L1430.1 127.8M1430.6 127.4L1428.4 128.8M1371.4 128.3L1369.2 126.9M1369.7 127.2L1367.4 125.9M1367.4 204.5L1369.7 203.2M1369.2 203.5L1371.4 202.1M1428.4 201.6L1430.6 203M1430.1 202.6L1432.3 204"/>
<path stroke-opacity="0.350" d="M1428.9 128.5L1426.7 130M1427.2 129.6L1425.1 131.1M1374.7 130.5L1372.6 129.1M1373.1 129.4L1370.9 128M1370.9 202.4L1373.1 201M1372.6 201.3L1374.7 199.9M1425.1 199.3L1427.2 200.8M1426.7 200.4L1428.9 201.9"/>
<path stroke-opacity="0.375" d="M1425.6 130.8L1423.4 132.3M1376.3 131.7L1374.2 130.2M1374.2 200.2L1376.3 198.7M1423.4 198.1L1425.6 199.6"/>
<path stroke-opacity="0.400" d="M1423.9 131.9L1421.8 133.5M1379.6 134.1L1377.5 132.5M1378 132.9L1375.9 131.4M1375.9 199L1378 197.5M1377.5 197.9L1379.6 196.3M1421.8 196.9L1423.9 198.5"/>
<path stroke-opacity="0.425" d="M1422.3 133.1L1420.3 134.7M1381.1 135.3L1379.1 133.7M1379.1 196.7L1381.1 195.1M1420.3 195.7L1422.3 197.3"/>
<path stroke-opacity="0.450" d="M1420.7 134.4L1418.7 135.9M1382.7 136.6L1380.7 135M1380.7 195.4L1382.7 193.8M1418.7 194.5L1420.7 196"/>
<path stroke-opacity="0.475" d="M1419.1 135.6L1417.1 137.2M1384.3 137.8L1382.3 136.2M1382.3 194.2L1384.3 192.6M1417.1 193.2L1419.1 194.8"/>
<path stroke-opacity="0.500" d="M1417.6 136.8L1415.5 138.4M1415.5 192L1417.6 193.6"/>
<path stroke-opacity="0.525" d="M1416 138L1413.9 139.6M1385.9 139L1383.8 137.4M1383.8 193L1385.9 191.4M1413.9 190.8L1416 192.4"/>
<path stroke-opacity="0.550" d="M1387.5 140.2L1385.4 138.6M1385.4 191.8L1387.5 190.2"/>
<path stroke-opacity="0.575" d="M1414.4 139.3L1412.3 140.8M1412.3 189.6L1414.4 191.1"/>
<path stroke-opacity="0.600" d="M1389.1 141.4L1387 139.9M1387 190.5L1389.1 189"/>
<path stroke-opacity="0.625" d="M1412.8 140.5L1410.6 142M1410.6 188.4L1412.8 189.9"/>
<path stroke-opacity="0.650" d="M1390.8 142.5L1388.6 141M1388.6 189.4L1390.8 187.9"/>
<path stroke-opacity="0.675" d="M1411.1 141.6L1408.9 143M1408.9 187.4L1411.1 188.8"/>
<path stroke-opacity="0.725" d="M1392.5 143.5L1390.3 142.2M1390.3 188.2L1392.5 186.9"/>
<path stroke-opacity="0.750" d="M1409.5 142.7L1407.2 144M1407.2 186.4L1409.5 187.7"/>
<path stroke-opacity="0.775" d="M1394.3 144.5L1392 143.2M1392 187.2L1394.3 185.9"/>
<path stroke-opacity="0.825" d="M1407.7 143.7L1405.4 144.9M1405.4 185.5L1407.7 186.7"/>
<path stroke-opacity="0.850" d="M1396.2 145.2L1393.8 144.2M1393.8 186.2L1396.2 185.2"/>
<path stroke-opacity="0.900" d="M1405.9 144.6L1403.5 145.5M1403.5 184.9L1405.9 185.8"/>
<path stroke-opacity="0.925" d="M1398.1 145.7L1395.6 145M1395.6 185.4L1398.1 184.7"/>
<path stroke-opacity="0.975" d="M1404.1 145.3L1401.5 145.9M1401.5 184.5L1404.1 185.1"/>
<path stroke-opacity="1.000" d="M1402.1 145.8L1399.5 145.9M1400.1 145.9L1397.5 145.6M1397.5 184.8L1400.1 184.5M1399.5 184.5L1402.1 184.6"/>
</g>
</g>
<path d="M1298.3 278.9v-7M1298.3 51.1v7M1400.3 278.9v-7M1400.3 51.1v7M1502.3 278.9v-7M1502.3 51.1v7M1349.3 278.9v-3.8M1349.3 51.1v3.8M1451.3 278.9v-3.8M1451.3 51.1v3.8M1282 256.3h7M1518.9 256.3h-7M1282 165.2h7M1518.9 165.2h-7M1282 74.1h7M1518.9 74.1h-7M1282 210.7h3.8M1518.9 210.7h-3.8M1282 119.7h3.8M1518.9 119.7h-3.8" stroke="#000" stroke-width="2.4" fill="none"/>
<rect x="1282" y="51.1" width="236.9" height="227.8" fill="none" stroke="#000" stroke-width="2.7"/>
<text transform="translate(1281.6 267.5) scale(0.93 1)" font-family='"Liberation Serif", "DejaVu Serif", serif' font-size="45.5" text-anchor="end">-12</text>
<text transform="translate(1281.6 176.4) scale(0.93 1)" font-family='"Liberation Serif", "DejaVu Serif", serif' font-size="45.5" text-anchor="end">0</text>
<text transform="translate(1281.6 85.3) scale(0.93 1)" font-family='"Liberation Serif", "DejaVu Serif", serif' font-size="45.5" text-anchor="end">12</text>
<text transform="translate(1211.5 161.9) rotate(-90)" font-family='"Liberation Serif", "DejaVu Serif", serif' font-size="47" text-anchor="middle"><tspan font-style="italic">p</tspan></text>
<g filter="url(#hus)">
<rect x="1282" y="301.3" width="236.9" height="227.8" fill="#000" fill-opacity="0"/>
<g fill="none" stroke="#000" stroke-width="2.4">
<path stroke-opacity="0.025" d="M1456.7 371.8L1454.1 371.8M1454.7 371.8L1452.1 372M1452.7 371.9L1450.1 372.3M1450.7 372.2L1448.1 372.7M1448.7 372.6L1446.2 373.3M1446.8 373.1L1444.3 373.9M1444.9 373.7L1442.4 374.6M1443 374.4L1440.6 375.4M1441.1 375.2L1438.8 376.3M1439.3 376L1437 377.2M1437.5 376.9L1435.3 378.2M1364.5 377.7L1362.2 376.5M1362.7 376.7L1360.4 375.6M1360.9 375.8L1358.5 374.8M1359.1 375L1356.7 374M1357.2 374.2L1354.8 373.4M1355.4 373.6L1352.8 372.8M1353.4 373L1350.9 372.4M1351.5 372.5L1348.9 372.1M1349.5 372.1L1346.9 371.8M1347.5 371.9L1344.9 371.8M1344.9 459L1347.5 458.9M1346.9 459L1349.5 458.7M1348.9 458.7L1351.5 458.3M1350.9 458.4L1353.4 457.8M1352.8 458L1355.4 457.2M1354.8 457.4L1357.2 456.6M1356.7 456.8L1359.1 455.8M1358.5 456L1360.9 455M1360.4 455.2L1362.7 454.1M1362.2 454.3L1364.5 453.1M1435.3 452.6L1437.5 453.9M1437 453.6L1439.3 454.8M1438.8 454.5L1441.1 455.6M1440.6 455.4L1443 456.4M1442.4 456.2L1444.9 457.1M1444.3 456.9L1446.8 457.7M1446.2 457.5L1448.7 458.2M1448.1 458.1L1450.7 458.6M1450.1 458.5L1452.7 458.9M1452.1 458.8L1454.7 459M1454.1 459L1456.7 459"/>
<path stroke-opacity="0.050" d="M1435.8 377.9L1433.6 379.3M1434.1 379L1431.9 380.5M1432.4 380.1L1430.3 381.6M1430.8 381.3L1428.7 382.9M1429.2 382.5L1427.2 384.2M1427.6 383.8L1425.7 385.5M1426.1 385.1L1424.2 386.8M1424.6 386.4L1422.7 388.2M1423.2 387.8L1421.3 389.6M1421.7 389.2L1419.9 391M1420.3 390.6L1418.5 392.5M1382.7 393.2L1381 391.3M1381.4 391.8L1379.6 389.9M1380 390.3L1378.2 388.5M1378.6 388.9L1376.7 387.1M1377.1 387.5L1375.2 385.7M1375.7 386.1L1373.7 384.4M1374.2 384.8L1372.2 383.1M1372.6 383.5L1370.6 381.9M1371.1 382.3L1369 380.7M1369.5 381L1367.3 379.5M1367.8 379.9L1365.7 378.5M1366.2 378.8L1363.9 377.4M1363.9 453.4L1366.2 452M1365.7 452.3L1367.8 450.9M1367.3 451.3L1369.5 449.8M1369 450.1L1371.1 448.5M1370.6 448.9L1372.6 447.3M1372.2 447.7L1374.2 446M1373.7 446.4L1375.7 444.7M1375.2 445.1L1377.1 443.3M1376.7 443.7L1378.6 441.9M1378.2 442.3L1380 440.5M1379.6 440.9L1381.4 439M1381 439.5L1382.7 437.6M1418.5 438.3L1420.3 440.2M1419.9 439.8L1421.7 441.6M1421.3 441.2L1423.2 443M1422.7 442.6L1424.6 444.4M1424.2 444L1426.1 445.7M1425.7 445.3L1427.6 447M1427.2 446.6L1429.2 448.3M1428.7 447.9L1430.8 449.5M1430.3 449.2L1432.4 450.7M1431.9 450.3L1434.1 451.8M1433.6 451.5L1435.8 452.9"/>
<path stroke-opacity="0.075" d="M1418.9 392.1L1417.2 394M1417.6 393.5L1415.9 395.5M1416.2 395L1414.5 397M1414.9 396.5L1413.3 398.5M1388 399.3L1386.3 397.3M1386.7 397.8L1385 395.8M1385.4 396.2L1383.7 394.3M1384.1 394.7L1382.3 392.8M1382.3 438L1384.1 436.1M1383.7 436.5L1385.4 434.6M1385 435L1386.7 433M1386.3 433.5L1388 431.5M1413.3 432.3L1414.9 434.3M1414.5 433.8L1416.2 435.8M1415.9 435.3L1417.6 437.3M1417.2 436.8L1418.9 438.7"/>
<path stroke-opacity="0.100" d="M1413.6 398.1L1412 400.1M1412.4 399.6L1410.7 401.7M1411.1 401.2L1409.5 403.2M1390.5 402.4L1388.9 400.4M1389.3 400.9L1387.6 398.9M1387.6 431.9L1389.3 429.9M1388.9 430.4L1390.5 428.4M1409.5 427.6L1411.1 429.6M1410.7 429.1L1412.4 431.2M1412 430.7L1413.6 432.7"/>
<path stroke-opacity="0.125" d="M1409.9 402.8L1408.2 404.8M1393 405.6L1391.4 403.5M1391.7 404L1390.1 402M1390.1 428.8L1391.7 426.8M1391.4 427.3L1393 425.2M1408.2 426L1409.9 428"/>
<path stroke-opacity="0.150" d="M1408.6 404.3L1407 406.4M1394.2 407.2L1392.6 405.1M1392.6 425.7L1394.2 423.6M1407 424.4L1408.6 426.5"/>
<path stroke-opacity="0.175" d="M1407.4 405.9L1405.8 408M1405.8 422.8L1407.4 424.9"/>
<path stroke-opacity="0.200" d="M1406.2 407.5L1404.6 409.6M1395.4 408.8L1393.8 406.7M1393.8 424.1L1395.4 422M1404.6 421.2L1406.2 423.3"/>
<path stroke-opacity="0.250" d="M1396.6 410.4L1395 408.3M1395 422.5L1396.6 420.4"/>
<path stroke-opacity="0.275" d="M1405 409.1L1403.4 411.2M1403.4 419.6L1405 421.7"/>
<path stroke-opacity="0.325" d="M1397.8 412L1396.2 409.9M1396.2 420.9L1397.8 418.8"/>
<path stroke-opacity="0.400" d="M1403.8 410.7L1402.2 412.8M1402.2 418L1403.8 420.1"/>
<path stroke-opacity="0.500" d="M1399 413.6L1397.4 411.5M1397.4 419.3L1399 417.2"/>
<path stroke-opacity="0.725" d="M1402.6 412.3L1401 414.4M1401 416.4L1402.6 418.5"/>
<path stroke-opacity="1.000" d="M1401.4 414.1L1399.8 415.1M1400.2 415.2L1398.6 413.1M1398.6 417.7L1400.2 415.6M1399.8 415.7L1401.4 416.7"/>
</g>
</g>
<path d="M1298.3 529.1v-7M1298.3 301.3v7M1400.3 529.1v-7M1400.3 301.3v7M1502.3 529.1v-7M1502.3 301.3v7M1349.3 529.1v-3.8M1349.3 301.3v3.8M1451.3 529.1v-3.8M1451.3 301.3v3.8M1282 506.5h7M1518.9 506.5h-7M1282 415.4h7M1518.9 415.4h-7M1282 324.3h7M1518.9 324.3h-7M1282 460.9h3.8M1518.9 460.9h-3.8M1282 369.9h3.8M1518.9 369.9h-3.8" stroke="#000" stroke-width="2.4" fill="none"/>
<rect x="1282" y="301.3" width="236.9" height="227.8" fill="none" stroke="#000" stroke-width="2.7"/>
<text transform="translate(1281.6 517.7) scale(0.93 1)" font-family='"Liberation Serif", "DejaVu Serif", serif' font-size="45.5" text-anchor="end">-12</text>
<text transform="translate(1281.6 426.6) scale(0.93 1)" font-family='"Liberation Serif", "DejaVu Serif", serif' font-size="45.5" text-anchor="end">0</text>
<text transform="translate(1281.6 335.5) scale(0.93 1)" font-family='"Liberation Serif", "DejaVu Serif", serif' font-size="45.5" text-anchor="end">12</text>
<text transform="translate(1211.5 412.1) rotate(-90)" font-family='"Liberation Serif", "DejaVu Serif", serif' font-size="47" text-anchor="middle"><tspan font-style="italic">p</tspan></text>
<g filter="url(#hus)">
<rect x="1282" y="551.3" width="236.9" height="227.8" fill="#000" fill-opacity="0"/>
<g fill="none" stroke="#000" stroke-width="2.4">
<path stroke-opacity="0.225" d="M1488 676.5L1488.5 674M1488.4 674.6L1488.8 672M1488.7 672.6L1489 670M1489 670.6L1489.2 668M1489.1 668.6L1489.2 665.9M1489.2 666.5L1489.2 663.9M1489.2 664.5L1489.1 661.9M1489.1 662.5L1488.9 659.9M1489 660.5L1488.7 657.9M1488.8 658.5L1488.3 655.9M1488.4 656.5L1487.9 654M1312.6 676.5L1312.1 674M1312.2 674.6L1311.8 672M1311.9 672.6L1311.6 670M1311.6 670.6L1311.4 668M1311.5 668.6L1311.4 665.9M1311.4 666.5L1311.4 663.9M1311.4 664.5L1311.5 661.9M1311.5 662.5L1311.7 659.9M1311.6 660.5L1311.9 657.9M1311.8 658.5L1312.3 655.9M1312.2 656.5L1312.7 654"/>
<path stroke-opacity="0.250" d="M1483.8 687.8L1484.9 685.5M1484.7 686L1485.7 683.6M1485.5 684.2L1486.5 681.7M1486.2 682.3L1487.1 679.8M1486.9 680.4L1487.6 677.9M1487.5 678.5L1488.1 675.9M1488 654.5L1487.4 652M1487.6 652.6L1486.8 650.1M1487 650.6L1486.1 648.2M1486.3 648.7L1485.4 646.3M1485.6 646.9L1484.5 644.5M1484.8 645L1483.6 642.7M1316.8 687.8L1315.7 685.5M1315.9 686L1314.9 683.6M1315.1 684.2L1314.1 681.7M1314.4 682.3L1313.5 679.8M1313.7 680.4L1313 677.9M1313.1 678.5L1312.5 675.9M1312.6 654.5L1313.2 652M1313 652.6L1313.8 650.1M1313.6 650.6L1314.5 648.2M1314.3 648.7L1315.2 646.3M1315 646.9L1316.1 644.5M1315.8 645L1317 642.7"/>
<path stroke-opacity="0.275" d="M1479.2 694.4L1480.8 692.4M1480.5 692.9L1482 690.8M1481.6 691.3L1483.1 689M1482.7 689.6L1484 687.3M1483.9 643.2L1482.6 641M1482.9 641.5L1481.5 639.3M1481.8 639.8L1480.3 637.7M1480.6 638.1L1479 636.1M1321.4 694.4L1319.8 692.4M1320.1 692.9L1318.6 690.8M1319 691.3L1317.5 689M1317.9 689.6L1316.6 687.3M1316.7 643.2L1318 641M1317.7 641.5L1319.1 639.3M1318.8 639.8L1320.3 637.7M1320 638.1L1321.6 636.1"/>
<path stroke-opacity="0.300" d="M1476.4 697.3L1478.2 695.5M1477.8 695.9L1479.6 694M1479.4 636.6L1477.6 634.6M1478 635.1L1476.1 633.2M1324.2 697.3L1322.4 695.5M1322.8 695.9L1321 694M1321.2 636.6L1323 634.6M1322.6 635.1L1324.5 633.2"/>
<path stroke-opacity="0.325" d="M1471.5 700.9L1473.7 699.5M1473.2 699.8L1475.3 698.3M1474.8 698.6L1476.8 696.9M1476.6 633.7L1474.6 632M1475.1 632.3L1473 630.8M1473.4 631.1L1471.2 629.7M1329.1 700.9L1326.9 699.5M1327.4 699.8L1325.3 698.3M1325.8 698.6L1323.8 696.9M1324 633.7L1326 632M1325.5 632.3L1327.6 630.8M1327.2 631.1L1329.4 629.7"/>
<path stroke-opacity="0.350" d="M1467.9 702.7L1470.3 701.6M1469.8 701.9L1472 700.6M1471.8 630L1469.5 628.8M1470 629L1467.6 628M1332.7 702.7L1330.3 701.6M1330.8 701.9L1328.6 700.6M1328.8 630L1331.1 628.8M1330.6 629L1333 628"/>
<path stroke-opacity="0.375" d="M1464.1 704L1466.6 703.2M1466 703.4L1468.5 702.5M1468.2 628.2L1465.7 627.3M1466.3 627.5L1463.8 626.8M1336.5 704L1334 703.2M1334.6 703.4L1332.1 702.5M1332.4 628.2L1334.9 627.3M1334.3 627.5L1336.8 626.8"/>
<path stroke-opacity="0.400" d="M1460.1 704.6L1462.7 704.3M1462.1 704.4L1464.7 703.8M1464.4 626.9L1461.8 626.4M1462.4 626.5L1459.8 626.2M1340.5 704.6L1337.9 704.3M1338.5 704.4L1335.9 703.8M1336.2 626.9L1338.8 626.4M1338.2 626.5L1340.8 626.2"/>
<path stroke-opacity="0.425" d="M1456.1 704.6L1458.7 704.7M1458.1 704.7L1460.7 704.5M1460.4 626.2L1457.8 626.1M1458.4 626.1L1455.8 626.2M1344.5 704.6L1341.9 704.7M1342.5 704.7L1339.9 704.5M1340.2 626.2L1342.8 626.1M1342.2 626.1L1344.8 626.2"/>
<path stroke-opacity="0.450" d="M1452.1 704.1L1454.7 704.5M1454.1 704.4L1456.7 704.7M1456.4 626.2L1453.8 626.4M1454.4 626.3L1451.8 626.8M1348.5 704.1L1345.9 704.5M1346.5 704.4L1343.9 704.7M1344.2 626.2L1346.8 626.4M1346.2 626.3L1348.8 626.8"/>
<path stroke-opacity="0.475" d="M1448.2 703L1450.7 703.7M1450.1 703.6L1452.7 704.2M1452.4 626.7L1449.8 627.3M1450.4 627.1L1447.9 627.9M1352.4 703L1349.9 703.7M1350.5 703.6L1347.9 704.2M1348.2 626.7L1350.8 627.3M1350.2 627.1L1352.7 627.9"/>
<path stroke-opacity="0.500" d="M1444.5 701.4L1446.9 702.5M1446.3 702.2L1448.8 703.2M1448.5 627.7L1446 628.7M1446.6 628.5L1444.2 629.5M1356.1 701.4L1353.7 702.5M1354.3 702.2L1351.8 703.2M1352.1 627.7L1354.6 628.7M1354 628.5L1356.4 629.5"/>
<path stroke-opacity="0.525" d="M1441 699.4L1443.3 700.8M1442.7 700.5L1445.1 701.7M1444.8 629.3L1442.4 630.5M1443 630.2L1440.7 631.6M1359.6 699.4L1357.3 700.8M1357.9 700.5L1355.5 701.7M1355.8 629.3L1358.2 630.5M1357.6 630.2L1359.9 631.6"/>
<path stroke-opacity="0.550" d="M1437.7 697.1L1439.8 698.6M1439.3 698.3L1441.5 699.7M1441.2 631.2L1439.1 632.7M1439.6 632.3L1437.5 633.9M1362.9 697.1L1360.8 698.6M1361.3 698.3L1359.1 699.7M1359.4 631.2L1361.5 632.7M1361 632.3L1363.1 633.9"/>
<path stroke-opacity="0.575" d="M1436.2 695.8L1438.2 697.5M1437.9 633.5L1435.9 635.2M1364.4 695.8L1362.4 697.5M1362.7 633.5L1364.7 635.2"/>
<path stroke-opacity="0.600" d="M1436.4 634.8L1434.4 636.6M1433.2 693.1L1435.1 694.9M1434.7 694.5L1436.6 696.2M1364.2 634.8L1366.2 636.6M1367.4 693.1L1365.5 694.9M1365.9 694.5L1364 696.2"/>
<path stroke-opacity="0.625" d="M1434.9 636.1L1433 638M1433.4 637.6L1431.6 639.5M1431.8 691.6L1433.6 693.5M1365.7 636.1L1367.6 638M1367.2 637.6L1369 639.5M1368.8 691.6L1367 693.5"/>
<path stroke-opacity="0.650" d="M1432 639L1430.3 641M1430.5 690.1L1432.2 692M1368.6 639L1370.3 641M1370.1 690.1L1368.4 692"/>
<path stroke-opacity="0.675" d="M1430.7 640.5L1429.1 642.6M1429.3 688.5L1430.9 690.5M1369.9 640.5L1371.5 642.6M1371.3 688.5L1369.7 690.5"/>
<path stroke-opacity="0.700" d="M1429.4 642.1L1427.9 644.2M1428.1 686.8L1429.6 689M1371.2 642.1L1372.7 644.2M1372.5 686.8L1371 689"/>
<path stroke-opacity="0.725" d="M1428.2 643.7L1426.8 645.9M1427 685.2L1428.4 687.3M1372.4 643.7L1373.8 645.9M1373.6 685.2L1372.2 687.3"/>
<path stroke-opacity="0.750" d="M1427.1 645.4L1425.8 647.6M1425.9 683.4L1427.3 685.7M1373.5 645.4L1374.8 647.6M1374.7 683.4L1373.3 685.7"/>
<path stroke-opacity="0.775" d="M1425 681.7L1426.2 684M1375.6 681.7L1374.4 684"/>
<path stroke-opacity="0.800" d="M1426.1 647.1L1424.8 649.4M1374.5 647.1L1375.8 649.4"/>
<path stroke-opacity="0.825" d="M1425.1 648.9L1423.9 651.2M1424.1 679.9L1425.2 682.2M1375.5 648.9L1376.7 651.2M1376.5 679.9L1375.4 682.2"/>
<path stroke-opacity="0.850" d="M1424.2 650.7L1423.1 653.1M1423.3 678L1424.3 680.4M1376.4 650.7L1377.5 653.1M1377.3 678L1376.3 680.4"/>
<path stroke-opacity="0.875" d="M1423.4 652.5L1422.5 655M1422.6 676.1L1423.5 678.6M1377.2 652.5L1378.1 655M1378 676.1L1377.1 678.6"/>
<path stroke-opacity="0.900" d="M1422 674.2L1422.8 676.7M1378.6 674.2L1377.8 676.7"/>
<path stroke-opacity="0.925" d="M1422.6 654.4L1421.9 656.9M1378 654.4L1378.7 656.9"/>
<path stroke-opacity="0.950" d="M1422 656.3L1421.4 658.9M1421.5 672.3L1422.1 674.8M1378.6 656.3L1379.2 658.9M1379.1 672.3L1378.5 674.8"/>
<path stroke-opacity="0.975" d="M1421.5 658.3L1421 660.8M1421.1 660.2L1420.8 662.8M1420.8 668.3L1421.2 670.9M1421.1 670.3L1421.6 672.8M1379.1 658.3L1379.6 660.8M1379.5 660.2L1379.8 662.8M1379.8 668.3L1379.4 670.9M1379.5 670.3L1379 672.8"/>
<path stroke-opacity="1.000" d="M1420.9 662.2L1420.7 664.9M1420.7 664.3L1420.7 666.9M1420.7 666.3L1420.9 668.9M1379.7 662.2L1379.9 664.9M1379.9 664.3L1379.9 666.9M1379.9 666.3L1379.7 668.9"/>
</g>
</g>
<path d="M1298.3 779.1v-7M1298.3 551.3v7M1400.3 779.1v-7M1400.3 551.3v7M1502.3 779.1v-7M1502.3 551.3v7M1349.3 779.1v-3.8M1349.3 551.3v3.8M1451.3 779.1v-3.8M1451.3 551.3v3.8M1282 756.5h7M1518.9 756.5h-7M1282 665.4h7M1518.9 665.4h-7M1282 574.3h7M1518.9 574.3h-7M1282 710.9h3.8M1518.9 710.9h-3.8M1282 619.9h3.8M1518.9 619.9h-3.8" stroke="#000" stroke-width="2.4" fill="none"/>
<rect x="1282" y="551.3" width="236.9" height="227.8" fill="none" stroke="#000" stroke-width="2.7"/>
<text transform="translate(1281.6 767.7) scale(0.93 1)" font-family='"Liberation Serif", "DejaVu Serif", serif' font-size="45.5" text-anchor="end">-12</text>
<text transform="translate(1281.6 676.6) scale(0.93 1)" font-family='"Liberation Serif", "DejaVu Serif", serif' font-size="45.5" text-anchor="end">0</text>
<text transform="translate(1281.6 585.5) scale(0.93 1)" font-family='"Liberation Serif", "DejaVu Serif", serif' font-size="45.5" text-anchor="end">12</text>
<text transform="translate(1211.5 662.1) rotate(-90)" font-family='"Liberation Serif", "DejaVu Serif", serif' font-size="47" text-anchor="middle"><tspan font-style="italic">p</tspan></text>
<g filter="url(#hus)">
<rect x="1282" y="801.3" width="236.9" height="227.8" fill="#000" fill-opacity="0"/>
<g fill="none" stroke="#000" stroke-width="2.4">
<path stroke-opacity="0.600" d="M1477 922.1L1477.6 919.6M1477.5 920.2L1477.8 917.6M1477.8 918.2L1477.9 915.6M1477.9 916.2L1477.9 913.6M1477.9 914.2L1477.6 911.6M1477.7 912.2L1477.3 909.6M1477.4 910.2L1476.7 907.7M1323.6 922.1L1323 919.6M1323.1 920.2L1322.8 917.6M1322.8 918.2L1322.7 915.6M1322.7 916.2L1322.7 913.6M1322.7 914.2L1323 911.6M1322.9 912.2L1323.3 909.6M1323.2 910.2L1323.9 907.7"/>
<path stroke-opacity="0.625" d="M1475.6 925.9L1476.6 923.5M1476.4 924L1477.2 921.6M1476.9 908.3L1476 905.8M1325 925.9L1324 923.5M1324.2 924L1323.4 921.6M1323.7 908.3L1324.6 905.8"/>
<path stroke-opacity="0.650" d="M1474.7 927.7L1475.9 925.3M1476.3 906.4L1475.2 904M1325.9 927.7L1324.7 925.3M1324.3 906.4L1325.4 904"/>
<path stroke-opacity="0.675" d="M1475.4 904.5L1474.1 902.3M1325.2 904.5L1326.5 902.3"/>
<path stroke-opacity="0.700" d="M1473.5 929.3L1475 927.1M1474.4 902.8L1472.9 900.7M1327.1 929.3L1325.6 927.1M1326.2 902.8L1327.7 900.7"/>
<path stroke-opacity="0.725" d="M1472.2 930.8L1473.9 928.8M1328.4 930.8L1326.7 928.8"/>
<path stroke-opacity="0.750" d="M1470.7 932.2L1472.6 930.4M1473.3 901.1L1471.5 899.2M1329.9 932.2L1328 930.4M1327.3 901.1L1329.1 899.2"/>
<path stroke-opacity="0.775" d="M1471.9 899.7L1469.9 898M1328.7 899.7L1330.7 898"/>
<path stroke-opacity="0.800" d="M1469.1 933.3L1471.2 931.8M1331.5 933.3L1329.4 931.8"/>
<path stroke-opacity="0.825" d="M1470.4 898.4L1468.2 897M1330.2 898.4L1332.4 897"/>
<path stroke-opacity="0.850" d="M1467.3 934.2L1469.6 933M1333.3 934.2L1331 933"/>
<path stroke-opacity="0.875" d="M1468.7 897.3L1466.3 896.3M1331.9 897.3L1334.3 896.3"/>
<path stroke-opacity="0.900" d="M1465.3 934.7L1467.8 934M1335.3 934.7L1332.8 934"/>
<path stroke-opacity="0.925" d="M1466.9 896.5L1464.3 895.9M1333.7 896.5L1336.3 895.9"/>
<path stroke-opacity="0.950" d="M1463.3 934.9L1465.9 934.6M1464.9 896L1462.3 895.9M1449.8 906.8L1449 909.2M1449.2 908.7L1448.6 911.2M1448.7 910.6L1448.3 913.2M1448.4 912.6L1448.3 915.2M1448.3 914.6L1448.3 917.2M1448.3 916.6L1448.5 919.2M1448.5 918.6L1448.9 921.2M1448.8 920.6L1449.5 923.1M1337.3 934.9L1334.7 934.6M1335.7 896L1338.3 895.9M1350.8 906.8L1351.6 909.2M1351.4 908.7L1352 911.2M1351.9 910.6L1352.3 913.2M1352.2 912.6L1352.3 915.2M1352.3 914.6L1352.3 917.2M1352.3 916.6L1352.1 919.2M1352.1 918.6L1351.7 921.2M1351.8 920.6L1351.1 923.1"/>
<path stroke-opacity="0.975" d="M1461.3 934.8L1463.9 934.9M1462.9 895.9L1460.3 896.2M1454 900L1452.3 902M1452.7 901.5L1451.3 903.7M1451.6 903.2L1450.3 905.5M1450.6 904.9L1449.6 907.3M1449.3 922.5L1450.2 925M1450 924.4L1451.1 926.8M1450.8 926.3L1452.1 928.5M1451.8 928L1453.4 930.1M1339.3 934.8L1336.7 934.9M1337.7 895.9L1340.3 896.2M1346.6 900L1348.3 902M1347.9 901.5L1349.3 903.7M1349 903.2L1350.3 905.5M1350 904.9L1351 907.3M1351.3 922.5L1350.4 925M1350.6 924.4L1349.5 926.8M1349.8 926.3L1348.5 928.5M1348.8 928L1347.2 930.1"/>
<path stroke-opacity="1.000" d="M1459.4 934.3L1461.9 934.9M1460.9 896.1L1458.4 896.9M1459 896.7L1456.7 897.8M1457.2 897.5L1455.1 899M1455.5 898.7L1453.6 900.4M1453 929.6L1454.8 931.5M1454.3 931.1L1456.3 932.8M1455.9 932.4L1458.1 933.8M1457.5 933.5L1460 934.5M1341.2 934.3L1338.7 934.9M1339.7 896.1L1342.2 896.9M1341.6 896.7L1343.9 897.8M1343.4 897.5L1345.5 899M1345.1 898.7L1347 900.4M1347.6 929.6L1345.8 931.5M1346.3 931.1L1344.3 932.8M1344.7 932.4L1342.5 933.8M1343.1 933.5L1340.6 934.5"/>
</g>
</g>
<path d="M1298.3 1029.1v-7M1298.3 801.3v7M1400.3 1029.1v-7M1400.3 801.3v7M1502.3 1029.1v-7M1502.3 801.3v7M1349.3 1029.1v-3.8M1349.3 801.3v3.8M1451.3 1029.1v-3.8M1451.3 801.3v3.8M1282 1006.5h7M1518.9 1006.5h-7M1282 915.4h7M1518.9 915.4h-7M1282 824.3h7M1518.9 824.3h-7M1282 960.9h3.8M1518.9 960.9h-3.8M1282 869.9h3.8M1518.9 869.9h-3.8" stroke="#000" stroke-width="2.4" fill="none"/>
<rect x="1282" y="801.3" width="236.9" height="227.8" fill="none" stroke="#000" stroke-width="2.7"/>
<text transform="translate(1281.6 1017.7) scale(0.93 1)" font-family='"Liberation Serif", "DejaVu Serif", serif' font-size="45.5" text-anchor="end">-12</text>
<text transform="translate(1281.6 926.6) scale(0.93 1)" font-family='"Liberation Serif", "DejaVu Serif", serif' font-size="45.5" text-anchor="end">0</text>
<text transform="translate(1281.6 835.5) scale(0.93 1)" font-family='"Liberation Serif", "DejaVu Serif", serif' font-size="45.5" text-anchor="end">12</text>
<text transform="translate(1211.5 912.1) rotate(-90)" font-family='"Liberation Serif", "DejaVu Serif", serif' font-size="47" text-anchor="middle"><tspan font-style="italic">p</tspan></text>
<text transform="translate(1300.3 1063.8) scale(0.93 1)" font-family='"Liberation Serif", "DejaVu Serif", serif' font-size="45.5" text-anchor="middle">-30</text>
<text transform="translate(1400.6 1063.8) scale(0.93 1)" font-family='"Liberation Serif", "DejaVu Serif", serif' font-size="45.5" text-anchor="middle">0</text>
<text transform="translate(1501.9 1063.8) scale(0.93 1)" font-family='"Liberation Serif", "DejaVu Serif", serif' font-size="45.5" text-anchor="middle">30</text>
<text x="1401.4" y="1108" font-family='"Liberation Serif", "DejaVu Serif", serif' font-size="47" text-anchor="middle"><tspan font-style="italic">q</tspan></text>
<text x="1326.7" y="255.4" font-family='"Liberation Serif", "DejaVu Serif", serif' font-size="35" textLength="87.6" lengthAdjust="spacingAndGlyphs">1.10<tspan font-style="italic">E</tspan></text>
<text x="1416" y="254.4" font-family='"Liberation Serif", "DejaVu Serif", serif' font-size="35" text-anchor="start">′</text>
<text x="1415.5" y="266.4" font-family='"Liberation Serif", "DejaVu Serif", serif' font-size="27.5" textLength="80.9" lengthAdjust="spacingAndGlyphs">ESQPT</text>
<text x="1352.6" y="505.6" font-family='"Liberation Serif", "DejaVu Serif", serif' font-size="35" textLength="24.7" lengthAdjust="spacingAndGlyphs"><tspan font-style="italic">E</tspan></text>
<text x="1379" y="504.6" font-family='"Liberation Serif", "DejaVu Serif", serif' font-size="35" text-anchor="start">′</text>
<text x="1378.5" y="516.6" font-family='"Liberation Serif", "DejaVu Serif", serif' font-size="27.5" textLength="80.2" lengthAdjust="spacingAndGlyphs">ESQPT</text>
<text x="1326.7" y="755.6" font-family='"Liberation Serif", "DejaVu Serif", serif' font-size="35" textLength="87.6" lengthAdjust="spacingAndGlyphs">0.81<tspan font-style="italic">E</tspan></text>
<text x="1416" y="754.6" font-family='"Liberation Serif", "DejaVu Serif", serif' font-size="35" text-anchor="start">′</text>
<text x="1415.5" y="766.6" font-family='"Liberation Serif", "DejaVu Serif", serif' font-size="27.5" textLength="80.9" lengthAdjust="spacingAndGlyphs">ESQPT</text>
<text x="1326.7" y="1005.6" font-family='"Liberation Serif", "DejaVu Serif", serif' font-size="35" textLength="87.6" lengthAdjust="spacingAndGlyphs">0.20<tspan font-style="italic">E</tspan></text>
<text x="1416" y="1004.6" font-family='"Liberation Serif", "DejaVu Serif", serif' font-size="35" text-anchor="start">′</text>
<text x="1415.5" y="1016.6" font-family='"Liberation Serif", "DejaVu Serif", serif' font-size="27.5" textLength="80.9" lengthAdjust="spacingAndGlyphs">ESQPT</text>
<text x="1491.3" y="98.3" font-family='"Liberation Sans", "DejaVu Sans", sans-serif' font-size="45" text-anchor="start" font-weight="bold">l</text>
<text x="1483.8" y="349.9" font-family='"Liberation Sans", "DejaVu Sans", sans-serif' font-size="45" text-anchor="start" font-weight="bold">k</text>
<text x="1493.6" y="601.6" font-family='"Liberation Sans", "DejaVu Sans", sans-serif' font-size="45" text-anchor="start" font-weight="bold">j</text>
<text x="1491.5" y="851.5" font-family='"Liberation Sans", "DejaVu Sans", sans-serif' font-size="45" text-anchor="start" font-weight="bold">i</text>
</svg>
</body></html>
